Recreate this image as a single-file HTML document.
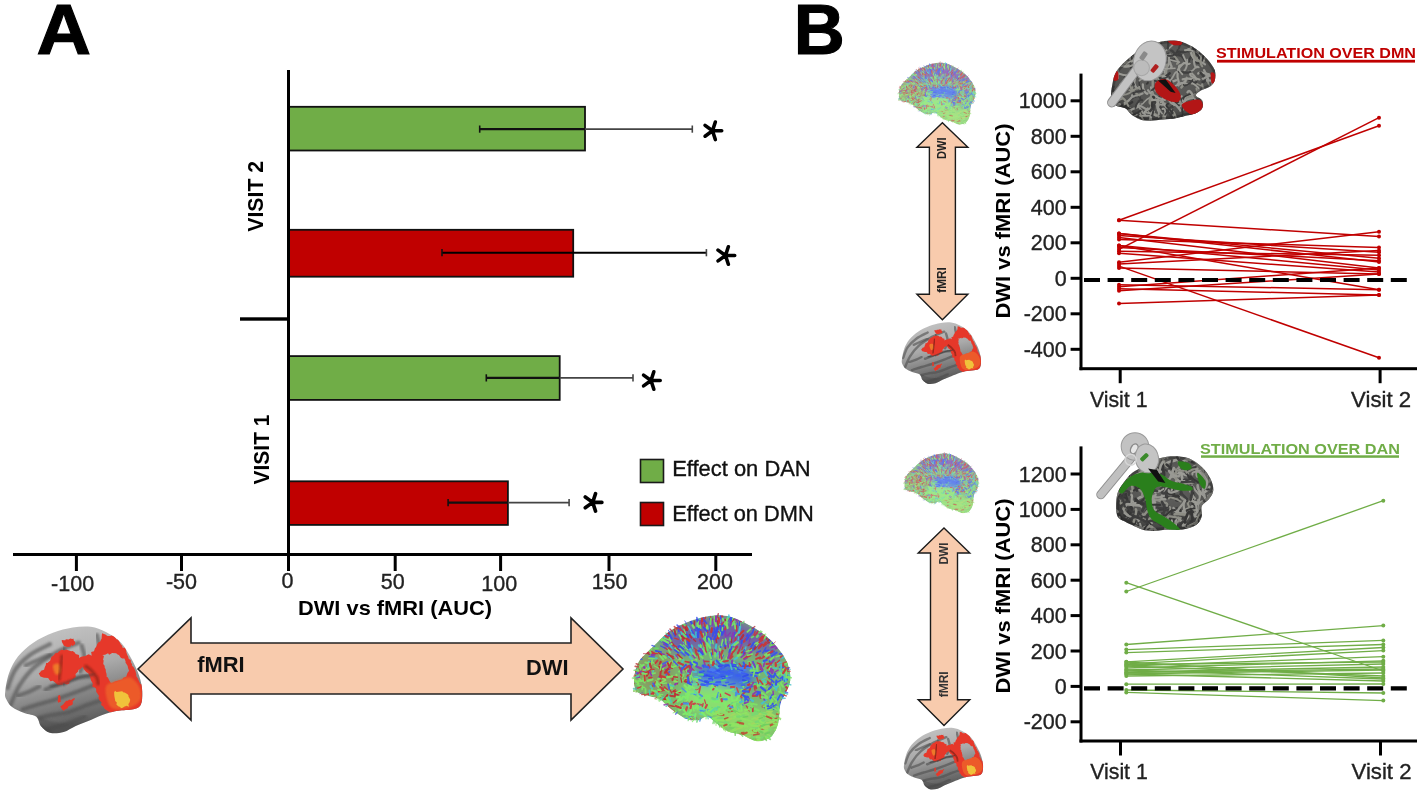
<!DOCTYPE html>
<html><head><meta charset="utf-8"><style>
html,body{margin:0;padding:0;background:#fff;}
body{width:1422px;height:793px;overflow:hidden;}
svg{display:block;font-family:"Liberation Sans", sans-serif;filter:blur(0.4px);}
</style></head><body>
<svg width="1422" height="793" viewBox="0 0 1422 793">
<rect width="1422" height="793" fill="#fff"/>
<text x="36.5" y="54.3" font-size="70.5" font-weight="bold" text-anchor="start" fill="#000" stroke="#000" stroke-width="1.1" textLength="54.5" lengthAdjust="spacingAndGlyphs">A</text>
<text x="793.8" y="54.3" font-size="70.5" font-weight="bold" text-anchor="start" fill="#000" stroke="#000" stroke-width="1.1" textLength="51" lengthAdjust="spacingAndGlyphs">B</text>
<rect x="289.00" y="106.80" width="296.00" height="43.70" fill="#70AD47" stroke="#111" stroke-width="1.8"/>
<rect x="289.00" y="229.80" width="284.20" height="46.90" fill="#C00000" stroke="#111" stroke-width="1.8"/>
<rect x="289.00" y="356.10" width="270.70" height="43.80" fill="#70AD47" stroke="#111" stroke-width="1.8"/>
<rect x="289.00" y="481.30" width="218.90" height="43.60" fill="#C00000" stroke="#111" stroke-width="1.8"/>
<line x1="479.70" y1="129.10" x2="585.00" y2="129.10" stroke="#111" stroke-width="2.2" />
<line x1="585.00" y1="129.10" x2="692.30" y2="129.10" stroke="#444" stroke-width="1.6" />
<line x1="479.70" y1="125.50" x2="479.70" y2="132.70" stroke="#111" stroke-width="1.6" />
<line x1="692.30" y1="125.50" x2="692.30" y2="132.70" stroke="#444" stroke-width="1.6" />
<line x1="442.00" y1="252.70" x2="706.40" y2="252.70" stroke="#000" stroke-width="2.0" />
<line x1="442.00" y1="249.10" x2="442.00" y2="256.30" stroke="#111" stroke-width="1.6" />
<line x1="706.40" y1="249.10" x2="706.40" y2="256.30" stroke="#444" stroke-width="1.6" />
<line x1="486.30" y1="377.90" x2="559.70" y2="377.90" stroke="#111" stroke-width="2.2" />
<line x1="559.70" y1="377.90" x2="633.00" y2="377.90" stroke="#444" stroke-width="1.6" />
<line x1="486.30" y1="374.30" x2="486.30" y2="381.50" stroke="#111" stroke-width="1.6" />
<line x1="633.00" y1="374.30" x2="633.00" y2="381.50" stroke="#444" stroke-width="1.6" />
<line x1="448.10" y1="502.60" x2="507.90" y2="502.60" stroke="#111" stroke-width="2.2" />
<line x1="507.90" y1="502.60" x2="569.10" y2="502.60" stroke="#444" stroke-width="1.6" />
<line x1="448.10" y1="499.00" x2="448.10" y2="506.20" stroke="#111" stroke-width="1.6" />
<line x1="569.10" y1="499.00" x2="569.10" y2="506.20" stroke="#444" stroke-width="1.6" />
<path d="M712.50,130.80 L721.70,130.80 M712.50,130.80 L715.34,139.55 M712.50,130.80 L705.06,136.21 M712.50,130.80 L705.06,125.39 M712.50,130.80 L715.34,122.05 " stroke="#000" stroke-width="3.6" stroke-linecap="round" fill="none"/>
<path d="M725.50,255.50 L734.70,255.50 M725.50,255.50 L728.34,264.25 M725.50,255.50 L718.06,260.91 M725.50,255.50 L718.06,250.09 M725.50,255.50 L728.34,246.75 " stroke="#000" stroke-width="3.6" stroke-linecap="round" fill="none"/>
<path d="M651.00,380.50 L660.20,380.50 M651.00,380.50 L653.84,389.25 M651.00,380.50 L643.56,385.91 M651.00,380.50 L643.56,375.09 M651.00,380.50 L653.84,371.75 " stroke="#000" stroke-width="3.6" stroke-linecap="round" fill="none"/>
<path d="M592.70,502.40 L601.90,502.40 M592.70,502.40 L595.54,511.15 M592.70,502.40 L585.26,507.81 M592.70,502.40 L585.26,496.99 M592.70,502.40 L595.54,493.65 " stroke="#000" stroke-width="3.6" stroke-linecap="round" fill="none"/>
<rect x="287.00" y="70.00" width="3.00" height="486.00" fill="#000" />
<rect x="13.00" y="553.00" width="739.00" height="3.00" fill="#000" />
<rect x="74.90" y="555.00" width="3.00" height="16.00" fill="#000" />
<rect x="180.00" y="555.00" width="3.00" height="16.00" fill="#000" />
<rect x="287.00" y="555.00" width="3.00" height="16.00" fill="#000" />
<rect x="393.70" y="555.00" width="3.00" height="16.00" fill="#000" />
<rect x="499.10" y="555.00" width="3.00" height="16.00" fill="#000" />
<rect x="607.50" y="555.00" width="3.00" height="16.00" fill="#000" />
<rect x="714.30" y="555.00" width="3.00" height="16.00" fill="#000" />
<rect x="240.00" y="317.30" width="48.00" height="3.40" fill="#000" />
<text x="72.6" y="590.5" font-size="21.5" font-weight="normal" text-anchor="middle" fill="#222"  stroke="#222" stroke-width="0.35">-100</text>
<text x="181.5" y="589" font-size="21.5" font-weight="normal" text-anchor="middle" fill="#222"  stroke="#222" stroke-width="0.35">-50</text>
<text x="287.6" y="587.5" font-size="21.5" font-weight="normal" text-anchor="middle" fill="#222"  stroke="#222" stroke-width="0.35">0</text>
<text x="392.7" y="589" font-size="21.5" font-weight="normal" text-anchor="middle" fill="#222"  stroke="#222" stroke-width="0.35">50</text>
<text x="499.2" y="591" font-size="21.5" font-weight="normal" text-anchor="middle" fill="#222"  stroke="#222" stroke-width="0.35">100</text>
<text x="609.6" y="589" font-size="21.5" font-weight="normal" text-anchor="middle" fill="#222"  stroke="#222" stroke-width="0.35">150</text>
<text x="715" y="589" font-size="21.5" font-weight="normal" text-anchor="middle" fill="#222"  stroke="#222" stroke-width="0.35">200</text>
<text x="395" y="615" font-size="20.5" font-weight="bold" text-anchor="middle" fill="#000"  textLength="194" lengthAdjust="spacingAndGlyphs">DWI vs fMRI (AUC)</text>
<text transform="translate(262.8,196.3) rotate(-90)" font-size="22.5" font-weight="bold" text-anchor="middle" textLength="71" lengthAdjust="spacingAndGlyphs">VISIT 2</text>
<text transform="translate(269,449.5) rotate(-90)" font-size="22.5" font-weight="bold" text-anchor="middle" textLength="70" lengthAdjust="spacingAndGlyphs">VISIT 1</text>
<rect x="640.50" y="459.50" width="23.00" height="23.00" fill="#70AD47" stroke="#1a1a1a" stroke-width="1.6"/>
<rect x="640.50" y="502.50" width="23.00" height="23.00" fill="#C00000" stroke="#1a1a1a" stroke-width="1.6"/>
<text x="672.2" y="476" font-size="21.3" font-weight="normal" text-anchor="start" fill="#111"  textLength="138.5" lengthAdjust="spacingAndGlyphs" stroke="#111" stroke-width="0.35">Effect on DAN</text>
<text x="672.2" y="521" font-size="21.3" font-weight="normal" text-anchor="start" fill="#111"  textLength="141.5" lengthAdjust="spacingAndGlyphs" stroke="#111" stroke-width="0.35">Effect on DMN</text>
<polygon points="138,669 191,618 191,643 571,643 571,618 623,669 571,720 571,694 191,694 191,720" fill="#F8CBAD" stroke="#222" stroke-width="1.6" stroke-linejoin="miter"/>
<text x="197.2" y="672" font-size="21.5" font-weight="bold" text-anchor="start" fill="#111"  textLength="47.5" lengthAdjust="spacingAndGlyphs">fMRI</text>
<text x="526" y="675" font-size="21.5" font-weight="bold" text-anchor="start" fill="#111"  textLength="42.5" lengthAdjust="spacingAndGlyphs">DWI</text>
<rect x="1079.50" y="73.60" width="3.00" height="296.60" fill="#000" />
<rect x="1079.50" y="367.20" width="337.50" height="3.00" fill="#000" />
<rect x="1070.60" y="99.30" width="10.00" height="3.00" fill="#000" />
<text x="1066.7" y="108.39999999999999" font-size="21.5" font-weight="normal" text-anchor="end" fill="#222"  stroke="#222" stroke-width="0.35">1000</text>
<rect x="1070.60" y="134.80" width="10.00" height="3.00" fill="#000" />
<text x="1066.7" y="143.9" font-size="21.5" font-weight="normal" text-anchor="end" fill="#222"  stroke="#222" stroke-width="0.35">800</text>
<rect x="1070.60" y="170.30" width="10.00" height="3.00" fill="#000" />
<text x="1066.7" y="179.4" font-size="21.5" font-weight="normal" text-anchor="end" fill="#222"  stroke="#222" stroke-width="0.35">600</text>
<rect x="1070.60" y="205.80" width="10.00" height="3.00" fill="#000" />
<text x="1066.7" y="214.9" font-size="21.5" font-weight="normal" text-anchor="end" fill="#222"  stroke="#222" stroke-width="0.35">400</text>
<rect x="1070.60" y="241.30" width="10.00" height="3.00" fill="#000" />
<text x="1066.7" y="250.4" font-size="21.5" font-weight="normal" text-anchor="end" fill="#222"  stroke="#222" stroke-width="0.35">200</text>
<rect x="1070.60" y="276.80" width="10.00" height="3.00" fill="#000" />
<text x="1066.7" y="285.90000000000003" font-size="21.5" font-weight="normal" text-anchor="end" fill="#222"  stroke="#222" stroke-width="0.35">0</text>
<rect x="1070.60" y="312.30" width="10.00" height="3.00" fill="#000" />
<text x="1066.7" y="321.40000000000003" font-size="21.5" font-weight="normal" text-anchor="end" fill="#222"  stroke="#222" stroke-width="0.35">-200</text>
<rect x="1070.60" y="347.80" width="10.00" height="3.00" fill="#000" />
<text x="1066.7" y="356.90000000000003" font-size="21.5" font-weight="normal" text-anchor="end" fill="#222"  stroke="#222" stroke-width="0.35">-400</text>
<rect x="1118.70" y="369.20" width="3.00" height="14.00" fill="#000" />
<rect x="1378.60" y="369.20" width="3.00" height="14.00" fill="#000" />
<text x="1118.7" y="406.8" font-size="21.3" font-weight="normal" text-anchor="middle" fill="#222"  stroke="#222" stroke-width="0.35">Visit 1</text>
<text x="1381.1" y="406.8" font-size="21.3" font-weight="normal" text-anchor="middle" fill="#222"  textLength="60" lengthAdjust="spacingAndGlyphs" stroke="#222" stroke-width="0.35">Visit 2</text>
<text transform="translate(1010,221) rotate(-90)" font-size="20.5" font-weight="bold" text-anchor="middle" textLength="195" lengthAdjust="spacingAndGlyphs">DWI vs fMRI (AUC)</text>
<line x1="1119.00" y1="220.20" x2="1379.00" y2="125.80" stroke="#C00000" stroke-width="1.5" />
<line x1="1119.00" y1="220.20" x2="1379.00" y2="236.60" stroke="#C00000" stroke-width="1.5" />
<line x1="1119.00" y1="249.40" x2="1379.00" y2="117.70" stroke="#C00000" stroke-width="1.5" />
<line x1="1119.00" y1="266.10" x2="1379.00" y2="357.80" stroke="#C00000" stroke-width="1.5" />
<line x1="1119.00" y1="233.60" x2="1379.00" y2="258.20" stroke="#C00000" stroke-width="1.5" />
<line x1="1119.00" y1="235.60" x2="1379.00" y2="252.30" stroke="#C00000" stroke-width="1.5" />
<line x1="1119.00" y1="237.60" x2="1379.00" y2="268.00" stroke="#C00000" stroke-width="1.5" />
<line x1="1119.00" y1="239.50" x2="1379.00" y2="247.40" stroke="#C00000" stroke-width="1.5" />
<line x1="1119.00" y1="245.40" x2="1379.00" y2="270.00" stroke="#C00000" stroke-width="1.5" />
<line x1="1119.00" y1="247.40" x2="1379.00" y2="260.80" stroke="#C00000" stroke-width="1.5" />
<line x1="1119.00" y1="251.30" x2="1379.00" y2="255.30" stroke="#C00000" stroke-width="1.5" />
<line x1="1119.00" y1="253.30" x2="1379.00" y2="272.00" stroke="#C00000" stroke-width="1.5" />
<line x1="1119.00" y1="262.20" x2="1379.00" y2="231.70" stroke="#C00000" stroke-width="1.5" />
<line x1="1119.00" y1="264.10" x2="1379.00" y2="250.40" stroke="#C00000" stroke-width="1.5" />
<line x1="1119.00" y1="268.10" x2="1379.00" y2="274.00" stroke="#C00000" stroke-width="1.5" />
<line x1="1119.00" y1="284.80" x2="1379.00" y2="289.70" stroke="#C00000" stroke-width="1.5" />
<line x1="1119.00" y1="286.80" x2="1379.00" y2="268.00" stroke="#C00000" stroke-width="1.5" />
<line x1="1119.00" y1="288.80" x2="1379.00" y2="295.00" stroke="#C00000" stroke-width="1.5" />
<line x1="1119.00" y1="290.70" x2="1379.00" y2="274.00" stroke="#C00000" stroke-width="1.5" />
<line x1="1119.00" y1="303.50" x2="1379.00" y2="295.00" stroke="#C00000" stroke-width="1.5" />
<line x1="1119.00" y1="245.40" x2="1379.00" y2="289.70" stroke="#C00000" stroke-width="1.5" />
<line x1="1119.00" y1="233.60" x2="1379.00" y2="262.00" stroke="#C00000" stroke-width="1.5" />
<circle cx="1119" cy="220.2" r="2" fill="#C00000"/><circle cx="1379" cy="125.8" r="2" fill="#C00000"/>
<circle cx="1119" cy="220.2" r="2" fill="#C00000"/><circle cx="1379" cy="236.6" r="2" fill="#C00000"/>
<circle cx="1119" cy="249.4" r="2" fill="#C00000"/><circle cx="1379" cy="117.7" r="2" fill="#C00000"/>
<circle cx="1119" cy="266.1" r="2" fill="#C00000"/><circle cx="1379" cy="357.8" r="2" fill="#C00000"/>
<circle cx="1119" cy="233.6" r="2" fill="#C00000"/><circle cx="1379" cy="258.2" r="2" fill="#C00000"/>
<circle cx="1119" cy="235.6" r="2" fill="#C00000"/><circle cx="1379" cy="252.3" r="2" fill="#C00000"/>
<circle cx="1119" cy="237.6" r="2" fill="#C00000"/><circle cx="1379" cy="268" r="2" fill="#C00000"/>
<circle cx="1119" cy="239.5" r="2" fill="#C00000"/><circle cx="1379" cy="247.4" r="2" fill="#C00000"/>
<circle cx="1119" cy="245.4" r="2" fill="#C00000"/><circle cx="1379" cy="270" r="2" fill="#C00000"/>
<circle cx="1119" cy="247.4" r="2" fill="#C00000"/><circle cx="1379" cy="260.8" r="2" fill="#C00000"/>
<circle cx="1119" cy="251.3" r="2" fill="#C00000"/><circle cx="1379" cy="255.3" r="2" fill="#C00000"/>
<circle cx="1119" cy="253.3" r="2" fill="#C00000"/><circle cx="1379" cy="272" r="2" fill="#C00000"/>
<circle cx="1119" cy="262.2" r="2" fill="#C00000"/><circle cx="1379" cy="231.7" r="2" fill="#C00000"/>
<circle cx="1119" cy="264.1" r="2" fill="#C00000"/><circle cx="1379" cy="250.4" r="2" fill="#C00000"/>
<circle cx="1119" cy="268.1" r="2" fill="#C00000"/><circle cx="1379" cy="274" r="2" fill="#C00000"/>
<circle cx="1119" cy="284.8" r="2" fill="#C00000"/><circle cx="1379" cy="289.7" r="2" fill="#C00000"/>
<circle cx="1119" cy="286.8" r="2" fill="#C00000"/><circle cx="1379" cy="268" r="2" fill="#C00000"/>
<circle cx="1119" cy="288.8" r="2" fill="#C00000"/><circle cx="1379" cy="295" r="2" fill="#C00000"/>
<circle cx="1119" cy="290.7" r="2" fill="#C00000"/><circle cx="1379" cy="274" r="2" fill="#C00000"/>
<circle cx="1119" cy="303.5" r="2" fill="#C00000"/><circle cx="1379" cy="295" r="2" fill="#C00000"/>
<circle cx="1119" cy="245.4" r="2" fill="#C00000"/><circle cx="1379" cy="289.7" r="2" fill="#C00000"/>
<circle cx="1119" cy="233.6" r="2" fill="#C00000"/><circle cx="1379" cy="262" r="2" fill="#C00000"/>
<line x1="1084.00" y1="280.00" x2="1409.00" y2="280.00" stroke="#000" stroke-width="4.2" stroke-dasharray="16 7.6"/>
<rect x="1079.50" y="446.40" width="3.00" height="296.10" fill="#000" />
<rect x="1079.50" y="739.50" width="337.50" height="3.00" fill="#000" />
<rect x="1070.60" y="472.50" width="10.00" height="3.00" fill="#000" />
<text x="1066.7" y="481.6" font-size="21.5" font-weight="normal" text-anchor="end" fill="#222"  stroke="#222" stroke-width="0.35">1200</text>
<rect x="1070.60" y="507.90" width="10.00" height="3.00" fill="#000" />
<text x="1066.7" y="517.0" font-size="21.5" font-weight="normal" text-anchor="end" fill="#222"  stroke="#222" stroke-width="0.35">1000</text>
<rect x="1070.60" y="543.30" width="10.00" height="3.00" fill="#000" />
<text x="1066.7" y="552.4" font-size="21.5" font-weight="normal" text-anchor="end" fill="#222"  stroke="#222" stroke-width="0.35">800</text>
<rect x="1070.60" y="578.70" width="10.00" height="3.00" fill="#000" />
<text x="1066.7" y="587.8000000000001" font-size="21.5" font-weight="normal" text-anchor="end" fill="#222"  stroke="#222" stroke-width="0.35">600</text>
<rect x="1070.60" y="614.10" width="10.00" height="3.00" fill="#000" />
<text x="1066.7" y="623.2" font-size="21.5" font-weight="normal" text-anchor="end" fill="#222"  stroke="#222" stroke-width="0.35">400</text>
<rect x="1070.60" y="649.50" width="10.00" height="3.00" fill="#000" />
<text x="1066.7" y="658.6" font-size="21.5" font-weight="normal" text-anchor="end" fill="#222"  stroke="#222" stroke-width="0.35">200</text>
<rect x="1070.60" y="684.90" width="10.00" height="3.00" fill="#000" />
<text x="1066.7" y="694.0" font-size="21.5" font-weight="normal" text-anchor="end" fill="#222"  stroke="#222" stroke-width="0.35">0</text>
<rect x="1070.60" y="720.30" width="10.00" height="3.00" fill="#000" />
<text x="1066.7" y="729.4" font-size="21.5" font-weight="normal" text-anchor="end" fill="#222"  stroke="#222" stroke-width="0.35">-200</text>
<rect x="1119.00" y="741.50" width="3.00" height="14.00" fill="#000" />
<rect x="1379.00" y="741.50" width="3.00" height="14.00" fill="#000" />
<text x="1119.0" y="779.1" font-size="21.3" font-weight="normal" text-anchor="middle" fill="#222"  stroke="#222" stroke-width="0.35">Visit 1</text>
<text x="1381.5" y="779.1" font-size="21.3" font-weight="normal" text-anchor="middle" fill="#222"  textLength="60" lengthAdjust="spacingAndGlyphs" stroke="#222" stroke-width="0.35">Visit 2</text>
<text transform="translate(1010,596) rotate(-90)" font-size="20.5" font-weight="bold" text-anchor="middle" textLength="195" lengthAdjust="spacingAndGlyphs">DWI vs fMRI (AUC)</text>
<line x1="1126.30" y1="591.50" x2="1383.30" y2="500.70" stroke="#70AD47" stroke-width="1.3" />
<line x1="1126.30" y1="582.70" x2="1383.30" y2="671.00" stroke="#70AD47" stroke-width="1.3" />
<line x1="1126.30" y1="644.50" x2="1383.30" y2="625.60" stroke="#70AD47" stroke-width="1.3" />
<line x1="1126.30" y1="649.60" x2="1383.30" y2="640.40" stroke="#70AD47" stroke-width="1.3" />
<line x1="1126.30" y1="652.60" x2="1383.30" y2="644.50" stroke="#70AD47" stroke-width="1.3" />
<line x1="1126.30" y1="661.80" x2="1383.30" y2="647.50" stroke="#70AD47" stroke-width="1.3" />
<line x1="1126.30" y1="663.80" x2="1383.30" y2="650.60" stroke="#70AD47" stroke-width="1.3" />
<line x1="1126.30" y1="666.00" x2="1383.30" y2="656.70" stroke="#70AD47" stroke-width="1.3" />
<line x1="1126.30" y1="668.00" x2="1383.30" y2="660.80" stroke="#70AD47" stroke-width="1.3" />
<line x1="1126.30" y1="670.00" x2="1383.30" y2="664.00" stroke="#70AD47" stroke-width="1.3" />
<line x1="1126.30" y1="672.00" x2="1383.30" y2="667.00" stroke="#70AD47" stroke-width="1.3" />
<line x1="1126.30" y1="674.00" x2="1383.30" y2="670.00" stroke="#70AD47" stroke-width="1.3" />
<line x1="1126.30" y1="676.00" x2="1383.30" y2="673.00" stroke="#70AD47" stroke-width="1.3" />
<line x1="1126.30" y1="666.00" x2="1383.30" y2="676.00" stroke="#70AD47" stroke-width="1.3" />
<line x1="1126.30" y1="670.00" x2="1383.30" y2="679.00" stroke="#70AD47" stroke-width="1.3" />
<line x1="1126.30" y1="674.00" x2="1383.30" y2="681.00" stroke="#70AD47" stroke-width="1.3" />
<line x1="1126.30" y1="684.20" x2="1383.30" y2="684.00" stroke="#70AD47" stroke-width="1.3" />
<line x1="1126.30" y1="692.40" x2="1383.30" y2="700.60" stroke="#70AD47" stroke-width="1.3" />
<line x1="1126.30" y1="664.50" x2="1383.30" y2="662.00" stroke="#70AD47" stroke-width="1.3" />
<line x1="1126.30" y1="672.50" x2="1383.30" y2="669.00" stroke="#70AD47" stroke-width="1.3" />
<line x1="1126.30" y1="662.00" x2="1383.30" y2="678.00" stroke="#70AD47" stroke-width="1.3" />
<line x1="1126.30" y1="690.00" x2="1383.30" y2="693.00" stroke="#70AD47" stroke-width="1.3" />
<circle cx="1126.3" cy="591.5" r="2" fill="#70AD47"/><circle cx="1383.3" cy="500.7" r="2" fill="#70AD47"/>
<circle cx="1126.3" cy="582.7" r="2" fill="#70AD47"/><circle cx="1383.3" cy="671" r="2" fill="#70AD47"/>
<circle cx="1126.3" cy="644.5" r="2" fill="#70AD47"/><circle cx="1383.3" cy="625.6" r="2" fill="#70AD47"/>
<circle cx="1126.3" cy="649.6" r="2" fill="#70AD47"/><circle cx="1383.3" cy="640.4" r="2" fill="#70AD47"/>
<circle cx="1126.3" cy="652.6" r="2" fill="#70AD47"/><circle cx="1383.3" cy="644.5" r="2" fill="#70AD47"/>
<circle cx="1126.3" cy="661.8" r="2" fill="#70AD47"/><circle cx="1383.3" cy="647.5" r="2" fill="#70AD47"/>
<circle cx="1126.3" cy="663.8" r="2" fill="#70AD47"/><circle cx="1383.3" cy="650.6" r="2" fill="#70AD47"/>
<circle cx="1126.3" cy="666" r="2" fill="#70AD47"/><circle cx="1383.3" cy="656.7" r="2" fill="#70AD47"/>
<circle cx="1126.3" cy="668" r="2" fill="#70AD47"/><circle cx="1383.3" cy="660.8" r="2" fill="#70AD47"/>
<circle cx="1126.3" cy="670" r="2" fill="#70AD47"/><circle cx="1383.3" cy="664" r="2" fill="#70AD47"/>
<circle cx="1126.3" cy="672" r="2" fill="#70AD47"/><circle cx="1383.3" cy="667" r="2" fill="#70AD47"/>
<circle cx="1126.3" cy="674" r="2" fill="#70AD47"/><circle cx="1383.3" cy="670" r="2" fill="#70AD47"/>
<circle cx="1126.3" cy="676" r="2" fill="#70AD47"/><circle cx="1383.3" cy="673" r="2" fill="#70AD47"/>
<circle cx="1126.3" cy="666" r="2" fill="#70AD47"/><circle cx="1383.3" cy="676" r="2" fill="#70AD47"/>
<circle cx="1126.3" cy="670" r="2" fill="#70AD47"/><circle cx="1383.3" cy="679" r="2" fill="#70AD47"/>
<circle cx="1126.3" cy="674" r="2" fill="#70AD47"/><circle cx="1383.3" cy="681" r="2" fill="#70AD47"/>
<circle cx="1126.3" cy="684.2" r="2" fill="#70AD47"/><circle cx="1383.3" cy="684" r="2" fill="#70AD47"/>
<circle cx="1126.3" cy="692.4" r="2" fill="#70AD47"/><circle cx="1383.3" cy="700.6" r="2" fill="#70AD47"/>
<circle cx="1126.3" cy="664.5" r="2" fill="#70AD47"/><circle cx="1383.3" cy="662" r="2" fill="#70AD47"/>
<circle cx="1126.3" cy="672.5" r="2" fill="#70AD47"/><circle cx="1383.3" cy="669" r="2" fill="#70AD47"/>
<circle cx="1126.3" cy="662" r="2" fill="#70AD47"/><circle cx="1383.3" cy="678" r="2" fill="#70AD47"/>
<circle cx="1126.3" cy="690" r="2" fill="#70AD47"/><circle cx="1383.3" cy="693" r="2" fill="#70AD47"/>
<line x1="1084.00" y1="688.30" x2="1409.00" y2="688.30" stroke="#000" stroke-width="4.2" stroke-dasharray="16 7.6"/>
<text x="1216" y="57.8" font-size="15" font-weight="bold" text-anchor="start" fill="#C00000"  textLength="200" lengthAdjust="spacingAndGlyphs">STIMULATION OVER DMN</text>
<rect x="1217.00" y="59.80" width="198.00" height="2.80" fill="#C00000" />
<text x="1200" y="454" font-size="15.5" font-weight="bold" text-anchor="start" fill="#70AD47"  textLength="200" lengthAdjust="spacingAndGlyphs">STIMULATION OVER DAN</text>
<rect x="1201.00" y="455.30" width="198.00" height="2.50" fill="#70AD47" />
<polygon points="942.4,122.7 967.9,147.3 955.4,147.3 955.4,294.3 967.9,294.3 942.4,319.8 916.9,294.3 929.4,294.3 929.4,147.3 916.9,147.3" fill="#F8CBAD" stroke="#1a1a1a" stroke-width="1.4"/>
<text transform="translate(946.3,137.5) rotate(-90)" font-size="12" font-weight="bold" text-anchor="end" fill="#222" textLength="21.5" lengthAdjust="spacingAndGlyphs">DWI</text>
<text transform="translate(946.3,267.2) rotate(-90)" font-size="12" font-weight="bold" text-anchor="end" fill="#222" textLength="25.5" lengthAdjust="spacingAndGlyphs">fMRI</text>
<polygon points="944.0,528.0 969.8,553.0 957.5,553.0 957.5,699.8 969.8,699.8 944.0,725.5 918.2,699.8 930.5,699.8 930.5,553.0 918.2,553.0" fill="#F8CBAD" stroke="#1a1a1a" stroke-width="1.4"/>
<text transform="translate(948.3,542.6) rotate(-90)" font-size="12" font-weight="bold" text-anchor="end" fill="#333" textLength="22" lengthAdjust="spacingAndGlyphs">DWI</text>
<text transform="translate(948.3,671.3) rotate(-90)" font-size="12" font-weight="bold" text-anchor="end" fill="#333" textLength="26" lengthAdjust="spacingAndGlyphs">fMRI</text>
<defs>
<clipPath id="fmclip"><path d="M35.0,470.0 C38.3,441.7 45.8,388.3 60.0,350.0 C74.2,311.7 93.3,273.3 120.0,240.0 C146.7,206.7 181.7,175.8 220.0,150.0 C258.3,124.2 306.7,101.7 350.0,85.0 C393.3,68.3 438.3,56.7 480.0,50.0 C521.7,43.3 563.3,40.0 600.0,45.0 C636.7,50.0 666.7,62.5 700.0,80.0 C733.3,97.5 771.7,120.0 800.0,150.0 C828.3,180.0 850.0,223.3 870.0,260.0 C890.0,296.7 908.3,335.0 920.0,370.0 C931.7,405.0 938.3,438.3 940.0,470.0 C941.7,501.7 940.0,540.0 930.0,560.0 C920.0,580.0 905.0,583.3 880.0,590.0 C855.0,596.7 810.0,595.0 780.0,600.0 C750.0,605.0 730.0,610.0 700.0,620.0 C670.0,630.0 633.3,646.7 600.0,660.0 C566.7,673.3 530.0,686.7 500.0,700.0 C470.0,713.3 448.3,732.5 420.0,740.0 C391.7,747.5 355.0,751.7 330.0,745.0 C305.0,738.3 285.0,717.5 270.0,700.0 C255.0,682.5 258.3,654.2 240.0,640.0 C221.7,625.8 186.7,625.8 160.0,615.0 C133.3,604.2 100.0,590.8 80.0,575.0 C60.0,559.2 47.5,537.5 40.0,520.0 C32.5,502.5 31.7,498.3 35.0,470.0 Z"/></clipPath>
<linearGradient id="fmgrad" x1="0" y1="0" x2="0.3" y2="1"><stop offset="0" stop-color="#c8c8c8"/><stop offset="0.5" stop-color="#aaaaaa"/><stop offset="1" stop-color="#5a5a5a"/></linearGradient>
<filter id="fmblur" x="-10%" y="-10%" width="120%" height="120%"><feGaussianBlur stdDeviation="7"/></filter>
<filter id="fmblur2" x="-10%" y="-10%" width="120%" height="120%"><feGaussianBlur stdDeviation="3"/></filter>
</defs>
<defs>
<clipPath id="dticlip"><path d="M50.0,400.0 C51.7,375.0 60.0,341.7 70.0,320.0 C80.0,298.3 93.3,288.3 110.0,270.0 C126.7,251.7 146.7,231.7 170.0,210.0 C193.3,188.3 220.0,160.0 250.0,140.0 C280.0,120.0 315.0,103.3 350.0,90.0 C385.0,76.7 425.0,65.0 460.0,60.0 C495.0,55.0 526.7,53.3 560.0,60.0 C593.3,66.7 626.7,83.3 660.0,100.0 C693.3,116.7 730.0,136.7 760.0,160.0 C790.0,183.3 818.3,213.3 840.0,240.0 C861.7,266.7 879.2,291.7 890.0,320.0 C900.8,348.3 906.7,383.3 905.0,410.0 C903.3,436.7 889.2,458.3 880.0,480.0 C870.8,501.7 856.7,513.3 850.0,540.0 C843.3,566.7 848.3,610.0 840.0,640.0 C831.7,670.0 820.0,702.5 800.0,720.0 C780.0,737.5 746.7,746.7 720.0,745.0 C693.3,743.3 666.7,719.2 640.0,710.0 C613.3,700.8 585.0,701.7 560.0,690.0 C535.0,678.3 508.3,653.3 490.0,640.0 C471.7,626.7 465.0,611.7 450.0,610.0 C435.0,608.3 418.3,627.5 400.0,630.0 C381.7,632.5 360.0,631.7 340.0,625.0 C320.0,618.3 298.3,602.5 280.0,590.0 C261.7,577.5 245.0,562.5 230.0,550.0 C215.0,537.5 208.3,524.2 190.0,515.0 C171.7,505.8 141.7,502.5 120.0,495.0 C98.3,487.5 71.7,485.8 60.0,470.0 C48.3,454.2 48.3,425.0 50.0,400.0 Z"/></clipPath>
<filter id="dtiblur" x="-10%" y="-10%" width="120%" height="120%"><feGaussianBlur stdDeviation="3.8"/></filter>
<filter id="dtiblur2" x="-20%" y="-20%" width="140%" height="140%"><feGaussianBlur stdDeviation="30"/></filter>
</defs>
<defs>
<clipPath id="cb1"><path d="M100.0,420.0 C106.7,385.0 113.3,358.3 130.0,330.0 C146.7,301.7 171.7,276.7 200.0,250.0 C228.3,223.3 263.3,193.3 300.0,170.0 C336.7,146.7 380.0,124.2 420.0,110.0 C460.0,95.8 501.7,87.5 540.0,85.0 C578.3,82.5 613.3,84.2 650.0,95.0 C686.7,105.8 726.7,127.5 760.0,150.0 C793.3,172.5 825.0,201.7 850.0,230.0 C875.0,258.3 900.0,291.7 910.0,320.0 C920.0,348.3 916.7,378.3 910.0,400.0 C903.3,421.7 888.3,436.7 870.0,450.0 C851.7,463.3 818.3,468.3 800.0,480.0 C781.7,491.7 758.3,506.7 760.0,520.0 C761.7,533.3 801.7,543.3 810.0,560.0 C818.3,576.7 818.3,603.3 810.0,620.0 C801.7,636.7 781.7,650.0 760.0,660.0 C738.3,670.0 706.7,673.3 680.0,680.0 C653.3,686.7 630.0,695.0 600.0,700.0 C570.0,705.0 533.3,706.7 500.0,710.0 C466.7,713.3 430.0,720.0 400.0,720.0 C370.0,720.0 345.0,718.3 320.0,710.0 C295.0,701.7 270.0,685.0 250.0,670.0 C230.0,655.0 220.0,631.7 200.0,620.0 C180.0,608.3 148.3,613.3 130.0,600.0 C111.7,586.7 95.0,570.0 90.0,540.0 C85.0,510.0 93.3,455.0 100.0,420.0 Z"/></clipPath>
<radialGradient id="cbg1" cx="0.5" cy="0.4" r="0.7"><stop offset="0" stop-color="#626260"/><stop offset="0.7" stop-color="#525250"/><stop offset="1" stop-color="#262626"/></radialGradient>
<filter id="cbf1"><feGaussianBlur stdDeviation="4"/></filter>
<filter id="cbf21"><feGaussianBlur stdDeviation="2"/></filter>
</defs>
<defs>
<clipPath id="cb2"><path d="M180.0,560.0 C180.0,533.3 181.7,496.7 190.0,470.0 C198.3,443.3 213.3,423.3 230.0,400.0 C246.7,376.7 265.0,350.0 290.0,330.0 C315.0,310.0 348.3,296.7 380.0,280.0 C411.7,263.3 446.7,240.8 480.0,230.0 C513.3,219.2 546.7,215.0 580.0,215.0 C613.3,215.0 648.3,217.5 680.0,230.0 C711.7,242.5 745.0,266.7 770.0,290.0 C795.0,313.3 816.7,343.3 830.0,370.0 C843.3,396.7 851.7,426.7 850.0,450.0 C848.3,473.3 833.3,491.7 820.0,510.0 C806.7,528.3 778.3,540.0 770.0,560.0 C761.7,580.0 776.7,608.3 770.0,630.0 C763.3,651.7 751.7,675.0 730.0,690.0 C708.3,705.0 671.7,715.0 640.0,720.0 C608.3,725.0 573.3,718.3 540.0,720.0 C506.7,721.7 470.0,730.0 440.0,730.0 C410.0,730.0 385.0,726.7 360.0,720.0 C335.0,713.3 311.7,700.0 290.0,690.0 C268.3,680.0 246.7,670.0 230.0,660.0 C213.3,650.0 198.3,646.7 190.0,630.0 C181.7,613.3 180.0,586.7 180.0,560.0 Z"/></clipPath>
<radialGradient id="cbg2" cx="0.5" cy="0.4" r="0.7"><stop offset="0" stop-color="#626260"/><stop offset="0.7" stop-color="#525250"/><stop offset="1" stop-color="#262626"/></radialGradient>
<filter id="cbf2"><feGaussianBlur stdDeviation="4"/></filter>
<filter id="cbf22"><feGaussianBlur stdDeviation="2"/></filter>
</defs>
<defs><g id="fmri">
<path d="M35.0,470.0 C38.3,441.7 45.8,388.3 60.0,350.0 C74.2,311.7 93.3,273.3 120.0,240.0 C146.7,206.7 181.7,175.8 220.0,150.0 C258.3,124.2 306.7,101.7 350.0,85.0 C393.3,68.3 438.3,56.7 480.0,50.0 C521.7,43.3 563.3,40.0 600.0,45.0 C636.7,50.0 666.7,62.5 700.0,80.0 C733.3,97.5 771.7,120.0 800.0,150.0 C828.3,180.0 850.0,223.3 870.0,260.0 C890.0,296.7 908.3,335.0 920.0,370.0 C931.7,405.0 938.3,438.3 940.0,470.0 C941.7,501.7 940.0,540.0 930.0,560.0 C920.0,580.0 905.0,583.3 880.0,590.0 C855.0,596.7 810.0,595.0 780.0,600.0 C750.0,605.0 730.0,610.0 700.0,620.0 C670.0,630.0 633.3,646.7 600.0,660.0 C566.7,673.3 530.0,686.7 500.0,700.0 C470.0,713.3 448.3,732.5 420.0,740.0 C391.7,747.5 355.0,751.7 330.0,745.0 C305.0,738.3 285.0,717.5 270.0,700.0 C255.0,682.5 258.3,654.2 240.0,640.0 C221.7,625.8 186.7,625.8 160.0,615.0 C133.3,604.2 100.0,590.8 80.0,575.0 C60.0,559.2 47.5,537.5 40.0,520.0 C32.5,502.5 31.7,498.3 35.0,470.0 Z" fill="url(#fmgrad)"/>
<g clip-path="url(#fmclip)">
<path d="M70.0,560.0 C80.0,538.3 103.3,471.7 130.0,430.0 C156.7,388.3 188.3,346.7 230.0,310.0 C271.7,273.3 331.7,236.7 380.0,210.0 C428.3,183.3 496.7,160.0 520.0,150.0 " stroke="#505050" stroke-width="28" fill="none" stroke-linecap="round" opacity="0.6" filter="url(#fmblur)"/>
<path d="M50.0,450.0 C58.3,430.0 75.0,366.7 100.0,330.0 C125.0,293.3 161.7,258.3 200.0,230.0 C238.3,201.7 308.3,171.7 330.0,160.0 " stroke="#505050" stroke-width="28" fill="none" stroke-linecap="round" opacity="0.6" filter="url(#fmblur)"/>
<path d="M150.0,590.0 C168.3,584.2 221.7,566.7 260.0,555.0 C298.3,543.3 336.7,534.2 380.0,520.0 C423.3,505.8 480.0,485.0 520.0,470.0 C560.0,455.0 603.3,436.7 620.0,430.0 " stroke="#505050" stroke-width="28" fill="none" stroke-linecap="round" opacity="0.6" filter="url(#fmblur)"/>
<path d="M300.0,460.0 C316.7,453.3 363.3,433.3 400.0,420.0 C436.7,406.7 480.0,388.3 520.0,380.0 C560.0,371.7 620.0,371.7 640.0,370.0 " stroke="#505050" stroke-width="28" fill="none" stroke-linecap="round" opacity="0.6" filter="url(#fmblur)"/>
<path d="M420.0,190.0 C423.3,208.3 440.0,261.7 440.0,300.0 C440.0,338.3 423.3,400.0 420.0,420.0 " stroke="#505050" stroke-width="28" fill="none" stroke-linecap="round" opacity="0.6" filter="url(#fmblur)"/>
<path d="M540.0,170.0 C543.3,185.0 561.7,231.7 560.0,260.0 C558.3,288.3 535.0,326.7 530.0,340.0 " stroke="#505050" stroke-width="28" fill="none" stroke-linecap="round" opacity="0.6" filter="url(#fmblur)"/>
<path d="M250.0,650.0 C263.3,646.7 296.7,636.7 330.0,630.0 C363.3,623.3 408.3,621.7 450.0,610.0 C491.7,598.3 538.3,575.0 580.0,560.0 C621.7,545.0 680.0,526.7 700.0,520.0 " stroke="#505050" stroke-width="28" fill="none" stroke-linecap="round" opacity="0.6" filter="url(#fmblur)"/>
<path d="M320.0,720.0 C338.3,715.0 390.0,703.3 430.0,690.0 C470.0,676.7 538.3,648.3 560.0,640.0 " stroke="#505050" stroke-width="28" fill="none" stroke-linecap="round" opacity="0.6" filter="url(#fmblur)"/>
<path d="M640.0,100.0 C643.3,116.7 658.3,168.3 660.0,200.0 C661.7,231.7 651.7,275.0 650.0,290.0 " stroke="#505050" stroke-width="28" fill="none" stroke-linecap="round" opacity="0.6" filter="url(#fmblur)"/>
<path d="M120.0,500.0 C133.3,495.0 176.7,480.0 200.0,470.0 C223.3,460.0 250.0,445.0 260.0,440.0 " stroke="#505050" stroke-width="28" fill="none" stroke-linecap="round" opacity="0.6" filter="url(#fmblur)"/>
<path d="M170.0,300.0 C185.0,293.3 233.3,271.7 260.0,260.0 C286.7,248.3 318.3,235.0 330.0,230.0 " stroke="#505050" stroke-width="28" fill="none" stroke-linecap="round" opacity="0.6" filter="url(#fmblur)"/>
<path d="M0,540 C150,620 300,700 420,800 L0,800Z" fill="#404040" opacity="0.45" filter="url(#fmblur)"/>
<path d="M260,640 C400,720 600,680 800,600 L800,800 L260,800Z" fill="#404040" opacity="0.3" filter="url(#fmblur)"/>
<g filter="url(#fmblur2)"><path d="M606,236 L602,211 L621,207 L627,187 L635,178 L643,159 L649,149 L661,143 L671,123 L672,106 L674,88 L696,95 L710,106 L728,105 L740,100 L758,105 L769,128 L780,128 L792,148 L798,161 L807,170 L810,184 L828,184 L834,203 L835,213 L841,232 L847,243 L851,257 L864,264 L865,283 L873,290 L871,301 L883,312 L891,327 L896,341 L901,360 L900,370 L911,386 L915,396 L926,421 L937,424 L942,447 L947,454 L947,466 L949,483 L946,505 L941,514 L949,524 L937,547 L937,559 L928,568 L917,580 L902,591 L887,596 L873,597 L868,597 L844,607 L830,600 L823,603 L794,608 L787,615 L765,610 L748,613 L744,618 L729,610 L712,601 L690,586 L684,573 L668,561 L671,543 L659,533 L650,515 L654,502 L646,489 L636,476 L635,454 L623,445 L614,442 L610,437 L613,420 L600,396 L597,381 L592,372 L583,352 L569,343 L553,323 L549,315 L543,306 L524,296 L516,286 L527,273 L531,259 L536,246 L561,241 L569,235 L586,226Z M676,231 L694,229 L714,220 L721,229 L741,218 L767,220 L777,228 L786,231 L798,249 L808,255 L822,254 L830,275 L829,281 L843,302 L847,321 L853,336 L842,351 L836,369 L835,374 L812,383 L810,392 L792,397 L775,401 L758,406 L746,413 L733,416 L725,404 L712,379 L705,377 L704,357 L699,338 L699,329 L689,308 L695,307 L682,290 L685,267 L681,262 L687,238Z" fill="#e6392a" fill-rule="evenodd"/><path d="M256,354 L267,344 L271,335 L291,329 L297,309 L302,299 L305,284 L314,284 L331,270 L338,250 L339,244 L353,235 L369,217 L379,218 L392,204 L406,196 L426,200 L436,195 L456,201 L470,207 L480,204 L494,215 L500,225 L522,232 L524,252 L534,263 L545,273 L559,283 L559,296 L549,307 L531,323 L517,331 L518,339 L499,356 L501,377 L486,388 L473,397 L459,408 L458,419 L443,426 L418,418 L417,426 L394,430 L382,429 L362,412 L349,402 L333,405 L318,383 L297,382 L291,381 L267,374Z" fill="#e6392a"/><path d="M411,132 L423,134 L432,133 L435,128 L454,129 L464,123 L470,124 L480,126 L485,122 L489,139 L495,142 L497,151 L496,161 L479,171 L470,166 L467,175 L449,178 L440,177 L428,174 L423,170 L416,158 L410,147 L407,136Z" fill="#e6392a"/><path d="M382,503 L390,496 L396,496 L400,508 L400,520 L400,531 L404,539 L384,546 L381,534 L384,521 L383,513Z" fill="#e6392a"/><path d="M398,572 L410,563 L417,559 L421,553 L429,544 L437,533 L449,533 L456,525 L471,529 L481,521 L495,515 L491,528 L481,536 L481,553 L477,561 L473,564 L463,567 L450,574 L448,582 L435,589 L428,592 L423,602 L411,592 L407,587Z" fill="#e6392a"/><path d="M517,255 L526,250 L536,242 L555,240 L561,240 L568,248 L573,259 L580,261 L587,270 L599,284 L594,286 L588,305 L581,311 L579,322 L568,317 L560,311 L554,306 L536,296 L540,290 L529,284 L529,272 L528,258Z" fill="#e6392a"/></g>
<path d="M700.0,440.0 C710.0,413.3 753.3,410.0 780.0,400.0 C806.7,390.0 836.7,373.3 860.0,380.0 C883.3,386.7 908.3,416.7 920.0,440.0 C931.7,463.3 936.7,498.3 930.0,520.0 C923.3,541.7 905.0,558.3 880.0,570.0 C855.0,581.7 806.7,591.7 780.0,590.0 C753.3,588.3 733.3,585.0 720.0,560.0 C706.7,535.0 690.0,466.7 700.0,440.0 Z" fill="#ee6a2a" opacity="0.7" filter="url(#fmblur)"/>
<path d="M760,468 L770,476 L782,474 L807,471 L817,479 L824,479 L840,489 L848,496 L849,505 L860,525 L859,536 L854,548 L848,555 L852,573 L837,567 L823,571 L811,580 L798,583 L795,575 L781,570 L769,559 L772,545 L761,535 L761,531 L756,506 L755,498 L754,479Z" fill="#f0c23a" filter="url(#fmblur2)"/>
<path d="M350.0,300.0 C353.3,288.3 381.7,283.3 390.0,290.0 C398.3,296.7 403.3,328.3 400.0,340.0 C396.7,351.7 378.3,366.7 370.0,360.0 C361.7,353.3 346.7,311.7 350.0,300.0 Z" fill="#f08a2a" opacity="0.8" filter="url(#fmblur)"/>
<path d="M410.0,230.0 C408.3,245.0 403.3,291.7 400.0,320.0 C396.7,348.3 391.7,386.7 390.0,400.0 " stroke="#5a1a10" stroke-width="16" fill="none" opacity="0.55" filter="url(#fmblur)"/>
<path d="M560.0,300.0 C566.7,305.0 586.7,316.7 600.0,330.0 C613.3,343.3 631.7,363.3 640.0,380.0 C648.3,396.7 648.3,421.7 650.0,430.0 " stroke="#5a1a10" stroke-width="20" fill="none" opacity="0.5" filter="url(#fmblur)"/>
<path d="M330.0,440.0 C345.0,436.7 388.3,430.0 420.0,420.0 C451.7,410.0 486.7,390.0 520.0,380.0 C553.3,370.0 603.3,363.3 620.0,360.0 " stroke="#3a3a3a" stroke-width="14" fill="none" opacity="0.6" filter="url(#fmblur)"/>
</g></g><g id="dti">
<g clip-path="url(#dticlip)">
<path d="M50.0,400.0 C51.7,375.0 60.0,341.7 70.0,320.0 C80.0,298.3 93.3,288.3 110.0,270.0 C126.7,251.7 146.7,231.7 170.0,210.0 C193.3,188.3 220.0,160.0 250.0,140.0 C280.0,120.0 315.0,103.3 350.0,90.0 C385.0,76.7 425.0,65.0 460.0,60.0 C495.0,55.0 526.7,53.3 560.0,60.0 C593.3,66.7 626.7,83.3 660.0,100.0 C693.3,116.7 730.0,136.7 760.0,160.0 C790.0,183.3 818.3,213.3 840.0,240.0 C861.7,266.7 879.2,291.7 890.0,320.0 C900.8,348.3 906.7,383.3 905.0,410.0 C903.3,436.7 889.2,458.3 880.0,480.0 C870.8,501.7 856.7,513.3 850.0,540.0 C843.3,566.7 848.3,610.0 840.0,640.0 C831.7,670.0 820.0,702.5 800.0,720.0 C780.0,737.5 746.7,746.7 720.0,745.0 C693.3,743.3 666.7,719.2 640.0,710.0 C613.3,700.8 585.0,701.7 560.0,690.0 C535.0,678.3 508.3,653.3 490.0,640.0 C471.7,626.7 465.0,611.7 450.0,610.0 C435.0,608.3 418.3,627.5 400.0,630.0 C381.7,632.5 360.0,631.7 340.0,625.0 C320.0,618.3 298.3,602.5 280.0,590.0 C261.7,577.5 245.0,562.5 230.0,550.0 C215.0,537.5 208.3,524.2 190.0,515.0 C171.7,505.8 141.7,502.5 120.0,495.0 C98.3,487.5 71.7,485.8 60.0,470.0 C48.3,454.2 48.3,425.0 50.0,400.0 Z" fill="#78b870"/>
<g filter="url(#dtiblur2)">
<path d="M200.0,200.0 C208.3,173.3 290.0,121.7 350.0,100.0 C410.0,78.3 491.7,60.0 560.0,70.0 C628.3,80.0 710.0,121.7 760.0,160.0 C810.0,198.3 870.0,285.0 860.0,300.0 C850.0,315.0 760.0,261.7 700.0,250.0 C640.0,238.3 566.7,228.3 500.0,230.0 C433.3,231.7 350.0,265.0 300.0,260.0 C250.0,255.0 191.7,226.7 200.0,200.0 Z" fill="#7060a8"/>
<path d="M380.0,380.0 C390.0,361.7 443.3,338.3 480.0,330.0 C516.7,321.7 565.0,325.0 600.0,330.0 C635.0,335.0 673.3,343.3 690.0,360.0 C706.7,376.7 711.7,415.0 700.0,430.0 C688.3,445.0 650.0,451.7 620.0,450.0 C590.0,448.3 553.3,421.7 520.0,420.0 C486.7,418.3 443.3,446.7 420.0,440.0 C396.7,433.3 370.0,398.3 380.0,380.0 Z" fill="#3a64ea"/>
<path d="M320.0,460.0 C338.3,438.3 403.3,428.3 450.0,430.0 C496.7,431.7 571.7,448.3 600.0,470.0 C628.3,491.7 640.0,538.3 620.0,560.0 C600.0,581.7 526.7,600.0 480.0,600.0 C433.3,600.0 366.7,583.3 340.0,560.0 C313.3,536.7 301.7,481.7 320.0,460.0 Z" fill="#88e070"/>
<path d="M500.0,600.0 C500.0,575.0 573.3,573.3 620.0,570.0 C666.7,566.7 745.0,565.0 780.0,580.0 C815.0,595.0 833.3,635.0 830.0,660.0 C826.7,685.0 795.0,720.0 760.0,730.0 C725.0,740.0 663.3,741.7 620.0,720.0 C576.7,698.3 500.0,625.0 500.0,600.0 Z" fill="#90d868"/>
<path d="M60.0,330.0 C66.7,293.3 126.7,265.0 160.0,260.0 C193.3,255.0 246.7,266.7 260.0,300.0 C273.3,333.3 263.3,430.0 240.0,460.0 C216.7,490.0 150.0,501.7 120.0,480.0 C90.0,458.3 53.3,366.7 60.0,330.0 Z" fill="#8a9a60"/>
</g>
<g filter="url(#dtiblur)" stroke-linecap="round">
<line x1="247" y1="431" x2="257" y2="455" stroke="#8ae060" stroke-width="11"/>
<line x1="97" y1="59" x2="88" y2="42" stroke="#8a3ab0" stroke-width="8"/>
<line x1="906" y1="379" x2="886" y2="391" stroke="#7ce066" stroke-width="8"/>
<line x1="592" y1="658" x2="621" y2="658" stroke="#8ee462" stroke-width="7"/>
<line x1="179" y1="720" x2="208" y2="724" stroke="#4a60e0" stroke-width="10"/>
<line x1="557" y1="694" x2="587" y2="691" stroke="#a0d860" stroke-width="10"/>
<line x1="673" y1="454" x2="657" y2="456" stroke="#7ce066" stroke-width="7"/>
<line x1="71" y1="396" x2="90" y2="416" stroke="#8ae060" stroke-width="9"/>
<line x1="406" y1="633" x2="401" y2="657" stroke="#3a58e8" stroke-width="11"/>
<line x1="242" y1="286" x2="233" y2="274" stroke="#4a60e0" stroke-width="11"/>
<line x1="624" y1="164" x2="648" y2="141" stroke="#c83838" stroke-width="11"/>
<line x1="131" y1="509" x2="117" y2="540" stroke="#4a60e0" stroke-width="9"/>
<line x1="148" y1="387" x2="138" y2="409" stroke="#50c8b0" stroke-width="7"/>
<line x1="397" y1="156" x2="381" y2="131" stroke="#3a50e8" stroke-width="7"/>
<line x1="566" y1="583" x2="592" y2="580" stroke="#b85a3a" stroke-width="9"/>
<line x1="480" y1="749" x2="488" y2="762" stroke="#7ce066" stroke-width="7"/>
<line x1="866" y1="730" x2="884" y2="726" stroke="#8ee462" stroke-width="7"/>
<line x1="893" y1="288" x2="907" y2="280" stroke="#3a58e8" stroke-width="10"/>
<line x1="441" y1="414" x2="466" y2="417" stroke="#3b5ff0" stroke-width="7"/>
<line x1="580" y1="708" x2="602" y2="709" stroke="#8ee462" stroke-width="12"/>
<line x1="247" y1="261" x2="234" y2="240" stroke="#7ce066" stroke-width="9"/>
<line x1="50" y1="341" x2="46" y2="355" stroke="#b83a3a" stroke-width="11"/>
<line x1="590" y1="92" x2="599" y2="71" stroke="#7ce066" stroke-width="9"/>
<line x1="570" y1="245" x2="579" y2="221" stroke="#7ce066" stroke-width="7"/>
<line x1="878" y1="226" x2="901" y2="213" stroke="#40c0d0" stroke-width="8"/>
<line x1="357" y1="269" x2="337" y2="253" stroke="#6ad86a" stroke-width="10"/>
<line x1="131" y1="619" x2="104" y2="622" stroke="#c83a3a" stroke-width="9"/>
<line x1="475" y1="508" x2="489" y2="523" stroke="#80ea6a" stroke-width="10"/>
<line x1="605" y1="118" x2="619" y2="88" stroke="#7ce066" stroke-width="8"/>
<line x1="421" y1="649" x2="439" y2="659" stroke="#8a40b0" stroke-width="11"/>
<line x1="432" y1="208" x2="417" y2="189" stroke="#8a3ab0" stroke-width="9"/>
<line x1="742" y1="637" x2="760" y2="631" stroke="#7ad870" stroke-width="12"/>
<line x1="114" y1="484" x2="108" y2="505" stroke="#c04040" stroke-width="9"/>
<line x1="444" y1="494" x2="460" y2="514" stroke="#80ea6a" stroke-width="10"/>
<line x1="176" y1="53" x2="167" y2="23" stroke="#7ce066" stroke-width="10"/>
<line x1="526" y1="740" x2="541" y2="743" stroke="#a0d860" stroke-width="12"/>
<line x1="691" y1="724" x2="723" y2="726" stroke="#7ad870" stroke-width="7"/>
<line x1="786" y1="730" x2="804" y2="723" stroke="#8ee462" stroke-width="12"/>
<line x1="486" y1="189" x2="493" y2="167" stroke="#3a50e8" stroke-width="7"/>
<line x1="459" y1="135" x2="456" y2="116" stroke="#3a50e8" stroke-width="11"/>
<line x1="507" y1="87" x2="514" y2="73" stroke="#c03a48" stroke-width="9"/>
<line x1="886" y1="429" x2="873" y2="437" stroke="#8a40b0" stroke-width="8"/>
<line x1="146" y1="671" x2="164" y2="678" stroke="#4a60e0" stroke-width="8"/>
<line x1="756" y1="55" x2="778" y2="32" stroke="#3a50e8" stroke-width="9"/>
<line x1="256" y1="483" x2="255" y2="498" stroke="#50c8b0" stroke-width="7"/>
<line x1="786" y1="593" x2="799" y2="586" stroke="#a0d860" stroke-width="7"/>
<line x1="783" y1="110" x2="797" y2="95" stroke="#40c0d0" stroke-width="7"/>
<line x1="346" y1="503" x2="340" y2="523" stroke="#80ea6a" stroke-width="9"/>
<line x1="413" y1="139" x2="393" y2="119" stroke="#3a50e8" stroke-width="11"/>
<line x1="195" y1="311" x2="186" y2="339" stroke="#c03030" stroke-width="12"/>
<line x1="737" y1="486" x2="742" y2="507" stroke="#c04040" stroke-width="12"/>
<line x1="314" y1="715" x2="318" y2="729" stroke="#7ce066" stroke-width="11"/>
<line x1="275" y1="463" x2="260" y2="474" stroke="#c83a3a" stroke-width="7"/>
<line x1="855" y1="312" x2="826" y2="321" stroke="#48c0c8" stroke-width="7"/>
<line x1="444" y1="136" x2="447" y2="109" stroke="#7ce066" stroke-width="10"/>
<line x1="621" y1="564" x2="618" y2="579" stroke="#4a90e0" stroke-width="12"/>
<line x1="44" y1="150" x2="34" y2="140" stroke="#3a50e8" stroke-width="11"/>
<line x1="126" y1="666" x2="139" y2="674" stroke="#7ce066" stroke-width="7"/>
<line x1="774" y1="521" x2="745" y2="538" stroke="#48c0c8" stroke-width="7"/>
<line x1="72" y1="587" x2="71" y2="615" stroke="#7ce066" stroke-width="11"/>
<line x1="692" y1="704" x2="710" y2="695" stroke="#b85a3a" stroke-width="8"/>
<line x1="760" y1="219" x2="771" y2="204" stroke="#c83838" stroke-width="12"/>
<line x1="696" y1="326" x2="704" y2="346" stroke="#7ce066" stroke-width="11"/>
<line x1="404" y1="108" x2="394" y2="76" stroke="#3a50e8" stroke-width="12"/>
<line x1="881" y1="341" x2="876" y2="366" stroke="#7ce066" stroke-width="12"/>
<line x1="461" y1="500" x2="445" y2="505" stroke="#80ea6a" stroke-width="10"/>
<line x1="691" y1="692" x2="714" y2="692" stroke="#8ee462" stroke-width="8"/>
<line x1="159" y1="576" x2="180" y2="587" stroke="#7ce066" stroke-width="12"/>
<line x1="508" y1="596" x2="539" y2="601" stroke="#b85a3a" stroke-width="11"/>
<line x1="549" y1="237" x2="548" y2="223" stroke="#b03040" stroke-width="10"/>
<line x1="215" y1="449" x2="232" y2="465" stroke="#c83a3a" stroke-width="10"/>
<line x1="902" y1="386" x2="895" y2="408" stroke="#7ce066" stroke-width="7"/>
<line x1="459" y1="554" x2="439" y2="564" stroke="#80ea6a" stroke-width="7"/>
<line x1="447" y1="211" x2="433" y2="186" stroke="#7ce066" stroke-width="7"/>
<line x1="874" y1="648" x2="891" y2="643" stroke="#70d060" stroke-width="8"/>
<line x1="203" y1="543" x2="174" y2="557" stroke="#4a60e0" stroke-width="8"/>
<line x1="793" y1="269" x2="817" y2="254" stroke="#3a50e8" stroke-width="7"/>
<line x1="121" y1="634" x2="133" y2="651" stroke="#b83a3a" stroke-width="12"/>
<line x1="628" y1="55" x2="632" y2="32" stroke="#b03040" stroke-width="7"/>
<line x1="223" y1="460" x2="201" y2="463" stroke="#c04040" stroke-width="9"/>
<line x1="144" y1="242" x2="131" y2="233" stroke="#7ce066" stroke-width="9"/>
<line x1="124" y1="709" x2="136" y2="736" stroke="#8a3ab0" stroke-width="9"/>
<line x1="617" y1="519" x2="587" y2="524" stroke="#80ea6a" stroke-width="9"/>
<line x1="625" y1="425" x2="648" y2="418" stroke="#4a7cf0" stroke-width="7"/>
<line x1="665" y1="525" x2="661" y2="542" stroke="#7ce066" stroke-width="8"/>
<line x1="363" y1="694" x2="365" y2="710" stroke="#7ce066" stroke-width="8"/>
<line x1="841" y1="501" x2="831" y2="521" stroke="#48c0c8" stroke-width="12"/>
<line x1="203" y1="388" x2="181" y2="405" stroke="#7ce066" stroke-width="12"/>
<line x1="198" y1="438" x2="193" y2="459" stroke="#7ce066" stroke-width="9"/>
<line x1="276" y1="87" x2="256" y2="74" stroke="#6ad86a" stroke-width="8"/>
<line x1="645" y1="410" x2="676" y2="420" stroke="#3050e8" stroke-width="11"/>
<line x1="744" y1="98" x2="764" y2="71" stroke="#c03a48" stroke-width="9"/>
<line x1="553" y1="527" x2="547" y2="559" stroke="#80ea6a" stroke-width="8"/>
<line x1="647" y1="447" x2="636" y2="466" stroke="#7ce066" stroke-width="11"/>
<line x1="569" y1="652" x2="593" y2="659" stroke="#8ee462" stroke-width="11"/>
<line x1="196" y1="658" x2="204" y2="676" stroke="#8a3ab0" stroke-width="10"/>
<line x1="866" y1="318" x2="862" y2="344" stroke="#c04040" stroke-width="11"/>
<line x1="637" y1="260" x2="658" y2="248" stroke="#c83838" stroke-width="8"/>
<line x1="672" y1="52" x2="690" y2="31" stroke="#b03040" stroke-width="8"/>
<line x1="496" y1="372" x2="519" y2="366" stroke="#3b5ff0" stroke-width="11"/>
<line x1="846" y1="713" x2="864" y2="705" stroke="#8ee462" stroke-width="8"/>
<line x1="158" y1="605" x2="152" y2="619" stroke="#50c8b0" stroke-width="11"/>
<line x1="243" y1="104" x2="223" y2="78" stroke="#40c0d0" stroke-width="9"/>
<line x1="797" y1="536" x2="826" y2="549" stroke="#3a58e8" stroke-width="12"/>
<line x1="110" y1="746" x2="91" y2="746" stroke="#7ce066" stroke-width="8"/>
<line x1="420" y1="580" x2="421" y2="596" stroke="#80ea6a" stroke-width="10"/>
<line x1="108" y1="190" x2="84" y2="186" stroke="#3a50e8" stroke-width="11"/>
<line x1="781" y1="196" x2="792" y2="187" stroke="#b03040" stroke-width="12"/>
<line x1="389" y1="176" x2="388" y2="148" stroke="#40c0d0" stroke-width="9"/>
<line x1="430" y1="303" x2="440" y2="335" stroke="#8a40b0" stroke-width="9"/>
<line x1="721" y1="150" x2="732" y2="136" stroke="#8a3ab0" stroke-width="7"/>
<line x1="189" y1="333" x2="201" y2="340" stroke="#7ce066" stroke-width="11"/>
<line x1="186" y1="393" x2="201" y2="396" stroke="#8a3ab0" stroke-width="9"/>
<line x1="395" y1="542" x2="417" y2="546" stroke="#c84a4a" stroke-width="10"/>
<line x1="63" y1="726" x2="75" y2="736" stroke="#8a3ab0" stroke-width="8"/>
<line x1="183" y1="486" x2="191" y2="500" stroke="#7ce066" stroke-width="12"/>
<line x1="293" y1="737" x2="264" y2="742" stroke="#4a60e0" stroke-width="10"/>
<line x1="257" y1="236" x2="242" y2="214" stroke="#40c0d0" stroke-width="9"/>
<line x1="122" y1="528" x2="96" y2="530" stroke="#7ce066" stroke-width="7"/>
<line x1="66" y1="113" x2="52" y2="109" stroke="#3a50e8" stroke-width="8"/>
<line x1="609" y1="680" x2="641" y2="670" stroke="#a0d860" stroke-width="9"/>
<line x1="739" y1="692" x2="752" y2="698" stroke="#70d060" stroke-width="11"/>
<line x1="589" y1="326" x2="572" y2="329" stroke="#3a58e8" stroke-width="7"/>
<line x1="482" y1="433" x2="511" y2="434" stroke="#3050e8" stroke-width="8"/>
<line x1="769" y1="655" x2="801" y2="651" stroke="#70d060" stroke-width="8"/>
<line x1="356" y1="340" x2="378" y2="360" stroke="#c04040" stroke-width="9"/>
<line x1="274" y1="169" x2="262" y2="146" stroke="#3a50e8" stroke-width="10"/>
<line x1="77" y1="170" x2="56" y2="149" stroke="#3a50e8" stroke-width="12"/>
<line x1="629" y1="118" x2="634" y2="87" stroke="#7ce066" stroke-width="7"/>
<line x1="804" y1="661" x2="836" y2="659" stroke="#8ee462" stroke-width="12"/>
<line x1="330" y1="309" x2="352" y2="314" stroke="#c83c3c" stroke-width="9"/>
<line x1="535" y1="127" x2="527" y2="101" stroke="#8a3ab0" stroke-width="12"/>
<line x1="82" y1="157" x2="63" y2="140" stroke="#3a50e8" stroke-width="7"/>
<line x1="240" y1="727" x2="259" y2="743" stroke="#c03030" stroke-width="11"/>
<line x1="720" y1="473" x2="700" y2="488" stroke="#8a40b0" stroke-width="10"/>
<line x1="195" y1="105" x2="188" y2="91" stroke="#3a50e8" stroke-width="7"/>
<line x1="213" y1="675" x2="236" y2="682" stroke="#7ce066" stroke-width="12"/>
<line x1="575" y1="499" x2="552" y2="521" stroke="#6cd87a" stroke-width="10"/>
<line x1="565" y1="362" x2="594" y2="353" stroke="#3b5ff0" stroke-width="10"/>
<line x1="749" y1="194" x2="767" y2="179" stroke="#7ce066" stroke-width="7"/>
<line x1="337" y1="184" x2="326" y2="154" stroke="#7ce066" stroke-width="12"/>
<line x1="357" y1="599" x2="381" y2="604" stroke="#80ea6a" stroke-width="9"/>
<line x1="769" y1="94" x2="778" y2="73" stroke="#6ad86a" stroke-width="8"/>
<line x1="321" y1="575" x2="336" y2="586" stroke="#80ea6a" stroke-width="11"/>
<line x1="443" y1="548" x2="424" y2="557" stroke="#80ea6a" stroke-width="11"/>
<line x1="866" y1="389" x2="849" y2="403" stroke="#3a58e8" stroke-width="9"/>
<line x1="873" y1="63" x2="887" y2="57" stroke="#c03a48" stroke-width="9"/>
<line x1="478" y1="93" x2="476" y2="75" stroke="#8a3ab0" stroke-width="9"/>
<line x1="468" y1="76" x2="466" y2="59" stroke="#6ad86a" stroke-width="8"/>
<line x1="130" y1="260" x2="115" y2="255" stroke="#c03a48" stroke-width="10"/>
<line x1="704" y1="540" x2="670" y2="543" stroke="#7ce066" stroke-width="8"/>
<line x1="415" y1="708" x2="418" y2="742" stroke="#8a40b0" stroke-width="9"/>
<line x1="872" y1="252" x2="886" y2="235" stroke="#40c0d0" stroke-width="9"/>
<line x1="690" y1="701" x2="705" y2="701" stroke="#8ee462" stroke-width="11"/>
<line x1="170" y1="65" x2="166" y2="51" stroke="#b03040" stroke-width="9"/>
<line x1="892" y1="600" x2="905" y2="607" stroke="#8ee462" stroke-width="8"/>
<line x1="51" y1="353" x2="59" y2="366" stroke="#c04040" stroke-width="7"/>
<line x1="432" y1="233" x2="427" y2="210" stroke="#6ad86a" stroke-width="9"/>
<line x1="78" y1="351" x2="68" y2="376" stroke="#b83a3a" stroke-width="8"/>
<line x1="870" y1="571" x2="891" y2="578" stroke="#7ad870" stroke-width="9"/>
<line x1="520" y1="246" x2="517" y2="232" stroke="#7ce066" stroke-width="7"/>
<line x1="820" y1="684" x2="848" y2="683" stroke="#7ad870" stroke-width="11"/>
<line x1="488" y1="310" x2="480" y2="328" stroke="#c83c3c" stroke-width="12"/>
<line x1="161" y1="633" x2="189" y2="642" stroke="#8a3ab0" stroke-width="10"/>
<line x1="282" y1="229" x2="261" y2="217" stroke="#c83838" stroke-width="9"/>
<line x1="161" y1="76" x2="148" y2="63" stroke="#b03040" stroke-width="11"/>
<line x1="573" y1="71" x2="580" y2="47" stroke="#b03040" stroke-width="8"/>
<line x1="283" y1="547" x2="268" y2="551" stroke="#8ae060" stroke-width="7"/>
<line x1="363" y1="410" x2="332" y2="421" stroke="#c04040" stroke-width="8"/>
<line x1="311" y1="292" x2="287" y2="270" stroke="#c03030" stroke-width="9"/>
<line x1="83" y1="200" x2="63" y2="199" stroke="#c83838" stroke-width="10"/>
<line x1="523" y1="75" x2="523" y2="53" stroke="#3a50e8" stroke-width="10"/>
<line x1="240" y1="190" x2="216" y2="183" stroke="#7ce066" stroke-width="7"/>
<line x1="589" y1="622" x2="606" y2="613" stroke="#8ee462" stroke-width="7"/>
<line x1="415" y1="739" x2="418" y2="758" stroke="#7ce066" stroke-width="7"/>
<line x1="192" y1="391" x2="207" y2="399" stroke="#c83a3a" stroke-width="12"/>
<line x1="904" y1="522" x2="896" y2="537" stroke="#3a58e8" stroke-width="8"/>
<line x1="701" y1="173" x2="712" y2="145" stroke="#c03a48" stroke-width="7"/>
<line x1="496" y1="156" x2="487" y2="128" stroke="#3a50e8" stroke-width="10"/>
<line x1="198" y1="68" x2="184" y2="61" stroke="#6ad86a" stroke-width="8"/>
<line x1="374" y1="707" x2="363" y2="737" stroke="#3a58e8" stroke-width="9"/>
<line x1="907" y1="736" x2="928" y2="731" stroke="#a0d860" stroke-width="7"/>
<line x1="652" y1="269" x2="658" y2="249" stroke="#b03040" stroke-width="11"/>
<line x1="394" y1="427" x2="404" y2="440" stroke="#c04040" stroke-width="10"/>
<line x1="214" y1="466" x2="184" y2="473" stroke="#c83a3a" stroke-width="9"/>
<line x1="878" y1="638" x2="896" y2="632" stroke="#8ee462" stroke-width="8"/>
<line x1="86" y1="735" x2="95" y2="765" stroke="#7ce066" stroke-width="11"/>
<line x1="52" y1="659" x2="25" y2="679" stroke="#8ae060" stroke-width="9"/>
<line x1="497" y1="586" x2="520" y2="576" stroke="#a0d860" stroke-width="9"/>
<line x1="167" y1="470" x2="180" y2="491" stroke="#50c8b0" stroke-width="12"/>
<line x1="317" y1="301" x2="306" y2="333" stroke="#50c8b0" stroke-width="12"/>
<line x1="767" y1="251" x2="786" y2="249" stroke="#3a50e8" stroke-width="11"/>
<line x1="476" y1="563" x2="489" y2="586" stroke="#6cd87a" stroke-width="10"/>
<line x1="881" y1="367" x2="883" y2="392" stroke="#7ce066" stroke-width="11"/>
<line x1="500" y1="359" x2="515" y2="361" stroke="#3050e8" stroke-width="11"/>
<line x1="777" y1="594" x2="805" y2="581" stroke="#a0d860" stroke-width="8"/>
<line x1="894" y1="307" x2="913" y2="322" stroke="#c83c3c" stroke-width="10"/>
<line x1="677" y1="323" x2="674" y2="337" stroke="#7ce066" stroke-width="11"/>
<line x1="363" y1="357" x2="336" y2="365" stroke="#c83c3c" stroke-width="11"/>
<line x1="471" y1="276" x2="461" y2="265" stroke="#3a58e8" stroke-width="8"/>
<line x1="810" y1="196" x2="824" y2="185" stroke="#3a50e8" stroke-width="11"/>
<line x1="678" y1="270" x2="693" y2="255" stroke="#8a3ab0" stroke-width="10"/>
<line x1="335" y1="459" x2="334" y2="491" stroke="#80ea6a" stroke-width="10"/>
<line x1="161" y1="265" x2="146" y2="257" stroke="#c03a48" stroke-width="11"/>
<line x1="808" y1="352" x2="790" y2="364" stroke="#c04040" stroke-width="8"/>
<line x1="451" y1="148" x2="439" y2="124" stroke="#c83838" stroke-width="12"/>
<line x1="866" y1="259" x2="888" y2="243" stroke="#3a50e8" stroke-width="7"/>
<line x1="424" y1="578" x2="409" y2="578" stroke="#80ea6a" stroke-width="9"/>
<line x1="458" y1="345" x2="487" y2="355" stroke="#4a7cf0" stroke-width="12"/>
<line x1="404" y1="458" x2="387" y2="464" stroke="#c84a4a" stroke-width="7"/>
<line x1="85" y1="413" x2="62" y2="420" stroke="#7ce066" stroke-width="11"/>
<line x1="761" y1="176" x2="789" y2="163" stroke="#7ce066" stroke-width="10"/>
<line x1="288" y1="737" x2="276" y2="759" stroke="#7ce066" stroke-width="11"/>
<line x1="300" y1="680" x2="322" y2="690" stroke="#b83a3a" stroke-width="11"/>
<line x1="349" y1="588" x2="319" y2="597" stroke="#80ea6a" stroke-width="11"/>
<line x1="217" y1="92" x2="203" y2="78" stroke="#8a3ab0" stroke-width="10"/>
<line x1="798" y1="201" x2="829" y2="191" stroke="#3a50e8" stroke-width="11"/>
<line x1="386" y1="198" x2="375" y2="188" stroke="#b03040" stroke-width="8"/>
<line x1="374" y1="646" x2="361" y2="654" stroke="#3a58e8" stroke-width="9"/>
<line x1="379" y1="174" x2="366" y2="160" stroke="#40c0d0" stroke-width="12"/>
<line x1="137" y1="204" x2="114" y2="193" stroke="#8a3ab0" stroke-width="10"/>
<line x1="649" y1="201" x2="667" y2="182" stroke="#c03a48" stroke-width="12"/>
<line x1="693" y1="326" x2="690" y2="352" stroke="#48c0c8" stroke-width="10"/>
<line x1="366" y1="105" x2="357" y2="83" stroke="#3a50e8" stroke-width="11"/>
<line x1="194" y1="414" x2="199" y2="437" stroke="#c03030" stroke-width="11"/>
<line x1="898" y1="292" x2="921" y2="297" stroke="#7ce066" stroke-width="7"/>
<line x1="664" y1="287" x2="687" y2="276" stroke="#c83c3c" stroke-width="9"/>
<line x1="499" y1="646" x2="524" y2="645" stroke="#7ad870" stroke-width="10"/>
<line x1="366" y1="79" x2="353" y2="56" stroke="#c83838" stroke-width="7"/>
<line x1="651" y1="733" x2="676" y2="735" stroke="#8ee462" stroke-width="9"/>
<line x1="511" y1="742" x2="538" y2="751" stroke="#70d060" stroke-width="7"/>
<line x1="408" y1="441" x2="391" y2="456" stroke="#6cd87a" stroke-width="11"/>
<line x1="198" y1="257" x2="168" y2="251" stroke="#3a50e8" stroke-width="9"/>
<line x1="522" y1="274" x2="528" y2="258" stroke="#3a58e8" stroke-width="10"/>
<line x1="211" y1="336" x2="207" y2="351" stroke="#7ce066" stroke-width="11"/>
<line x1="460" y1="191" x2="457" y2="174" stroke="#3a50e8" stroke-width="11"/>
<line x1="508" y1="696" x2="530" y2="705" stroke="#a0d860" stroke-width="9"/>
<line x1="97" y1="243" x2="66" y2="236" stroke="#3a50e8" stroke-width="8"/>
<line x1="865" y1="384" x2="869" y2="403" stroke="#7ce066" stroke-width="9"/>
<line x1="537" y1="408" x2="555" y2="403" stroke="#4a7cf0" stroke-width="9"/>
<line x1="678" y1="682" x2="704" y2="671" stroke="#7ad870" stroke-width="7"/>
<line x1="236" y1="370" x2="216" y2="372" stroke="#c83a3a" stroke-width="8"/>
<line x1="77" y1="394" x2="60" y2="394" stroke="#8a3ab0" stroke-width="12"/>
<line x1="412" y1="446" x2="405" y2="479" stroke="#c84a4a" stroke-width="9"/>
<line x1="297" y1="241" x2="290" y2="225" stroke="#3a50e8" stroke-width="8"/>
<line x1="415" y1="51" x2="416" y2="34" stroke="#8a3ab0" stroke-width="12"/>
<line x1="673" y1="311" x2="698" y2="314" stroke="#7ce066" stroke-width="8"/>
<line x1="143" y1="202" x2="134" y2="189" stroke="#3a50e8" stroke-width="12"/>
<line x1="291" y1="132" x2="270" y2="110" stroke="#c03a48" stroke-width="9"/>
<line x1="159" y1="487" x2="143" y2="493" stroke="#7ce066" stroke-width="12"/>
<line x1="112" y1="600" x2="120" y2="621" stroke="#8ae060" stroke-width="11"/>
<line x1="425" y1="173" x2="426" y2="158" stroke="#7ce066" stroke-width="12"/>
<line x1="401" y1="55" x2="389" y2="29" stroke="#40c0d0" stroke-width="7"/>
<line x1="79" y1="198" x2="54" y2="198" stroke="#7ce066" stroke-width="12"/>
<line x1="324" y1="207" x2="304" y2="185" stroke="#40c0d0" stroke-width="8"/>
<line x1="240" y1="341" x2="259" y2="347" stroke="#b83a3a" stroke-width="7"/>
<line x1="515" y1="468" x2="523" y2="480" stroke="#80ea6a" stroke-width="11"/>
<line x1="335" y1="188" x2="325" y2="171" stroke="#c83838" stroke-width="10"/>
<line x1="616" y1="565" x2="615" y2="587" stroke="#6cd87a" stroke-width="7"/>
<line x1="195" y1="366" x2="193" y2="386" stroke="#b83a3a" stroke-width="11"/>
<line x1="169" y1="414" x2="183" y2="434" stroke="#7ce066" stroke-width="9"/>
<line x1="498" y1="257" x2="491" y2="243" stroke="#8a3ab0" stroke-width="12"/>
<line x1="844" y1="340" x2="868" y2="341" stroke="#3a58e8" stroke-width="7"/>
<line x1="656" y1="658" x2="670" y2="664" stroke="#8ee462" stroke-width="9"/>
<line x1="305" y1="381" x2="317" y2="397" stroke="#c83a3a" stroke-width="9"/>
<line x1="584" y1="112" x2="594" y2="101" stroke="#7ce066" stroke-width="8"/>
<line x1="247" y1="161" x2="224" y2="143" stroke="#7ce066" stroke-width="8"/>
<line x1="589" y1="108" x2="599" y2="86" stroke="#7ce066" stroke-width="7"/>
<line x1="471" y1="304" x2="471" y2="319" stroke="#7ce066" stroke-width="11"/>
<line x1="721" y1="354" x2="736" y2="383" stroke="#7ce066" stroke-width="9"/>
<line x1="459" y1="495" x2="436" y2="513" stroke="#80ea6a" stroke-width="9"/>
<line x1="125" y1="233" x2="104" y2="224" stroke="#8a3ab0" stroke-width="12"/>
<line x1="333" y1="91" x2="316" y2="72" stroke="#c83838" stroke-width="10"/>
<line x1="250" y1="177" x2="234" y2="171" stroke="#7ce066" stroke-width="10"/>
<line x1="262" y1="669" x2="258" y2="689" stroke="#c03030" stroke-width="7"/>
<line x1="357" y1="622" x2="368" y2="652" stroke="#c84a4a" stroke-width="9"/>
<line x1="498" y1="147" x2="508" y2="119" stroke="#3a50e8" stroke-width="12"/>
<line x1="400" y1="642" x2="392" y2="662" stroke="#c04040" stroke-width="10"/>
<line x1="477" y1="441" x2="469" y2="463" stroke="#80ea6a" stroke-width="12"/>
<line x1="527" y1="163" x2="518" y2="139" stroke="#7ce066" stroke-width="12"/>
<line x1="125" y1="622" x2="133" y2="645" stroke="#7ce066" stroke-width="7"/>
<line x1="131" y1="200" x2="116" y2="180" stroke="#c03a48" stroke-width="10"/>
<line x1="419" y1="152" x2="402" y2="126" stroke="#3a50e8" stroke-width="10"/>
<line x1="315" y1="360" x2="296" y2="364" stroke="#7ce066" stroke-width="11"/>
<line x1="866" y1="272" x2="895" y2="256" stroke="#48c0c8" stroke-width="8"/>
<line x1="115" y1="671" x2="128" y2="684" stroke="#50c8b0" stroke-width="8"/>
<line x1="683" y1="114" x2="700" y2="90" stroke="#7ce066" stroke-width="8"/>
<line x1="527" y1="329" x2="527" y2="349" stroke="#8a40b0" stroke-width="8"/>
<line x1="695" y1="624" x2="712" y2="616" stroke="#8ee462" stroke-width="9"/>
<line x1="175" y1="728" x2="144" y2="737" stroke="#c04040" stroke-width="7"/>
<line x1="435" y1="226" x2="429" y2="205" stroke="#c83838" stroke-width="9"/>
<line x1="760" y1="418" x2="763" y2="436" stroke="#7ce066" stroke-width="12"/>
<line x1="117" y1="345" x2="96" y2="364" stroke="#8ae060" stroke-width="11"/>
<line x1="247" y1="573" x2="242" y2="589" stroke="#c83a3a" stroke-width="9"/>
<line x1="339" y1="169" x2="328" y2="157" stroke="#40c0d0" stroke-width="11"/>
<line x1="513" y1="335" x2="532" y2="332" stroke="#3050e8" stroke-width="10"/>
<line x1="717" y1="356" x2="700" y2="372" stroke="#c83c3c" stroke-width="8"/>
<line x1="361" y1="648" x2="381" y2="672" stroke="#8a40b0" stroke-width="10"/>
<line x1="367" y1="303" x2="372" y2="316" stroke="#7ce066" stroke-width="9"/>
<line x1="457" y1="397" x2="480" y2="396" stroke="#5ad07a" stroke-width="9"/>
<line x1="202" y1="737" x2="231" y2="748" stroke="#c83a3a" stroke-width="12"/>
<line x1="732" y1="232" x2="743" y2="210" stroke="#8a3ab0" stroke-width="9"/>
<line x1="803" y1="736" x2="822" y2="726" stroke="#8ee462" stroke-width="12"/>
<line x1="697" y1="366" x2="726" y2="372" stroke="#3050e8" stroke-width="12"/>
<line x1="418" y1="506" x2="407" y2="518" stroke="#60d8a0" stroke-width="7"/>
<line x1="619" y1="191" x2="621" y2="175" stroke="#40c0d0" stroke-width="7"/>
<line x1="736" y1="85" x2="744" y2="71" stroke="#8a3ab0" stroke-width="9"/>
<line x1="653" y1="571" x2="682" y2="574" stroke="#8ee462" stroke-width="7"/>
<line x1="788" y1="541" x2="782" y2="554" stroke="#3a58e8" stroke-width="8"/>
<line x1="650" y1="294" x2="667" y2="280" stroke="#c04040" stroke-width="8"/>
<line x1="579" y1="690" x2="605" y2="685" stroke="#8ee462" stroke-width="8"/>
<line x1="700" y1="431" x2="730" y2="427" stroke="#3b5ff0" stroke-width="11"/>
<line x1="830" y1="425" x2="842" y2="441" stroke="#7ce066" stroke-width="9"/>
<line x1="364" y1="179" x2="353" y2="163" stroke="#b03040" stroke-width="10"/>
<line x1="880" y1="407" x2="853" y2="424" stroke="#7ce066" stroke-width="7"/>
<line x1="563" y1="305" x2="536" y2="310" stroke="#c04040" stroke-width="11"/>
<line x1="614" y1="471" x2="606" y2="494" stroke="#4a90e0" stroke-width="12"/>
<line x1="467" y1="632" x2="492" y2="649" stroke="#48c0c8" stroke-width="7"/>
<line x1="778" y1="101" x2="793" y2="84" stroke="#c03a48" stroke-width="8"/>
<line x1="783" y1="550" x2="751" y2="554" stroke="#48c0c8" stroke-width="7"/>
<line x1="903" y1="706" x2="921" y2="708" stroke="#8ee462" stroke-width="11"/>
<line x1="143" y1="307" x2="163" y2="321" stroke="#7ce066" stroke-width="7"/>
<line x1="323" y1="261" x2="301" y2="237" stroke="#7ce066" stroke-width="9"/>
<line x1="721" y1="175" x2="737" y2="156" stroke="#6ad86a" stroke-width="11"/>
<line x1="454" y1="218" x2="447" y2="206" stroke="#7ce066" stroke-width="7"/>
<line x1="342" y1="55" x2="329" y2="44" stroke="#3a50e8" stroke-width="8"/>
<line x1="781" y1="457" x2="801" y2="476" stroke="#7ce066" stroke-width="7"/>
<line x1="50" y1="432" x2="39" y2="449" stroke="#b83a3a" stroke-width="9"/>
<line x1="527" y1="295" x2="537" y2="276" stroke="#3a58e8" stroke-width="8"/>
<line x1="435" y1="519" x2="442" y2="541" stroke="#c84a4a" stroke-width="7"/>
<line x1="851" y1="539" x2="838" y2="570" stroke="#48c0c8" stroke-width="10"/>
<line x1="306" y1="136" x2="282" y2="118" stroke="#3a50e8" stroke-width="10"/>
<line x1="687" y1="327" x2="660" y2="338" stroke="#c83c3c" stroke-width="10"/>
<line x1="77" y1="236" x2="55" y2="230" stroke="#7ce066" stroke-width="9"/>
<line x1="805" y1="568" x2="778" y2="574" stroke="#7ce066" stroke-width="11"/>
<line x1="242" y1="716" x2="252" y2="742" stroke="#4a60e0" stroke-width="11"/>
<line x1="178" y1="304" x2="166" y2="318" stroke="#c83a3a" stroke-width="10"/>
<line x1="269" y1="146" x2="258" y2="114" stroke="#7ce066" stroke-width="11"/>
<line x1="756" y1="360" x2="729" y2="370" stroke="#3a58e8" stroke-width="9"/>
<line x1="902" y1="582" x2="920" y2="580" stroke="#8ee462" stroke-width="7"/>
<line x1="223" y1="580" x2="216" y2="610" stroke="#50c8b0" stroke-width="9"/>
<line x1="304" y1="683" x2="293" y2="702" stroke="#c04040" stroke-width="10"/>
<line x1="174" y1="291" x2="140" y2="292" stroke="#50c8b0" stroke-width="11"/>
<line x1="700" y1="245" x2="715" y2="220" stroke="#3a50e8" stroke-width="12"/>
<line x1="753" y1="506" x2="768" y2="518" stroke="#48c0c8" stroke-width="10"/>
<line x1="255" y1="681" x2="281" y2="692" stroke="#c04040" stroke-width="11"/>
<line x1="873" y1="64" x2="893" y2="55" stroke="#3a50e8" stroke-width="11"/>
<line x1="516" y1="707" x2="536" y2="703" stroke="#8ee462" stroke-width="11"/>
<line x1="155" y1="688" x2="184" y2="706" stroke="#8ae060" stroke-width="10"/>
<line x1="267" y1="218" x2="251" y2="198" stroke="#b03040" stroke-width="7"/>
<line x1="209" y1="298" x2="191" y2="277" stroke="#7ce066" stroke-width="11"/>
<line x1="407" y1="671" x2="399" y2="690" stroke="#48c0c8" stroke-width="9"/>
<line x1="593" y1="460" x2="572" y2="470" stroke="#80ea6a" stroke-width="7"/>
<line x1="633" y1="356" x2="652" y2="360" stroke="#3b5ff0" stroke-width="8"/>
<line x1="553" y1="294" x2="572" y2="270" stroke="#7ce066" stroke-width="10"/>
<line x1="83" y1="103" x2="70" y2="91" stroke="#c83838" stroke-width="8"/>
<line x1="609" y1="124" x2="614" y2="100" stroke="#3a50e8" stroke-width="8"/>
<line x1="383" y1="402" x2="399" y2="403" stroke="#7ce066" stroke-width="8"/>
<line x1="372" y1="681" x2="360" y2="691" stroke="#c83c3c" stroke-width="12"/>
<line x1="99" y1="555" x2="83" y2="581" stroke="#c83a3a" stroke-width="10"/>
<line x1="200" y1="532" x2="223" y2="538" stroke="#8ae060" stroke-width="8"/>
<line x1="163" y1="208" x2="145" y2="196" stroke="#7ce066" stroke-width="7"/>
<line x1="809" y1="212" x2="828" y2="192" stroke="#3a50e8" stroke-width="12"/>
<line x1="190" y1="489" x2="206" y2="490" stroke="#7ce066" stroke-width="7"/>
<line x1="785" y1="636" x2="816" y2="638" stroke="#8ee462" stroke-width="8"/>
<line x1="525" y1="348" x2="540" y2="342" stroke="#3b5ff0" stroke-width="11"/>
<line x1="441" y1="135" x2="448" y2="110" stroke="#c83838" stroke-width="8"/>
<line x1="237" y1="670" x2="218" y2="673" stroke="#c83a3a" stroke-width="10"/>
<line x1="736" y1="673" x2="757" y2="679" stroke="#b85a3a" stroke-width="10"/>
<line x1="139" y1="214" x2="113" y2="202" stroke="#3a50e8" stroke-width="7"/>
<line x1="848" y1="71" x2="865" y2="65" stroke="#c83838" stroke-width="9"/>
<line x1="449" y1="539" x2="468" y2="564" stroke="#80ea6a" stroke-width="9"/>
<line x1="555" y1="93" x2="567" y2="77" stroke="#3a50e8" stroke-width="8"/>
<line x1="265" y1="69" x2="245" y2="50" stroke="#b03040" stroke-width="12"/>
<line x1="46" y1="702" x2="54" y2="733" stroke="#7ce066" stroke-width="9"/>
<line x1="339" y1="641" x2="351" y2="665" stroke="#c83c3c" stroke-width="9"/>
<line x1="721" y1="260" x2="741" y2="252" stroke="#3a50e8" stroke-width="9"/>
<line x1="112" y1="459" x2="113" y2="484" stroke="#7ce066" stroke-width="10"/>
<line x1="306" y1="100" x2="302" y2="72" stroke="#7ce066" stroke-width="9"/>
<line x1="634" y1="187" x2="647" y2="165" stroke="#b03040" stroke-width="12"/>
<line x1="592" y1="253" x2="613" y2="228" stroke="#c03a48" stroke-width="12"/>
<line x1="636" y1="513" x2="632" y2="532" stroke="#4a90e0" stroke-width="10"/>
<line x1="364" y1="544" x2="358" y2="565" stroke="#c84a4a" stroke-width="11"/>
<line x1="529" y1="740" x2="559" y2="741" stroke="#70d060" stroke-width="7"/>
<line x1="659" y1="473" x2="637" y2="496" stroke="#c83c3c" stroke-width="10"/>
<line x1="571" y1="232" x2="576" y2="217" stroke="#8a3ab0" stroke-width="10"/>
<line x1="769" y1="548" x2="753" y2="555" stroke="#c83c3c" stroke-width="11"/>
<line x1="370" y1="397" x2="358" y2="413" stroke="#48c0c8" stroke-width="12"/>
<line x1="725" y1="102" x2="737" y2="88" stroke="#3a50e8" stroke-width="7"/>
<line x1="456" y1="414" x2="478" y2="416" stroke="#3050e8" stroke-width="7"/>
<line x1="174" y1="53" x2="168" y2="32" stroke="#3a50e8" stroke-width="8"/>
<line x1="195" y1="540" x2="213" y2="551" stroke="#8ae060" stroke-width="11"/>
<line x1="346" y1="507" x2="317" y2="512" stroke="#80ea6a" stroke-width="9"/>
<line x1="584" y1="267" x2="600" y2="245" stroke="#c83838" stroke-width="9"/>
<line x1="467" y1="576" x2="490" y2="593" stroke="#80ea6a" stroke-width="9"/>
<line x1="860" y1="55" x2="870" y2="38" stroke="#b03040" stroke-width="7"/>
<line x1="456" y1="329" x2="462" y2="342" stroke="#c04040" stroke-width="11"/>
<line x1="159" y1="332" x2="185" y2="346" stroke="#7ce066" stroke-width="7"/>
<line x1="104" y1="131" x2="94" y2="115" stroke="#40c0d0" stroke-width="9"/>
<line x1="428" y1="436" x2="461" y2="434" stroke="#4a7cf0" stroke-width="7"/>
<line x1="454" y1="654" x2="467" y2="666" stroke="#7ce066" stroke-width="8"/>
<line x1="816" y1="625" x2="836" y2="623" stroke="#8ee462" stroke-width="8"/>
<line x1="425" y1="290" x2="411" y2="277" stroke="#7ce066" stroke-width="10"/>
<line x1="522" y1="487" x2="521" y2="511" stroke="#c84a4a" stroke-width="7"/>
<line x1="207" y1="625" x2="183" y2="633" stroke="#4a60e0" stroke-width="9"/>
<line x1="834" y1="191" x2="850" y2="170" stroke="#c83838" stroke-width="11"/>
<line x1="135" y1="735" x2="154" y2="745" stroke="#50c8b0" stroke-width="8"/>
<line x1="106" y1="646" x2="110" y2="660" stroke="#4a60e0" stroke-width="9"/>
<line x1="81" y1="368" x2="62" y2="374" stroke="#4a60e0" stroke-width="9"/>
<line x1="718" y1="359" x2="687" y2="359" stroke="#7ce066" stroke-width="12"/>
<line x1="664" y1="539" x2="686" y2="562" stroke="#8a40b0" stroke-width="11"/>
<line x1="429" y1="548" x2="410" y2="575" stroke="#60d8a0" stroke-width="7"/>
<line x1="454" y1="132" x2="452" y2="114" stroke="#7ce066" stroke-width="8"/>
<line x1="84" y1="93" x2="74" y2="83" stroke="#8a3ab0" stroke-width="9"/>
<line x1="362" y1="232" x2="348" y2="209" stroke="#c03a48" stroke-width="9"/>
<line x1="495" y1="306" x2="492" y2="324" stroke="#48c0c8" stroke-width="9"/>
<line x1="409" y1="547" x2="395" y2="558" stroke="#4a90e0" stroke-width="7"/>
<line x1="262" y1="748" x2="278" y2="754" stroke="#7ce066" stroke-width="10"/>
<line x1="422" y1="651" x2="435" y2="666" stroke="#c83c3c" stroke-width="7"/>
<line x1="143" y1="349" x2="117" y2="369" stroke="#b83a3a" stroke-width="8"/>
<line x1="781" y1="367" x2="798" y2="387" stroke="#3a58e8" stroke-width="10"/>
<line x1="249" y1="314" x2="248" y2="333" stroke="#8ae060" stroke-width="9"/>
<line x1="177" y1="636" x2="205" y2="637" stroke="#c83a3a" stroke-width="8"/>
<line x1="726" y1="475" x2="740" y2="479" stroke="#3a58e8" stroke-width="12"/>
<line x1="881" y1="586" x2="901" y2="581" stroke="#b85a3a" stroke-width="12"/>
<line x1="265" y1="293" x2="246" y2="289" stroke="#b83a3a" stroke-width="11"/>
<line x1="428" y1="380" x2="455" y2="383" stroke="#3b5ff0" stroke-width="12"/>
<line x1="774" y1="374" x2="790" y2="403" stroke="#c83c3c" stroke-width="9"/>
<line x1="757" y1="226" x2="773" y2="214" stroke="#c83838" stroke-width="7"/>
<line x1="66" y1="435" x2="95" y2="449" stroke="#7ce066" stroke-width="9"/>
<line x1="427" y1="256" x2="417" y2="234" stroke="#6ad86a" stroke-width="7"/>
<line x1="351" y1="244" x2="323" y2="225" stroke="#40c0d0" stroke-width="8"/>
<line x1="803" y1="383" x2="801" y2="398" stroke="#3a58e8" stroke-width="7"/>
<line x1="523" y1="468" x2="539" y2="488" stroke="#80ea6a" stroke-width="10"/>
<line x1="648" y1="314" x2="659" y2="340" stroke="#3a58e8" stroke-width="11"/>
<line x1="409" y1="120" x2="405" y2="103" stroke="#40c0d0" stroke-width="9"/>
<line x1="95" y1="748" x2="95" y2="778" stroke="#4a60e0" stroke-width="9"/>
<line x1="868" y1="543" x2="882" y2="543" stroke="#c04040" stroke-width="7"/>
<line x1="315" y1="505" x2="296" y2="516" stroke="#80ea6a" stroke-width="8"/>
<line x1="545" y1="137" x2="553" y2="121" stroke="#c03a48" stroke-width="11"/>
<line x1="724" y1="496" x2="699" y2="497" stroke="#c04040" stroke-width="12"/>
<line x1="770" y1="722" x2="802" y2="722" stroke="#8ee462" stroke-width="11"/>
<line x1="316" y1="264" x2="296" y2="242" stroke="#40c0d0" stroke-width="12"/>
<line x1="541" y1="499" x2="526" y2="514" stroke="#6cd87a" stroke-width="8"/>
<line x1="290" y1="685" x2="262" y2="693" stroke="#c03030" stroke-width="11"/>
<line x1="354" y1="666" x2="356" y2="682" stroke="#3a58e8" stroke-width="10"/>
<line x1="624" y1="367" x2="648" y2="373" stroke="#4a7cf0" stroke-width="9"/>
<line x1="845" y1="302" x2="832" y2="314" stroke="#c83c3c" stroke-width="7"/>
<line x1="115" y1="644" x2="124" y2="666" stroke="#b83a3a" stroke-width="12"/>
<line x1="676" y1="53" x2="698" y2="31" stroke="#8a3ab0" stroke-width="9"/>
<line x1="545" y1="368" x2="569" y2="376" stroke="#3b5ff0" stroke-width="11"/>
<line x1="738" y1="329" x2="751" y2="356" stroke="#c04040" stroke-width="12"/>
<line x1="246" y1="183" x2="234" y2="153" stroke="#c03a48" stroke-width="7"/>
<line x1="849" y1="234" x2="869" y2="230" stroke="#c03a48" stroke-width="11"/>
<line x1="757" y1="677" x2="778" y2="675" stroke="#a0d860" stroke-width="9"/>
<line x1="246" y1="390" x2="231" y2="395" stroke="#7ce066" stroke-width="12"/>
<line x1="366" y1="66" x2="354" y2="38" stroke="#7ce066" stroke-width="12"/>
<line x1="903" y1="624" x2="931" y2="630" stroke="#8ee462" stroke-width="10"/>
<line x1="329" y1="468" x2="353" y2="478" stroke="#80ea6a" stroke-width="11"/>
<line x1="351" y1="704" x2="338" y2="725" stroke="#7ce066" stroke-width="12"/>
<line x1="554" y1="710" x2="571" y2="702" stroke="#8ee462" stroke-width="10"/>
<line x1="849" y1="492" x2="835" y2="519" stroke="#3a58e8" stroke-width="9"/>
<line x1="826" y1="283" x2="847" y2="277" stroke="#7ce066" stroke-width="9"/>
<line x1="358" y1="477" x2="337" y2="488" stroke="#80ea6a" stroke-width="8"/>
<line x1="484" y1="620" x2="514" y2="612" stroke="#8ee462" stroke-width="11"/>
<line x1="597" y1="611" x2="628" y2="605" stroke="#8ee462" stroke-width="11"/>
<line x1="174" y1="712" x2="156" y2="729" stroke="#c04040" stroke-width="11"/>
<line x1="381" y1="476" x2="366" y2="478" stroke="#80ea6a" stroke-width="8"/>
<line x1="524" y1="395" x2="550" y2="393" stroke="#4a7cf0" stroke-width="8"/>
<line x1="678" y1="649" x2="701" y2="659" stroke="#8ee462" stroke-width="12"/>
<line x1="871" y1="335" x2="886" y2="346" stroke="#c04040" stroke-width="8"/>
<line x1="700" y1="310" x2="712" y2="339" stroke="#3a58e8" stroke-width="9"/>
<line x1="317" y1="196" x2="310" y2="180" stroke="#c83838" stroke-width="9"/>
<line x1="519" y1="294" x2="530" y2="274" stroke="#7ce066" stroke-width="12"/>
<line x1="559" y1="724" x2="578" y2="722" stroke="#8ee462" stroke-width="11"/>
<line x1="383" y1="539" x2="370" y2="543" stroke="#c84a4a" stroke-width="11"/>
<line x1="515" y1="121" x2="505" y2="92" stroke="#b03040" stroke-width="9"/>
<line x1="709" y1="241" x2="727" y2="214" stroke="#b03040" stroke-width="11"/>
<line x1="459" y1="574" x2="436" y2="576" stroke="#4a90e0" stroke-width="9"/>
<line x1="663" y1="395" x2="677" y2="399" stroke="#3b5ff0" stroke-width="8"/>
<line x1="606" y1="348" x2="632" y2="356" stroke="#5ad07a" stroke-width="11"/>
<line x1="172" y1="417" x2="152" y2="443" stroke="#c83a3a" stroke-width="9"/>
<line x1="40" y1="338" x2="15" y2="355" stroke="#b83a3a" stroke-width="8"/>
<line x1="378" y1="610" x2="401" y2="629" stroke="#c84a4a" stroke-width="7"/>
<line x1="75" y1="532" x2="52" y2="549" stroke="#b83a3a" stroke-width="7"/>
<line x1="574" y1="656" x2="590" y2="657" stroke="#70d060" stroke-width="11"/>
<line x1="851" y1="285" x2="880" y2="273" stroke="#c83c3c" stroke-width="10"/>
<line x1="275" y1="579" x2="262" y2="586" stroke="#7ce066" stroke-width="11"/>
<line x1="563" y1="328" x2="537" y2="329" stroke="#3a58e8" stroke-width="10"/>
<line x1="421" y1="242" x2="404" y2="221" stroke="#40c0d0" stroke-width="12"/>
<line x1="761" y1="360" x2="777" y2="386" stroke="#48c0c8" stroke-width="11"/>
<line x1="791" y1="307" x2="798" y2="328" stroke="#3a58e8" stroke-width="10"/>
<line x1="536" y1="118" x2="542" y2="85" stroke="#3a50e8" stroke-width="9"/>
<line x1="748" y1="192" x2="761" y2="162" stroke="#c03a48" stroke-width="12"/>
<line x1="460" y1="738" x2="453" y2="764" stroke="#c83c3c" stroke-width="11"/>
<line x1="604" y1="168" x2="621" y2="148" stroke="#7ce066" stroke-width="7"/>
<line x1="559" y1="391" x2="576" y2="397" stroke="#3b5ff0" stroke-width="7"/>
<line x1="450" y1="189" x2="444" y2="166" stroke="#3a50e8" stroke-width="9"/>
<line x1="713" y1="740" x2="729" y2="749" stroke="#70d060" stroke-width="7"/>
<line x1="866" y1="108" x2="873" y2="94" stroke="#7ce066" stroke-width="11"/>
<line x1="417" y1="119" x2="421" y2="85" stroke="#c03a48" stroke-width="11"/>
<line x1="187" y1="102" x2="159" y2="84" stroke="#b03040" stroke-width="9"/>
<line x1="859" y1="740" x2="886" y2="731" stroke="#7ad870" stroke-width="11"/>
<line x1="346" y1="365" x2="342" y2="395" stroke="#48c0c8" stroke-width="10"/>
<line x1="486" y1="434" x2="506" y2="440" stroke="#3b5ff0" stroke-width="10"/>
<line x1="391" y1="669" x2="414" y2="683" stroke="#7ce066" stroke-width="9"/>
<line x1="276" y1="487" x2="298" y2="495" stroke="#b83a3a" stroke-width="10"/>
<line x1="129" y1="642" x2="147" y2="644" stroke="#8a3ab0" stroke-width="11"/>
<line x1="658" y1="259" x2="669" y2="250" stroke="#8a3ab0" stroke-width="9"/>
<line x1="620" y1="550" x2="624" y2="579" stroke="#80ea6a" stroke-width="9"/>
<line x1="780" y1="175" x2="792" y2="156" stroke="#3a50e8" stroke-width="12"/>
<line x1="663" y1="403" x2="683" y2="404" stroke="#3b5ff0" stroke-width="8"/>
<line x1="240" y1="687" x2="242" y2="711" stroke="#7ce066" stroke-width="11"/>
<line x1="788" y1="210" x2="801" y2="195" stroke="#8a3ab0" stroke-width="7"/>
<line x1="291" y1="252" x2="275" y2="238" stroke="#7ce066" stroke-width="10"/>
<line x1="366" y1="528" x2="347" y2="549" stroke="#c84a4a" stroke-width="12"/>
<line x1="207" y1="581" x2="198" y2="599" stroke="#8ae060" stroke-width="9"/>
<line x1="98" y1="599" x2="67" y2="609" stroke="#7ce066" stroke-width="7"/>
<line x1="641" y1="597" x2="666" y2="588" stroke="#8ee462" stroke-width="8"/>
<line x1="669" y1="498" x2="686" y2="522" stroke="#8a40b0" stroke-width="7"/>
<line x1="884" y1="156" x2="915" y2="148" stroke="#7ce066" stroke-width="9"/>
<line x1="330" y1="173" x2="317" y2="156" stroke="#6ad86a" stroke-width="12"/>
<line x1="627" y1="495" x2="639" y2="507" stroke="#c84a4a" stroke-width="9"/>
<line x1="658" y1="516" x2="645" y2="545" stroke="#3a58e8" stroke-width="10"/>
<line x1="604" y1="316" x2="617" y2="346" stroke="#3a58e8" stroke-width="10"/>
<line x1="450" y1="653" x2="430" y2="661" stroke="#c83c3c" stroke-width="8"/>
<line x1="560" y1="364" x2="591" y2="371" stroke="#3b5ff0" stroke-width="7"/>
<line x1="189" y1="725" x2="171" y2="726" stroke="#4a60e0" stroke-width="8"/>
<line x1="307" y1="180" x2="296" y2="164" stroke="#7ce066" stroke-width="9"/>
<line x1="737" y1="731" x2="753" y2="723" stroke="#7ad870" stroke-width="12"/>
<line x1="781" y1="551" x2="765" y2="561" stroke="#3a58e8" stroke-width="10"/>
<line x1="896" y1="621" x2="916" y2="623" stroke="#8ee462" stroke-width="8"/>
<line x1="873" y1="572" x2="889" y2="580" stroke="#a0d860" stroke-width="12"/>
<line x1="791" y1="334" x2="779" y2="345" stroke="#c83c3c" stroke-width="11"/>
<line x1="657" y1="723" x2="683" y2="719" stroke="#a0d860" stroke-width="12"/>
<line x1="883" y1="668" x2="906" y2="674" stroke="#8ee462" stroke-width="11"/>
<line x1="573" y1="672" x2="597" y2="673" stroke="#70d060" stroke-width="7"/>
<line x1="785" y1="427" x2="814" y2="441" stroke="#3a58e8" stroke-width="11"/>
<line x1="68" y1="632" x2="57" y2="649" stroke="#8ae060" stroke-width="9"/>
<line x1="162" y1="272" x2="145" y2="273" stroke="#8a3ab0" stroke-width="11"/>
<line x1="420" y1="432" x2="452" y2="442" stroke="#4a7cf0" stroke-width="11"/>
<line x1="639" y1="372" x2="667" y2="378" stroke="#3b5ff0" stroke-width="10"/>
<line x1="593" y1="225" x2="599" y2="197" stroke="#8a3ab0" stroke-width="11"/>
<line x1="123" y1="165" x2="103" y2="162" stroke="#3a50e8" stroke-width="8"/>
<line x1="170" y1="702" x2="150" y2="711" stroke="#b83a3a" stroke-width="11"/>
<line x1="216" y1="460" x2="239" y2="476" stroke="#7ce066" stroke-width="7"/>
<line x1="399" y1="551" x2="397" y2="567" stroke="#80ea6a" stroke-width="12"/>
<line x1="243" y1="365" x2="225" y2="382" stroke="#4a60e0" stroke-width="10"/>
<line x1="80" y1="447" x2="107" y2="451" stroke="#7ce066" stroke-width="9"/>
<line x1="66" y1="231" x2="48" y2="212" stroke="#3a50e8" stroke-width="10"/>
<line x1="809" y1="358" x2="804" y2="373" stroke="#8a40b0" stroke-width="12"/>
<line x1="633" y1="519" x2="611" y2="537" stroke="#80ea6a" stroke-width="7"/>
<line x1="450" y1="656" x2="466" y2="667" stroke="#8a40b0" stroke-width="12"/>
<line x1="290" y1="607" x2="298" y2="625" stroke="#8ae060" stroke-width="12"/>
<line x1="429" y1="665" x2="411" y2="690" stroke="#3a58e8" stroke-width="10"/>
<line x1="383" y1="367" x2="351" y2="368" stroke="#c04040" stroke-width="9"/>
<line x1="103" y1="651" x2="95" y2="671" stroke="#c83a3a" stroke-width="10"/>
<line x1="856" y1="592" x2="878" y2="593" stroke="#70d060" stroke-width="10"/>
<line x1="413" y1="67" x2="400" y2="45" stroke="#c83838" stroke-width="10"/>
<line x1="170" y1="426" x2="194" y2="439" stroke="#7ce066" stroke-width="8"/>
<line x1="727" y1="641" x2="758" y2="644" stroke="#7ad870" stroke-width="10"/>
<line x1="629" y1="666" x2="645" y2="662" stroke="#8ee462" stroke-width="11"/>
<line x1="256" y1="214" x2="232" y2="205" stroke="#7ce066" stroke-width="9"/>
<line x1="483" y1="618" x2="509" y2="630" stroke="#8ee462" stroke-width="7"/>
<line x1="309" y1="344" x2="308" y2="364" stroke="#4a60e0" stroke-width="11"/>
<line x1="663" y1="551" x2="681" y2="579" stroke="#c04040" stroke-width="7"/>
<line x1="594" y1="738" x2="611" y2="744" stroke="#8ee462" stroke-width="10"/>
<line x1="222" y1="134" x2="213" y2="111" stroke="#b03040" stroke-width="7"/>
<line x1="361" y1="398" x2="367" y2="426" stroke="#3a58e8" stroke-width="7"/>
<line x1="794" y1="642" x2="821" y2="653" stroke="#8ee462" stroke-width="7"/>
<line x1="407" y1="638" x2="418" y2="661" stroke="#8a40b0" stroke-width="11"/>
<line x1="757" y1="284" x2="782" y2="266" stroke="#c83c3c" stroke-width="12"/>
<line x1="46" y1="347" x2="49" y2="363" stroke="#c03030" stroke-width="8"/>
<line x1="709" y1="668" x2="736" y2="681" stroke="#8ee462" stroke-width="10"/>
<line x1="358" y1="364" x2="388" y2="366" stroke="#48c0c8" stroke-width="12"/>
<line x1="628" y1="237" x2="638" y2="216" stroke="#8a3ab0" stroke-width="10"/>
<line x1="50" y1="345" x2="64" y2="358" stroke="#4a60e0" stroke-width="12"/>
<line x1="227" y1="673" x2="239" y2="692" stroke="#7ce066" stroke-width="12"/>
<line x1="695" y1="684" x2="719" y2="678" stroke="#8ee462" stroke-width="11"/>
<line x1="144" y1="527" x2="152" y2="545" stroke="#8ae060" stroke-width="8"/>
<line x1="198" y1="502" x2="222" y2="518" stroke="#c03030" stroke-width="12"/>
<line x1="646" y1="424" x2="670" y2="416" stroke="#5ad07a" stroke-width="7"/>
<line x1="80" y1="76" x2="55" y2="63" stroke="#b03040" stroke-width="10"/>
<line x1="118" y1="195" x2="100" y2="180" stroke="#c03a48" stroke-width="9"/>
<line x1="460" y1="404" x2="477" y2="407" stroke="#3050e8" stroke-width="12"/>
<line x1="492" y1="447" x2="481" y2="463" stroke="#c84a4a" stroke-width="10"/>
<line x1="442" y1="145" x2="446" y2="116" stroke="#7ce066" stroke-width="10"/>
<line x1="440" y1="705" x2="434" y2="726" stroke="#8a40b0" stroke-width="9"/>
<line x1="216" y1="197" x2="193" y2="180" stroke="#7ce066" stroke-width="11"/>
<line x1="753" y1="262" x2="771" y2="234" stroke="#3a50e8" stroke-width="7"/>
<line x1="404" y1="408" x2="424" y2="416" stroke="#3b5ff0" stroke-width="9"/>
<line x1="288" y1="313" x2="317" y2="327" stroke="#c04040" stroke-width="12"/>
<line x1="557" y1="633" x2="581" y2="621" stroke="#a0d860" stroke-width="11"/>
<line x1="288" y1="552" x2="265" y2="557" stroke="#7ce066" stroke-width="10"/>
<line x1="535" y1="439" x2="552" y2="442" stroke="#3050e8" stroke-width="8"/>
<line x1="458" y1="392" x2="476" y2="395" stroke="#3b5ff0" stroke-width="9"/>
<line x1="144" y1="589" x2="121" y2="607" stroke="#7ce066" stroke-width="7"/>
<line x1="530" y1="226" x2="533" y2="207" stroke="#40c0d0" stroke-width="7"/>
<line x1="46" y1="63" x2="33" y2="37" stroke="#8a3ab0" stroke-width="8"/>
<line x1="576" y1="79" x2="589" y2="56" stroke="#c03a48" stroke-width="10"/>
<line x1="246" y1="631" x2="241" y2="664" stroke="#7ce066" stroke-width="7"/>
<line x1="237" y1="555" x2="258" y2="576" stroke="#c04040" stroke-width="8"/>
<line x1="93" y1="413" x2="110" y2="426" stroke="#7ce066" stroke-width="7"/>
<line x1="796" y1="658" x2="826" y2="643" stroke="#b85a3a" stroke-width="12"/>
<line x1="171" y1="740" x2="202" y2="753" stroke="#7ce066" stroke-width="9"/>
<line x1="108" y1="381" x2="99" y2="405" stroke="#7ce066" stroke-width="9"/>
<line x1="671" y1="275" x2="697" y2="268" stroke="#7ce066" stroke-width="8"/>
<line x1="223" y1="621" x2="239" y2="644" stroke="#50c8b0" stroke-width="9"/>
<line x1="321" y1="380" x2="315" y2="398" stroke="#7ce066" stroke-width="8"/>
<line x1="394" y1="549" x2="384" y2="564" stroke="#80ea6a" stroke-width="12"/>
<line x1="768" y1="542" x2="780" y2="550" stroke="#48c0c8" stroke-width="12"/>
<line x1="685" y1="456" x2="677" y2="476" stroke="#c83c3c" stroke-width="10"/>
<line x1="428" y1="687" x2="413" y2="716" stroke="#48c0c8" stroke-width="7"/>
<line x1="445" y1="697" x2="431" y2="723" stroke="#7ce066" stroke-width="10"/>
<line x1="720" y1="723" x2="736" y2="725" stroke="#8ee462" stroke-width="12"/>
<line x1="757" y1="667" x2="787" y2="664" stroke="#a0d860" stroke-width="12"/>
<line x1="807" y1="626" x2="821" y2="631" stroke="#8ee462" stroke-width="8"/>
<line x1="67" y1="516" x2="77" y2="530" stroke="#7ce066" stroke-width="10"/>
<line x1="544" y1="618" x2="566" y2="627" stroke="#8ee462" stroke-width="10"/>
<line x1="534" y1="399" x2="549" y2="397" stroke="#3050e8" stroke-width="11"/>
<line x1="303" y1="67" x2="287" y2="56" stroke="#3a50e8" stroke-width="8"/>
<line x1="197" y1="644" x2="182" y2="657" stroke="#c83a3a" stroke-width="9"/>
<line x1="516" y1="298" x2="510" y2="275" stroke="#7ce066" stroke-width="9"/>
<line x1="620" y1="729" x2="632" y2="736" stroke="#a0d860" stroke-width="8"/>
<line x1="630" y1="345" x2="648" y2="345" stroke="#4a7cf0" stroke-width="11"/>
<line x1="448" y1="547" x2="440" y2="562" stroke="#c84a4a" stroke-width="12"/>
<line x1="81" y1="335" x2="83" y2="350" stroke="#7ce066" stroke-width="9"/>
<line x1="203" y1="635" x2="214" y2="655" stroke="#c04040" stroke-width="7"/>
<line x1="815" y1="78" x2="825" y2="58" stroke="#7ce066" stroke-width="9"/>
<line x1="156" y1="355" x2="152" y2="369" stroke="#50c8b0" stroke-width="8"/>
<line x1="93" y1="688" x2="110" y2="688" stroke="#b83a3a" stroke-width="10"/>
<line x1="240" y1="452" x2="256" y2="482" stroke="#b83a3a" stroke-width="7"/>
<line x1="347" y1="176" x2="331" y2="152" stroke="#3a50e8" stroke-width="12"/>
<line x1="470" y1="94" x2="464" y2="75" stroke="#3a50e8" stroke-width="8"/>
<line x1="452" y1="607" x2="437" y2="620" stroke="#c84a4a" stroke-width="9"/>
<line x1="365" y1="295" x2="354" y2="284" stroke="#48c0c8" stroke-width="12"/>
<line x1="899" y1="224" x2="912" y2="222" stroke="#6ad86a" stroke-width="11"/>
<line x1="532" y1="523" x2="530" y2="539" stroke="#80ea6a" stroke-width="8"/>
<line x1="600" y1="313" x2="598" y2="339" stroke="#48c0c8" stroke-width="7"/>
<line x1="809" y1="559" x2="781" y2="567" stroke="#3a58e8" stroke-width="9"/>
<line x1="643" y1="334" x2="674" y2="337" stroke="#3050e8" stroke-width="9"/>
<line x1="395" y1="120" x2="396" y2="99" stroke="#7ce066" stroke-width="10"/>
<line x1="602" y1="212" x2="605" y2="182" stroke="#c03a48" stroke-width="10"/>
<line x1="143" y1="113" x2="132" y2="95" stroke="#3a50e8" stroke-width="11"/>
<line x1="284" y1="413" x2="286" y2="430" stroke="#c03030" stroke-width="9"/>
<line x1="822" y1="160" x2="836" y2="135" stroke="#6ad86a" stroke-width="9"/>
<line x1="615" y1="637" x2="634" y2="633" stroke="#70d060" stroke-width="10"/>
<line x1="245" y1="182" x2="216" y2="165" stroke="#c03a48" stroke-width="11"/>
<line x1="646" y1="392" x2="673" y2="382" stroke="#3050e8" stroke-width="10"/>
<line x1="807" y1="503" x2="828" y2="523" stroke="#7ce066" stroke-width="9"/>
<line x1="232" y1="311" x2="208" y2="322" stroke="#4a60e0" stroke-width="11"/>
<line x1="692" y1="178" x2="704" y2="171" stroke="#6ad86a" stroke-width="9"/>
<line x1="817" y1="623" x2="849" y2="614" stroke="#b85a3a" stroke-width="7"/>
<line x1="777" y1="686" x2="798" y2="682" stroke="#7ad870" stroke-width="9"/>
<line x1="152" y1="305" x2="139" y2="310" stroke="#4a60e0" stroke-width="7"/>
<line x1="423" y1="258" x2="410" y2="237" stroke="#8a3ab0" stroke-width="12"/>
<line x1="670" y1="335" x2="689" y2="337" stroke="#3050e8" stroke-width="8"/>
<line x1="501" y1="204" x2="496" y2="180" stroke="#b03040" stroke-width="9"/>
<line x1="378" y1="110" x2="380" y2="89" stroke="#b03040" stroke-width="9"/>
<line x1="578" y1="293" x2="584" y2="275" stroke="#48c0c8" stroke-width="7"/>
<line x1="359" y1="381" x2="375" y2="410" stroke="#7ce066" stroke-width="7"/>
<line x1="236" y1="588" x2="247" y2="598" stroke="#50c8b0" stroke-width="10"/>
<line x1="648" y1="526" x2="646" y2="540" stroke="#7ce066" stroke-width="11"/>
<line x1="481" y1="210" x2="468" y2="180" stroke="#3a50e8" stroke-width="10"/>
<line x1="214" y1="585" x2="193" y2="600" stroke="#4a60e0" stroke-width="8"/>
<line x1="108" y1="368" x2="97" y2="377" stroke="#b83a3a" stroke-width="9"/>
<line x1="311" y1="160" x2="304" y2="140" stroke="#40c0d0" stroke-width="7"/>
<line x1="313" y1="562" x2="300" y2="575" stroke="#80ea6a" stroke-width="10"/>
<line x1="519" y1="618" x2="541" y2="622" stroke="#7ad870" stroke-width="7"/>
<line x1="166" y1="533" x2="170" y2="554" stroke="#8a3ab0" stroke-width="9"/>
<line x1="156" y1="204" x2="140" y2="196" stroke="#3a50e8" stroke-width="12"/>
<line x1="573" y1="284" x2="585" y2="269" stroke="#c83c3c" stroke-width="9"/>
<line x1="809" y1="391" x2="788" y2="393" stroke="#3a58e8" stroke-width="11"/>
<line x1="604" y1="643" x2="628" y2="641" stroke="#70d060" stroke-width="8"/>
<line x1="204" y1="657" x2="228" y2="665" stroke="#8ae060" stroke-width="10"/>
<line x1="444" y1="573" x2="448" y2="588" stroke="#80ea6a" stroke-width="9"/>
<line x1="132" y1="706" x2="150" y2="717" stroke="#7ce066" stroke-width="11"/>
<line x1="231" y1="505" x2="247" y2="510" stroke="#7ce066" stroke-width="9"/>
<line x1="52" y1="410" x2="74" y2="429" stroke="#8ae060" stroke-width="11"/>
<line x1="907" y1="78" x2="926" y2="71" stroke="#7ce066" stroke-width="12"/>
<line x1="736" y1="190" x2="752" y2="172" stroke="#c83838" stroke-width="11"/>
<line x1="607" y1="538" x2="596" y2="558" stroke="#80ea6a" stroke-width="11"/>
<line x1="369" y1="268" x2="356" y2="239" stroke="#40c0d0" stroke-width="11"/>
<line x1="818" y1="682" x2="840" y2="671" stroke="#8ee462" stroke-width="9"/>
<line x1="109" y1="360" x2="99" y2="374" stroke="#50c8b0" stroke-width="10"/>
<line x1="295" y1="145" x2="290" y2="114" stroke="#3a50e8" stroke-width="9"/>
<line x1="327" y1="655" x2="339" y2="674" stroke="#c03030" stroke-width="8"/>
<line x1="739" y1="93" x2="753" y2="66" stroke="#7ce066" stroke-width="8"/>
<line x1="784" y1="73" x2="803" y2="61" stroke="#3a50e8" stroke-width="11"/>
<line x1="425" y1="333" x2="457" y2="341" stroke="#3b5ff0" stroke-width="12"/>
<line x1="545" y1="224" x2="557" y2="204" stroke="#3a50e8" stroke-width="12"/>
<line x1="848" y1="104" x2="854" y2="87" stroke="#40c0d0" stroke-width="9"/>
<line x1="238" y1="502" x2="252" y2="532" stroke="#50c8b0" stroke-width="11"/>
<line x1="813" y1="647" x2="841" y2="649" stroke="#8ee462" stroke-width="12"/>
<line x1="637" y1="208" x2="639" y2="194" stroke="#3a50e8" stroke-width="12"/>
<line x1="217" y1="737" x2="212" y2="755" stroke="#7ce066" stroke-width="10"/>
<line x1="55" y1="59" x2="35" y2="53" stroke="#c03a48" stroke-width="8"/>
<line x1="516" y1="309" x2="541" y2="321" stroke="#48c0c8" stroke-width="9"/>
<line x1="587" y1="249" x2="596" y2="238" stroke="#6ad86a" stroke-width="8"/>
<line x1="792" y1="255" x2="809" y2="248" stroke="#3a50e8" stroke-width="8"/>
<line x1="409" y1="370" x2="432" y2="362" stroke="#3050e8" stroke-width="8"/>
<line x1="352" y1="581" x2="332" y2="589" stroke="#6cd87a" stroke-width="9"/>
<line x1="710" y1="581" x2="737" y2="581" stroke="#70d060" stroke-width="11"/>
<line x1="671" y1="455" x2="652" y2="463" stroke="#c83c3c" stroke-width="8"/>
<line x1="793" y1="460" x2="770" y2="477" stroke="#8a40b0" stroke-width="9"/>
<line x1="730" y1="662" x2="747" y2="654" stroke="#8ee462" stroke-width="7"/>
<line x1="302" y1="556" x2="314" y2="571" stroke="#60d8a0" stroke-width="8"/>
<line x1="530" y1="515" x2="558" y2="516" stroke="#4a90e0" stroke-width="11"/>
<line x1="717" y1="295" x2="739" y2="286" stroke="#c83c3c" stroke-width="10"/>
<line x1="902" y1="199" x2="912" y2="187" stroke="#6ad86a" stroke-width="12"/>
<line x1="665" y1="172" x2="672" y2="160" stroke="#3a50e8" stroke-width="9"/>
<line x1="578" y1="68" x2="570" y2="38" stroke="#7ce066" stroke-width="11"/>
<line x1="88" y1="195" x2="77" y2="183" stroke="#b03040" stroke-width="12"/>
<line x1="444" y1="384" x2="476" y2="392" stroke="#3050e8" stroke-width="8"/>
<line x1="846" y1="351" x2="854" y2="364" stroke="#48c0c8" stroke-width="9"/>
<line x1="221" y1="73" x2="205" y2="66" stroke="#b03040" stroke-width="10"/>
<line x1="624" y1="320" x2="636" y2="336" stroke="#c83c3c" stroke-width="7"/>
<line x1="797" y1="336" x2="790" y2="351" stroke="#7ce066" stroke-width="9"/>
<line x1="373" y1="649" x2="347" y2="666" stroke="#3a58e8" stroke-width="10"/>
<line x1="222" y1="329" x2="194" y2="345" stroke="#8a3ab0" stroke-width="12"/>
<line x1="717" y1="276" x2="726" y2="264" stroke="#c04040" stroke-width="11"/>
<line x1="98" y1="333" x2="107" y2="344" stroke="#8a3ab0" stroke-width="12"/>
<line x1="231" y1="370" x2="250" y2="395" stroke="#c83a3a" stroke-width="12"/>
<line x1="764" y1="312" x2="757" y2="336" stroke="#8a40b0" stroke-width="9"/>
<line x1="856" y1="644" x2="883" y2="652" stroke="#8ee462" stroke-width="7"/>
<line x1="322" y1="734" x2="311" y2="748" stroke="#8a3ab0" stroke-width="10"/>
<line x1="760" y1="592" x2="782" y2="602" stroke="#8ee462" stroke-width="12"/>
<line x1="494" y1="427" x2="526" y2="435" stroke="#4a7cf0" stroke-width="12"/>
<line x1="138" y1="594" x2="127" y2="608" stroke="#b83a3a" stroke-width="7"/>
<line x1="360" y1="447" x2="378" y2="454" stroke="#80ea6a" stroke-width="10"/>
<line x1="643" y1="491" x2="664" y2="506" stroke="#3a58e8" stroke-width="12"/>
<line x1="851" y1="82" x2="860" y2="64" stroke="#3a50e8" stroke-width="12"/>
<line x1="531" y1="302" x2="519" y2="317" stroke="#7ce066" stroke-width="10"/>
<line x1="899" y1="93" x2="920" y2="71" stroke="#3a50e8" stroke-width="11"/>
<line x1="796" y1="299" x2="813" y2="284" stroke="#7ce066" stroke-width="10"/>
<line x1="865" y1="196" x2="883" y2="178" stroke="#3a50e8" stroke-width="11"/>
<line x1="590" y1="53" x2="598" y2="23" stroke="#b03040" stroke-width="10"/>
<line x1="361" y1="649" x2="342" y2="676" stroke="#7ce066" stroke-width="9"/>
<line x1="523" y1="259" x2="516" y2="227" stroke="#7ce066" stroke-width="10"/>
<line x1="602" y1="73" x2="616" y2="48" stroke="#3a50e8" stroke-width="8"/>
<line x1="901" y1="172" x2="925" y2="157" stroke="#b03040" stroke-width="12"/>
<line x1="343" y1="384" x2="330" y2="415" stroke="#c04040" stroke-width="9"/>
<line x1="391" y1="300" x2="379" y2="289" stroke="#7ce066" stroke-width="9"/>
<line x1="438" y1="96" x2="433" y2="78" stroke="#c83838" stroke-width="9"/>
<line x1="772" y1="608" x2="804" y2="602" stroke="#8ee462" stroke-width="9"/>
<line x1="479" y1="108" x2="474" y2="77" stroke="#8a3ab0" stroke-width="8"/>
<line x1="528" y1="414" x2="551" y2="408" stroke="#5ad07a" stroke-width="9"/>
<line x1="778" y1="167" x2="802" y2="161" stroke="#40c0d0" stroke-width="7"/>
<line x1="274" y1="483" x2="273" y2="501" stroke="#c03030" stroke-width="10"/>
<line x1="661" y1="193" x2="670" y2="175" stroke="#8a3ab0" stroke-width="7"/>
<line x1="77" y1="199" x2="54" y2="186" stroke="#40c0d0" stroke-width="11"/>
<line x1="572" y1="282" x2="582" y2="271" stroke="#c04040" stroke-width="11"/>
<line x1="279" y1="333" x2="265" y2="337" stroke="#7ce066" stroke-width="11"/>
<line x1="384" y1="720" x2="355" y2="728" stroke="#c83c3c" stroke-width="10"/>
<line x1="791" y1="598" x2="809" y2="602" stroke="#70d060" stroke-width="7"/>
<line x1="268" y1="609" x2="282" y2="632" stroke="#c04040" stroke-width="11"/>
<line x1="872" y1="381" x2="871" y2="405" stroke="#48c0c8" stroke-width="12"/>
<line x1="859" y1="290" x2="873" y2="278" stroke="#48c0c8" stroke-width="9"/>
<line x1="555" y1="719" x2="586" y2="711" stroke="#7ad870" stroke-width="8"/>
<line x1="371" y1="655" x2="346" y2="666" stroke="#8a40b0" stroke-width="11"/>
<line x1="262" y1="283" x2="239" y2="278" stroke="#b83a3a" stroke-width="11"/>
<line x1="277" y1="145" x2="270" y2="131" stroke="#8a3ab0" stroke-width="11"/>
<line x1="224" y1="208" x2="196" y2="197" stroke="#3a50e8" stroke-width="11"/>
<line x1="780" y1="612" x2="801" y2="618" stroke="#8ee462" stroke-width="11"/>
<line x1="355" y1="231" x2="345" y2="200" stroke="#3a50e8" stroke-width="12"/>
<line x1="762" y1="608" x2="788" y2="606" stroke="#70d060" stroke-width="12"/>
<line x1="467" y1="272" x2="472" y2="251" stroke="#7ce066" stroke-width="8"/>
<line x1="582" y1="204" x2="581" y2="181" stroke="#b03040" stroke-width="9"/>
<line x1="182" y1="76" x2="173" y2="62" stroke="#c83838" stroke-width="11"/>
<line x1="635" y1="286" x2="655" y2="270" stroke="#8a40b0" stroke-width="9"/>
<line x1="106" y1="392" x2="112" y2="418" stroke="#7ce066" stroke-width="7"/>
<line x1="486" y1="487" x2="511" y2="490" stroke="#80ea6a" stroke-width="11"/>
<line x1="772" y1="643" x2="787" y2="638" stroke="#70d060" stroke-width="8"/>
<line x1="831" y1="596" x2="860" y2="586" stroke="#b85a3a" stroke-width="12"/>
<line x1="50" y1="434" x2="24" y2="448" stroke="#7ce066" stroke-width="8"/>
<line x1="432" y1="88" x2="424" y2="61" stroke="#3a50e8" stroke-width="11"/>
<line x1="855" y1="743" x2="888" y2="745" stroke="#70d060" stroke-width="10"/>
<line x1="503" y1="748" x2="528" y2="736" stroke="#7ad870" stroke-width="7"/>
<line x1="268" y1="587" x2="254" y2="593" stroke="#8ae060" stroke-width="7"/>
<line x1="451" y1="590" x2="476" y2="602" stroke="#80ea6a" stroke-width="10"/>
<line x1="69" y1="352" x2="79" y2="372" stroke="#7ce066" stroke-width="9"/>
<line x1="906" y1="340" x2="906" y2="361" stroke="#c04040" stroke-width="8"/>
<line x1="551" y1="170" x2="546" y2="142" stroke="#8a3ab0" stroke-width="11"/>
<line x1="829" y1="706" x2="856" y2="702" stroke="#b85a3a" stroke-width="12"/>
<line x1="129" y1="684" x2="111" y2="697" stroke="#c04040" stroke-width="12"/>
<line x1="129" y1="617" x2="112" y2="622" stroke="#7ce066" stroke-width="9"/>
<line x1="589" y1="683" x2="603" y2="677" stroke="#8ee462" stroke-width="8"/>
<line x1="833" y1="590" x2="865" y2="586" stroke="#a0d860" stroke-width="8"/>
<line x1="824" y1="318" x2="825" y2="333" stroke="#c83c3c" stroke-width="12"/>
<line x1="848" y1="369" x2="832" y2="387" stroke="#7ce066" stroke-width="11"/>
<line x1="190" y1="336" x2="199" y2="360" stroke="#c03030" stroke-width="11"/>
<line x1="93" y1="445" x2="66" y2="456" stroke="#c83a3a" stroke-width="7"/>
<line x1="616" y1="280" x2="631" y2="271" stroke="#7ce066" stroke-width="12"/>
<line x1="496" y1="238" x2="499" y2="218" stroke="#40c0d0" stroke-width="11"/>
<line x1="63" y1="190" x2="34" y2="189" stroke="#c83838" stroke-width="11"/>
<line x1="708" y1="620" x2="724" y2="624" stroke="#a0d860" stroke-width="11"/>
<line x1="69" y1="608" x2="78" y2="630" stroke="#7ce066" stroke-width="11"/>
<line x1="425" y1="100" x2="425" y2="73" stroke="#8a3ab0" stroke-width="10"/>
<line x1="254" y1="295" x2="238" y2="281" stroke="#50c8b0" stroke-width="8"/>
<line x1="314" y1="497" x2="328" y2="503" stroke="#80ea6a" stroke-width="9"/>
<line x1="512" y1="669" x2="527" y2="671" stroke="#b85a3a" stroke-width="7"/>
<line x1="220" y1="614" x2="200" y2="640" stroke="#8a3ab0" stroke-width="7"/>
<line x1="290" y1="284" x2="270" y2="277" stroke="#50c8b0" stroke-width="7"/>
<line x1="262" y1="96" x2="254" y2="77" stroke="#7ce066" stroke-width="9"/>
<line x1="664" y1="191" x2="675" y2="178" stroke="#3a50e8" stroke-width="9"/>
<line x1="273" y1="616" x2="295" y2="625" stroke="#c04040" stroke-width="9"/>
<line x1="588" y1="535" x2="570" y2="548" stroke="#6cd87a" stroke-width="10"/>
<line x1="766" y1="303" x2="753" y2="314" stroke="#48c0c8" stroke-width="9"/>
<line x1="878" y1="493" x2="900" y2="512" stroke="#c83c3c" stroke-width="12"/>
<line x1="597" y1="726" x2="612" y2="725" stroke="#8ee462" stroke-width="10"/>
<line x1="183" y1="134" x2="166" y2="118" stroke="#8a3ab0" stroke-width="11"/>
<line x1="309" y1="411" x2="328" y2="418" stroke="#7ce066" stroke-width="9"/>
<line x1="565" y1="230" x2="563" y2="210" stroke="#8a3ab0" stroke-width="8"/>
<line x1="408" y1="365" x2="425" y2="362" stroke="#3b5ff0" stroke-width="9"/>
<line x1="670" y1="700" x2="699" y2="702" stroke="#a0d860" stroke-width="12"/>
<line x1="616" y1="643" x2="646" y2="649" stroke="#b85a3a" stroke-width="12"/>
<line x1="340" y1="612" x2="322" y2="618" stroke="#80ea6a" stroke-width="7"/>
<line x1="324" y1="490" x2="295" y2="498" stroke="#6cd87a" stroke-width="7"/>
<line x1="187" y1="723" x2="201" y2="726" stroke="#c83a3a" stroke-width="10"/>
<line x1="208" y1="615" x2="210" y2="639" stroke="#8ae060" stroke-width="7"/>
<line x1="431" y1="389" x2="462" y2="386" stroke="#3050e8" stroke-width="8"/>
<line x1="226" y1="427" x2="202" y2="429" stroke="#7ce066" stroke-width="8"/>
<line x1="806" y1="323" x2="778" y2="324" stroke="#48c0c8" stroke-width="7"/>
<line x1="709" y1="167" x2="728" y2="146" stroke="#c03a48" stroke-width="9"/>
<line x1="90" y1="638" x2="115" y2="655" stroke="#8a3ab0" stroke-width="9"/>
<line x1="209" y1="652" x2="217" y2="670" stroke="#8a3ab0" stroke-width="9"/>
<line x1="125" y1="637" x2="101" y2="648" stroke="#4a60e0" stroke-width="8"/>
<line x1="412" y1="577" x2="429" y2="580" stroke="#4a90e0" stroke-width="10"/>
<line x1="130" y1="155" x2="116" y2="152" stroke="#c83838" stroke-width="8"/>
<line x1="811" y1="345" x2="830" y2="347" stroke="#48c0c8" stroke-width="8"/>
<line x1="708" y1="567" x2="732" y2="578" stroke="#7ce066" stroke-width="12"/>
<line x1="46" y1="543" x2="32" y2="558" stroke="#8a3ab0" stroke-width="12"/>
<line x1="646" y1="527" x2="628" y2="531" stroke="#48c0c8" stroke-width="9"/>
<line x1="64" y1="144" x2="46" y2="142" stroke="#c03a48" stroke-width="11"/>
<line x1="261" y1="393" x2="260" y2="410" stroke="#b83a3a" stroke-width="12"/>
<line x1="92" y1="361" x2="116" y2="369" stroke="#c83a3a" stroke-width="7"/>
<line x1="265" y1="443" x2="245" y2="459" stroke="#8ae060" stroke-width="8"/>
<line x1="92" y1="297" x2="76" y2="293" stroke="#4a60e0" stroke-width="9"/>
<line x1="101" y1="699" x2="95" y2="729" stroke="#50c8b0" stroke-width="7"/>
<line x1="457" y1="676" x2="431" y2="676" stroke="#3a58e8" stroke-width="11"/>
<line x1="212" y1="203" x2="185" y2="186" stroke="#6ad86a" stroke-width="12"/>
<line x1="779" y1="179" x2="806" y2="172" stroke="#6ad86a" stroke-width="9"/>
<line x1="793" y1="68" x2="810" y2="42" stroke="#6ad86a" stroke-width="8"/>
<line x1="473" y1="293" x2="471" y2="263" stroke="#3a58e8" stroke-width="10"/>
<line x1="396" y1="649" x2="405" y2="681" stroke="#48c0c8" stroke-width="11"/>
<line x1="479" y1="171" x2="486" y2="149" stroke="#3a50e8" stroke-width="9"/>
<line x1="532" y1="164" x2="542" y2="142" stroke="#3a50e8" stroke-width="8"/>
<line x1="444" y1="256" x2="441" y2="231" stroke="#c03a48" stroke-width="10"/>
<line x1="236" y1="434" x2="242" y2="460" stroke="#4a60e0" stroke-width="10"/>
<line x1="82" y1="204" x2="67" y2="188" stroke="#6ad86a" stroke-width="9"/>
<line x1="851" y1="531" x2="869" y2="537" stroke="#8a40b0" stroke-width="9"/>
<line x1="450" y1="679" x2="439" y2="699" stroke="#7ce066" stroke-width="9"/>
<line x1="468" y1="209" x2="457" y2="183" stroke="#7ce066" stroke-width="11"/>
<line x1="154" y1="640" x2="142" y2="652" stroke="#c83a3a" stroke-width="11"/>
<line x1="689" y1="71" x2="692" y2="48" stroke="#c03a48" stroke-width="7"/>
<line x1="718" y1="54" x2="725" y2="32" stroke="#3a50e8" stroke-width="9"/>
<line x1="316" y1="662" x2="324" y2="679" stroke="#7ce066" stroke-width="9"/>
<line x1="617" y1="263" x2="626" y2="245" stroke="#c03a48" stroke-width="11"/>
<line x1="703" y1="654" x2="728" y2="648" stroke="#8ee462" stroke-width="10"/>
<line x1="149" y1="302" x2="144" y2="324" stroke="#7ce066" stroke-width="10"/>
<line x1="535" y1="729" x2="564" y2="726" stroke="#70d060" stroke-width="9"/>
<line x1="368" y1="325" x2="349" y2="333" stroke="#3a58e8" stroke-width="11"/>
<line x1="517" y1="290" x2="518" y2="256" stroke="#8a40b0" stroke-width="9"/>
<line x1="587" y1="469" x2="605" y2="476" stroke="#60d8a0" stroke-width="10"/>
<line x1="804" y1="65" x2="818" y2="59" stroke="#6ad86a" stroke-width="8"/>
<line x1="417" y1="435" x2="436" y2="437" stroke="#3b5ff0" stroke-width="12"/>
<line x1="723" y1="127" x2="728" y2="112" stroke="#3a50e8" stroke-width="9"/>
<line x1="674" y1="173" x2="698" y2="150" stroke="#3a50e8" stroke-width="8"/>
<line x1="805" y1="417" x2="788" y2="438" stroke="#8a40b0" stroke-width="7"/>
<line x1="297" y1="340" x2="310" y2="359" stroke="#c04040" stroke-width="10"/>
<line x1="326" y1="439" x2="340" y2="456" stroke="#80ea6a" stroke-width="12"/>
<line x1="511" y1="481" x2="502" y2="511" stroke="#4a90e0" stroke-width="9"/>
<line x1="907" y1="517" x2="916" y2="529" stroke="#7ce066" stroke-width="12"/>
<line x1="371" y1="236" x2="364" y2="220" stroke="#40c0d0" stroke-width="10"/>
<line x1="218" y1="700" x2="206" y2="714" stroke="#c04040" stroke-width="8"/>
<line x1="753" y1="445" x2="769" y2="447" stroke="#7ce066" stroke-width="8"/>
<line x1="793" y1="501" x2="797" y2="523" stroke="#48c0c8" stroke-width="10"/>
<line x1="252" y1="749" x2="225" y2="754" stroke="#50c8b0" stroke-width="7"/>
<line x1="652" y1="730" x2="678" y2="735" stroke="#70d060" stroke-width="12"/>
<line x1="40" y1="424" x2="45" y2="447" stroke="#50c8b0" stroke-width="7"/>
<line x1="237" y1="89" x2="226" y2="73" stroke="#40c0d0" stroke-width="9"/>
<line x1="475" y1="678" x2="492" y2="697" stroke="#48c0c8" stroke-width="9"/>
<line x1="778" y1="209" x2="793" y2="205" stroke="#b03040" stroke-width="7"/>
<line x1="680" y1="680" x2="707" y2="675" stroke="#8ee462" stroke-width="7"/>
<line x1="212" y1="87" x2="207" y2="71" stroke="#7ce066" stroke-width="10"/>
<line x1="399" y1="689" x2="384" y2="715" stroke="#c83c3c" stroke-width="10"/>
<line x1="86" y1="200" x2="67" y2="174" stroke="#8a3ab0" stroke-width="11"/>
<line x1="582" y1="496" x2="587" y2="527" stroke="#80ea6a" stroke-width="8"/>
<line x1="277" y1="131" x2="270" y2="102" stroke="#b03040" stroke-width="9"/>
<line x1="117" y1="647" x2="93" y2="667" stroke="#7ce066" stroke-width="12"/>
<line x1="465" y1="356" x2="497" y2="364" stroke="#4a7cf0" stroke-width="12"/>
<line x1="422" y1="661" x2="443" y2="661" stroke="#3a58e8" stroke-width="9"/>
<line x1="826" y1="552" x2="844" y2="567" stroke="#7ce066" stroke-width="7"/>
<line x1="616" y1="549" x2="616" y2="564" stroke="#60d8a0" stroke-width="7"/>
<line x1="196" y1="493" x2="176" y2="505" stroke="#7ce066" stroke-width="7"/>
<line x1="518" y1="119" x2="513" y2="102" stroke="#c03a48" stroke-width="10"/>
<line x1="542" y1="575" x2="575" y2="573" stroke="#8ee462" stroke-width="10"/>
<line x1="327" y1="276" x2="306" y2="258" stroke="#4a60e0" stroke-width="10"/>
<line x1="255" y1="282" x2="228" y2="263" stroke="#c03030" stroke-width="7"/>
<line x1="872" y1="354" x2="866" y2="378" stroke="#48c0c8" stroke-width="12"/>
<line x1="465" y1="224" x2="460" y2="199" stroke="#40c0d0" stroke-width="10"/>
<line x1="181" y1="237" x2="164" y2="237" stroke="#6ad86a" stroke-width="10"/>
<line x1="696" y1="590" x2="720" y2="586" stroke="#7ad870" stroke-width="10"/>
<line x1="799" y1="347" x2="798" y2="365" stroke="#8a40b0" stroke-width="11"/>
<line x1="669" y1="147" x2="686" y2="132" stroke="#7ce066" stroke-width="9"/>
<line x1="174" y1="417" x2="180" y2="433" stroke="#7ce066" stroke-width="11"/>
<line x1="529" y1="294" x2="526" y2="276" stroke="#c04040" stroke-width="9"/>
<line x1="880" y1="565" x2="880" y2="587" stroke="#48c0c8" stroke-width="12"/>
<line x1="868" y1="51" x2="883" y2="44" stroke="#6ad86a" stroke-width="10"/>
<line x1="713" y1="676" x2="740" y2="661" stroke="#b85a3a" stroke-width="9"/>
<line x1="661" y1="327" x2="654" y2="350" stroke="#c04040" stroke-width="10"/>
<line x1="656" y1="94" x2="659" y2="76" stroke="#b03040" stroke-width="9"/>
<line x1="471" y1="292" x2="461" y2="262" stroke="#7ce066" stroke-width="11"/>
<line x1="403" y1="380" x2="426" y2="381" stroke="#5ad07a" stroke-width="12"/>
<line x1="395" y1="249" x2="377" y2="235" stroke="#c03a48" stroke-width="8"/>
<line x1="210" y1="171" x2="183" y2="154" stroke="#7ce066" stroke-width="10"/>
<line x1="281" y1="382" x2="283" y2="397" stroke="#8ae060" stroke-width="11"/>
<line x1="582" y1="94" x2="597" y2="77" stroke="#b03040" stroke-width="7"/>
<line x1="231" y1="243" x2="214" y2="232" stroke="#c03a48" stroke-width="8"/>
<line x1="661" y1="685" x2="676" y2="689" stroke="#8ee462" stroke-width="9"/>
<line x1="291" y1="619" x2="289" y2="646" stroke="#7ce066" stroke-width="10"/>
<line x1="499" y1="278" x2="507" y2="262" stroke="#48c0c8" stroke-width="10"/>
<line x1="636" y1="551" x2="638" y2="577" stroke="#80ea6a" stroke-width="11"/>
<line x1="58" y1="503" x2="81" y2="518" stroke="#c83a3a" stroke-width="11"/>
<line x1="181" y1="464" x2="196" y2="467" stroke="#8ae060" stroke-width="11"/>
<line x1="753" y1="69" x2="777" y2="55" stroke="#6ad86a" stroke-width="12"/>
<line x1="853" y1="99" x2="867" y2="88" stroke="#40c0d0" stroke-width="8"/>
<line x1="77" y1="150" x2="66" y2="141" stroke="#3a50e8" stroke-width="11"/>
<line x1="613" y1="539" x2="592" y2="541" stroke="#80ea6a" stroke-width="8"/>
<line x1="793" y1="465" x2="775" y2="479" stroke="#7ce066" stroke-width="12"/>
<line x1="529" y1="142" x2="535" y2="122" stroke="#3a50e8" stroke-width="12"/>
<line x1="663" y1="254" x2="692" y2="245" stroke="#7ce066" stroke-width="8"/>
<line x1="854" y1="374" x2="865" y2="389" stroke="#48c0c8" stroke-width="11"/>
<line x1="208" y1="505" x2="198" y2="517" stroke="#4a60e0" stroke-width="9"/>
<line x1="330" y1="75" x2="331" y2="59" stroke="#3a50e8" stroke-width="8"/>
<line x1="579" y1="243" x2="582" y2="227" stroke="#3a50e8" stroke-width="10"/>
<line x1="364" y1="146" x2="345" y2="119" stroke="#40c0d0" stroke-width="10"/>
<line x1="390" y1="392" x2="414" y2="400" stroke="#7ce066" stroke-width="8"/>
<line x1="508" y1="557" x2="500" y2="573" stroke="#60d8a0" stroke-width="11"/>
<line x1="476" y1="152" x2="471" y2="121" stroke="#6ad86a" stroke-width="7"/>
<line x1="319" y1="534" x2="297" y2="557" stroke="#c84a4a" stroke-width="11"/>
<line x1="677" y1="211" x2="684" y2="184" stroke="#8a3ab0" stroke-width="7"/>
<line x1="803" y1="278" x2="829" y2="260" stroke="#3a58e8" stroke-width="12"/>
<line x1="326" y1="78" x2="316" y2="65" stroke="#6ad86a" stroke-width="8"/>
<line x1="476" y1="443" x2="505" y2="462" stroke="#80ea6a" stroke-width="8"/>
<line x1="133" y1="238" x2="101" y2="239" stroke="#c03a48" stroke-width="12"/>
<line x1="54" y1="484" x2="62" y2="499" stroke="#8a3ab0" stroke-width="8"/>
<line x1="208" y1="556" x2="233" y2="563" stroke="#8a3ab0" stroke-width="7"/>
<line x1="904" y1="475" x2="900" y2="495" stroke="#c04040" stroke-width="9"/>
<line x1="261" y1="390" x2="232" y2="394" stroke="#7ce066" stroke-width="12"/>
<line x1="477" y1="569" x2="479" y2="592" stroke="#80ea6a" stroke-width="12"/>
<line x1="904" y1="450" x2="880" y2="470" stroke="#c83c3c" stroke-width="11"/>
<line x1="258" y1="309" x2="232" y2="320" stroke="#7ce066" stroke-width="11"/>
<line x1="161" y1="608" x2="148" y2="613" stroke="#50c8b0" stroke-width="8"/>
<line x1="137" y1="351" x2="159" y2="352" stroke="#c83a3a" stroke-width="7"/>
<line x1="469" y1="429" x2="485" y2="428" stroke="#4a7cf0" stroke-width="10"/>
<line x1="368" y1="311" x2="384" y2="330" stroke="#7ce066" stroke-width="11"/>
<line x1="553" y1="395" x2="585" y2="386" stroke="#4a7cf0" stroke-width="8"/>
<line x1="586" y1="554" x2="569" y2="573" stroke="#c84a4a" stroke-width="11"/>
<line x1="410" y1="567" x2="434" y2="572" stroke="#60d8a0" stroke-width="10"/>
<line x1="177" y1="266" x2="149" y2="264" stroke="#c83838" stroke-width="7"/>
<line x1="749" y1="481" x2="776" y2="502" stroke="#7ce066" stroke-width="12"/>
<line x1="605" y1="87" x2="617" y2="65" stroke="#8a3ab0" stroke-width="12"/>
<line x1="59" y1="281" x2="32" y2="275" stroke="#4a60e0" stroke-width="12"/>
<line x1="711" y1="646" x2="741" y2="631" stroke="#8ee462" stroke-width="9"/>
<line x1="479" y1="706" x2="456" y2="722" stroke="#c04040" stroke-width="9"/>
<line x1="416" y1="212" x2="409" y2="188" stroke="#c83838" stroke-width="10"/>
<line x1="102" y1="327" x2="90" y2="335" stroke="#7ce066" stroke-width="12"/>
<line x1="532" y1="63" x2="525" y2="35" stroke="#c03a48" stroke-width="12"/>
<line x1="472" y1="706" x2="469" y2="733" stroke="#c83c3c" stroke-width="9"/>
<line x1="499" y1="422" x2="522" y2="421" stroke="#3b5ff0" stroke-width="10"/>
<line x1="575" y1="294" x2="588" y2="280" stroke="#c04040" stroke-width="11"/>
<line x1="764" y1="415" x2="779" y2="433" stroke="#48c0c8" stroke-width="9"/>
<line x1="501" y1="304" x2="524" y2="329" stroke="#3a58e8" stroke-width="11"/>
<line x1="218" y1="696" x2="226" y2="722" stroke="#7ce066" stroke-width="11"/>
<line x1="184" y1="662" x2="207" y2="677" stroke="#b83a3a" stroke-width="9"/>
<line x1="63" y1="358" x2="82" y2="366" stroke="#7ce066" stroke-width="7"/>
<line x1="364" y1="612" x2="379" y2="624" stroke="#c84a4a" stroke-width="7"/>
<line x1="574" y1="194" x2="575" y2="179" stroke="#6ad86a" stroke-width="8"/>
<line x1="380" y1="466" x2="394" y2="485" stroke="#60d8a0" stroke-width="9"/>
<line x1="845" y1="98" x2="856" y2="74" stroke="#7ce066" stroke-width="8"/>
<line x1="595" y1="317" x2="578" y2="323" stroke="#7ce066" stroke-width="12"/>
<line x1="150" y1="407" x2="124" y2="415" stroke="#7ce066" stroke-width="12"/>
<line x1="807" y1="89" x2="817" y2="68" stroke="#3a50e8" stroke-width="12"/>
<line x1="699" y1="563" x2="699" y2="582" stroke="#c04040" stroke-width="9"/>
<line x1="526" y1="270" x2="534" y2="250" stroke="#c04040" stroke-width="12"/>
<line x1="407" y1="595" x2="431" y2="602" stroke="#60d8a0" stroke-width="8"/>
<line x1="286" y1="423" x2="274" y2="435" stroke="#8a3ab0" stroke-width="11"/>
<line x1="93" y1="148" x2="64" y2="142" stroke="#b03040" stroke-width="9"/>
<line x1="184" y1="539" x2="200" y2="564" stroke="#50c8b0" stroke-width="12"/>
<line x1="794" y1="223" x2="824" y2="209" stroke="#6ad86a" stroke-width="11"/>
<line x1="295" y1="619" x2="313" y2="620" stroke="#7ce066" stroke-width="9"/>
<line x1="646" y1="706" x2="666" y2="698" stroke="#b85a3a" stroke-width="11"/>
<line x1="340" y1="138" x2="327" y2="120" stroke="#b03040" stroke-width="10"/>
<line x1="333" y1="326" x2="312" y2="351" stroke="#3a58e8" stroke-width="10"/>
<line x1="680" y1="316" x2="682" y2="341" stroke="#c04040" stroke-width="9"/>
<line x1="769" y1="603" x2="798" y2="599" stroke="#a0d860" stroke-width="11"/>
<line x1="768" y1="547" x2="772" y2="563" stroke="#7ce066" stroke-width="12"/>
<line x1="702" y1="734" x2="727" y2="744" stroke="#70d060" stroke-width="11"/>
<line x1="512" y1="487" x2="526" y2="516" stroke="#6cd87a" stroke-width="9"/>
<line x1="497" y1="731" x2="519" y2="725" stroke="#b85a3a" stroke-width="7"/>
<line x1="427" y1="539" x2="423" y2="555" stroke="#c84a4a" stroke-width="8"/>
<line x1="837" y1="200" x2="863" y2="184" stroke="#3a50e8" stroke-width="7"/>
<line x1="433" y1="728" x2="415" y2="730" stroke="#c83c3c" stroke-width="11"/>
<line x1="304" y1="353" x2="310" y2="372" stroke="#8a3ab0" stroke-width="9"/>
<line x1="482" y1="156" x2="475" y2="136" stroke="#3a50e8" stroke-width="11"/>
<line x1="437" y1="192" x2="439" y2="173" stroke="#7ce066" stroke-width="10"/>
<line x1="898" y1="167" x2="913" y2="154" stroke="#3a50e8" stroke-width="11"/>
<line x1="423" y1="261" x2="412" y2="239" stroke="#8a3ab0" stroke-width="9"/>
<line x1="350" y1="716" x2="341" y2="735" stroke="#8a40b0" stroke-width="7"/>
<line x1="87" y1="484" x2="91" y2="505" stroke="#8ae060" stroke-width="10"/>
<line x1="365" y1="676" x2="384" y2="683" stroke="#c04040" stroke-width="10"/>
<line x1="161" y1="132" x2="148" y2="117" stroke="#c03a48" stroke-width="12"/>
<line x1="637" y1="698" x2="651" y2="697" stroke="#b85a3a" stroke-width="7"/>
<line x1="723" y1="614" x2="741" y2="615" stroke="#a0d860" stroke-width="7"/>
<line x1="375" y1="486" x2="391" y2="494" stroke="#4a90e0" stroke-width="8"/>
<line x1="310" y1="516" x2="290" y2="524" stroke="#80ea6a" stroke-width="12"/>
<line x1="524" y1="501" x2="530" y2="526" stroke="#c84a4a" stroke-width="12"/>
<line x1="798" y1="407" x2="814" y2="422" stroke="#3a58e8" stroke-width="9"/>
<line x1="904" y1="575" x2="924" y2="575" stroke="#70d060" stroke-width="9"/>
<line x1="340" y1="558" x2="331" y2="580" stroke="#c84a4a" stroke-width="12"/>
<line x1="406" y1="150" x2="393" y2="125" stroke="#3a50e8" stroke-width="12"/>
<line x1="862" y1="62" x2="875" y2="48" stroke="#7ce066" stroke-width="9"/>
<line x1="268" y1="472" x2="300" y2="477" stroke="#c03030" stroke-width="12"/>
<line x1="869" y1="66" x2="885" y2="54" stroke="#8a3ab0" stroke-width="10"/>
<line x1="626" y1="604" x2="651" y2="603" stroke="#7ad870" stroke-width="9"/>
<line x1="250" y1="645" x2="243" y2="673" stroke="#c03030" stroke-width="7"/>
<line x1="86" y1="611" x2="115" y2="611" stroke="#c03030" stroke-width="11"/>
<line x1="352" y1="61" x2="345" y2="30" stroke="#b03040" stroke-width="7"/>
<line x1="802" y1="180" x2="817" y2="163" stroke="#c03a48" stroke-width="11"/>
<line x1="901" y1="411" x2="928" y2="411" stroke="#7ce066" stroke-width="9"/>
<line x1="807" y1="209" x2="823" y2="205" stroke="#3a50e8" stroke-width="9"/>
<line x1="49" y1="321" x2="25" y2="339" stroke="#c83a3a" stroke-width="11"/>
<line x1="144" y1="154" x2="125" y2="145" stroke="#7ce066" stroke-width="9"/>
<line x1="378" y1="600" x2="386" y2="623" stroke="#60d8a0" stroke-width="11"/>
<line x1="165" y1="372" x2="143" y2="378" stroke="#7ce066" stroke-width="9"/>
<line x1="446" y1="143" x2="431" y2="122" stroke="#3a50e8" stroke-width="12"/>
<line x1="393" y1="272" x2="386" y2="251" stroke="#c04040" stroke-width="11"/>
<line x1="594" y1="168" x2="600" y2="151" stroke="#3a50e8" stroke-width="9"/>
<line x1="861" y1="716" x2="875" y2="721" stroke="#a0d860" stroke-width="10"/>
<line x1="358" y1="314" x2="362" y2="341" stroke="#3a58e8" stroke-width="10"/>
<line x1="555" y1="89" x2="568" y2="59" stroke="#7ce066" stroke-width="12"/>
<line x1="714" y1="736" x2="732" y2="744" stroke="#b85a3a" stroke-width="8"/>
<line x1="459" y1="413" x2="473" y2="413" stroke="#4a7cf0" stroke-width="12"/>
<line x1="65" y1="670" x2="53" y2="680" stroke="#8ae060" stroke-width="7"/>
<line x1="806" y1="491" x2="794" y2="512" stroke="#3a58e8" stroke-width="9"/>
<line x1="384" y1="511" x2="411" y2="521" stroke="#80ea6a" stroke-width="9"/>
<line x1="850" y1="74" x2="863" y2="59" stroke="#3a50e8" stroke-width="12"/>
<line x1="357" y1="84" x2="350" y2="65" stroke="#c03a48" stroke-width="9"/>
<line x1="127" y1="586" x2="145" y2="599" stroke="#7ce066" stroke-width="7"/>
<line x1="572" y1="539" x2="565" y2="559" stroke="#80ea6a" stroke-width="11"/>
<line x1="250" y1="637" x2="232" y2="644" stroke="#7ce066" stroke-width="11"/>
<line x1="143" y1="337" x2="126" y2="352" stroke="#7ce066" stroke-width="12"/>
<line x1="573" y1="546" x2="558" y2="558" stroke="#c84a4a" stroke-width="7"/>
<line x1="440" y1="192" x2="430" y2="181" stroke="#6ad86a" stroke-width="11"/>
<line x1="448" y1="608" x2="478" y2="622" stroke="#6cd87a" stroke-width="8"/>
<line x1="889" y1="387" x2="913" y2="389" stroke="#3a58e8" stroke-width="7"/>
<line x1="892" y1="390" x2="903" y2="400" stroke="#7ce066" stroke-width="11"/>
<line x1="232" y1="492" x2="217" y2="514" stroke="#c03030" stroke-width="10"/>
<line x1="95" y1="282" x2="74" y2="263" stroke="#b83a3a" stroke-width="11"/>
<line x1="72" y1="64" x2="60" y2="55" stroke="#3a50e8" stroke-width="11"/>
<line x1="348" y1="273" x2="330" y2="259" stroke="#3a58e8" stroke-width="11"/>
<line x1="228" y1="508" x2="240" y2="527" stroke="#7ce066" stroke-width="12"/>
<line x1="851" y1="704" x2="883" y2="711" stroke="#8ee462" stroke-width="12"/>
<line x1="753" y1="597" x2="770" y2="592" stroke="#8ee462" stroke-width="8"/>
<line x1="528" y1="164" x2="532" y2="133" stroke="#3a50e8" stroke-width="10"/>
<line x1="224" y1="714" x2="202" y2="726" stroke="#8ae060" stroke-width="7"/>
<line x1="184" y1="578" x2="169" y2="584" stroke="#8ae060" stroke-width="12"/>
<line x1="847" y1="666" x2="880" y2="661" stroke="#8ee462" stroke-width="8"/>
<line x1="551" y1="425" x2="566" y2="423" stroke="#3b5ff0" stroke-width="8"/>
<line x1="851" y1="372" x2="869" y2="390" stroke="#7ce066" stroke-width="7"/>
<line x1="438" y1="74" x2="442" y2="58" stroke="#c83838" stroke-width="8"/>
<line x1="411" y1="628" x2="430" y2="631" stroke="#80ea6a" stroke-width="9"/>
<line x1="909" y1="600" x2="924" y2="606" stroke="#b85a3a" stroke-width="9"/>
<line x1="587" y1="81" x2="587" y2="63" stroke="#7ce066" stroke-width="8"/>
<line x1="854" y1="326" x2="854" y2="345" stroke="#48c0c8" stroke-width="10"/>
<line x1="351" y1="383" x2="355" y2="401" stroke="#c83c3c" stroke-width="11"/>
<line x1="187" y1="497" x2="210" y2="507" stroke="#8ae060" stroke-width="7"/>
<line x1="519" y1="565" x2="508" y2="589" stroke="#80ea6a" stroke-width="7"/>
<line x1="403" y1="123" x2="403" y2="90" stroke="#7ce066" stroke-width="8"/>
<line x1="480" y1="271" x2="477" y2="242" stroke="#c04040" stroke-width="7"/>
<line x1="551" y1="105" x2="548" y2="80" stroke="#b03040" stroke-width="9"/>
<line x1="730" y1="138" x2="742" y2="120" stroke="#7ce066" stroke-width="8"/>
<line x1="363" y1="365" x2="361" y2="391" stroke="#7ce066" stroke-width="9"/>
<line x1="600" y1="446" x2="578" y2="452" stroke="#4a90e0" stroke-width="11"/>
<line x1="111" y1="493" x2="102" y2="525" stroke="#7ce066" stroke-width="9"/>
<line x1="250" y1="581" x2="228" y2="598" stroke="#7ce066" stroke-width="8"/>
<line x1="843" y1="439" x2="816" y2="453" stroke="#7ce066" stroke-width="11"/>
<line x1="609" y1="385" x2="629" y2="386" stroke="#3b5ff0" stroke-width="11"/>
<line x1="550" y1="108" x2="560" y2="95" stroke="#6ad86a" stroke-width="10"/>
<line x1="247" y1="438" x2="265" y2="444" stroke="#50c8b0" stroke-width="10"/>
<line x1="812" y1="549" x2="813" y2="570" stroke="#3a58e8" stroke-width="9"/>
<line x1="794" y1="595" x2="819" y2="608" stroke="#a0d860" stroke-width="12"/>
<line x1="615" y1="581" x2="639" y2="579" stroke="#8ee462" stroke-width="8"/>
<line x1="382" y1="289" x2="372" y2="276" stroke="#8a40b0" stroke-width="10"/>
<line x1="541" y1="706" x2="561" y2="706" stroke="#8ee462" stroke-width="12"/>
<line x1="555" y1="554" x2="554" y2="576" stroke="#80ea6a" stroke-width="11"/>
<line x1="418" y1="497" x2="404" y2="512" stroke="#6cd87a" stroke-width="7"/>
<line x1="573" y1="248" x2="574" y2="217" stroke="#6ad86a" stroke-width="8"/>
<line x1="122" y1="588" x2="141" y2="610" stroke="#7ce066" stroke-width="9"/>
<line x1="160" y1="284" x2="133" y2="281" stroke="#4a60e0" stroke-width="8"/>
<line x1="498" y1="113" x2="491" y2="86" stroke="#7ce066" stroke-width="12"/>
<line x1="336" y1="332" x2="352" y2="342" stroke="#8a40b0" stroke-width="9"/>
<line x1="141" y1="652" x2="136" y2="676" stroke="#c03030" stroke-width="12"/>
<line x1="48" y1="177" x2="16" y2="175" stroke="#3a50e8" stroke-width="9"/>
<line x1="582" y1="465" x2="549" y2="468" stroke="#80ea6a" stroke-width="9"/>
<line x1="854" y1="481" x2="867" y2="508" stroke="#3a58e8" stroke-width="11"/>
<line x1="746" y1="663" x2="764" y2="655" stroke="#70d060" stroke-width="11"/>
<line x1="578" y1="720" x2="598" y2="711" stroke="#7ad870" stroke-width="7"/>
<line x1="83" y1="281" x2="57" y2="282" stroke="#c03030" stroke-width="10"/>
<line x1="521" y1="394" x2="539" y2="396" stroke="#3b5ff0" stroke-width="8"/>
<line x1="374" y1="78" x2="368" y2="53" stroke="#7ce066" stroke-width="9"/>
<line x1="720" y1="393" x2="730" y2="425" stroke="#c04040" stroke-width="8"/>
<line x1="455" y1="628" x2="467" y2="651" stroke="#6cd87a" stroke-width="7"/>
<line x1="399" y1="176" x2="398" y2="155" stroke="#3a50e8" stroke-width="12"/>
<line x1="519" y1="649" x2="538" y2="650" stroke="#8ee462" stroke-width="9"/>
<line x1="628" y1="659" x2="659" y2="667" stroke="#8ee462" stroke-width="7"/>
<line x1="135" y1="361" x2="119" y2="387" stroke="#c03030" stroke-width="11"/>
<line x1="822" y1="60" x2="833" y2="34" stroke="#3a50e8" stroke-width="12"/>
<line x1="388" y1="494" x2="410" y2="511" stroke="#6cd87a" stroke-width="7"/>
<line x1="703" y1="677" x2="730" y2="669" stroke="#7ad870" stroke-width="11"/>
<line x1="778" y1="721" x2="807" y2="715" stroke="#7ad870" stroke-width="10"/>
<line x1="299" y1="549" x2="295" y2="573" stroke="#7ce066" stroke-width="10"/>
<line x1="343" y1="533" x2="311" y2="541" stroke="#c84a4a" stroke-width="9"/>
<line x1="757" y1="499" x2="763" y2="521" stroke="#8a40b0" stroke-width="10"/>
<line x1="270" y1="417" x2="284" y2="419" stroke="#8ae060" stroke-width="12"/>
<line x1="878" y1="545" x2="894" y2="549" stroke="#3a58e8" stroke-width="10"/>
<line x1="556" y1="576" x2="571" y2="575" stroke="#70d060" stroke-width="12"/>
<line x1="192" y1="653" x2="173" y2="658" stroke="#c04040" stroke-width="11"/>
<line x1="45" y1="295" x2="12" y2="296" stroke="#50c8b0" stroke-width="9"/>
<line x1="325" y1="417" x2="354" y2="424" stroke="#b83a3a" stroke-width="10"/>
<line x1="301" y1="249" x2="284" y2="236" stroke="#b03040" stroke-width="7"/>
<line x1="252" y1="244" x2="240" y2="235" stroke="#c03a48" stroke-width="10"/>
<line x1="205" y1="188" x2="181" y2="183" stroke="#7ce066" stroke-width="9"/>
<line x1="295" y1="707" x2="309" y2="727" stroke="#8ae060" stroke-width="8"/>
<line x1="595" y1="704" x2="609" y2="697" stroke="#8ee462" stroke-width="8"/>
<line x1="130" y1="310" x2="126" y2="339" stroke="#50c8b0" stroke-width="11"/>
<line x1="194" y1="608" x2="209" y2="629" stroke="#7ce066" stroke-width="9"/>
<line x1="144" y1="160" x2="123" y2="133" stroke="#c83838" stroke-width="9"/>
<line x1="803" y1="517" x2="790" y2="547" stroke="#7ce066" stroke-width="11"/>
<line x1="522" y1="134" x2="519" y2="109" stroke="#7ce066" stroke-width="11"/>
<line x1="100" y1="707" x2="127" y2="725" stroke="#50c8b0" stroke-width="10"/>
<line x1="436" y1="308" x2="458" y2="309" stroke="#c04040" stroke-width="9"/>
<line x1="851" y1="412" x2="830" y2="423" stroke="#3a58e8" stroke-width="7"/>
<line x1="200" y1="388" x2="220" y2="396" stroke="#c83a3a" stroke-width="10"/>
<line x1="135" y1="51" x2="125" y2="33" stroke="#b03040" stroke-width="12"/>
<line x1="812" y1="624" x2="833" y2="634" stroke="#8ee462" stroke-width="9"/>
<line x1="736" y1="161" x2="758" y2="138" stroke="#8a3ab0" stroke-width="12"/>
<line x1="699" y1="148" x2="704" y2="130" stroke="#3a50e8" stroke-width="8"/>
<line x1="406" y1="297" x2="398" y2="266" stroke="#c04040" stroke-width="7"/>
<line x1="104" y1="569" x2="103" y2="590" stroke="#50c8b0" stroke-width="11"/>
<line x1="718" y1="223" x2="729" y2="211" stroke="#7ce066" stroke-width="8"/>
<line x1="245" y1="332" x2="262" y2="341" stroke="#7ce066" stroke-width="9"/>
<line x1="610" y1="141" x2="608" y2="115" stroke="#c83838" stroke-width="10"/>
<line x1="774" y1="186" x2="783" y2="173" stroke="#b03040" stroke-width="8"/>
<line x1="686" y1="538" x2="653" y2="542" stroke="#7ce066" stroke-width="10"/>
<line x1="376" y1="311" x2="394" y2="318" stroke="#3a58e8" stroke-width="10"/>
<line x1="434" y1="418" x2="458" y2="425" stroke="#3050e8" stroke-width="12"/>
<line x1="586" y1="304" x2="583" y2="333" stroke="#8a40b0" stroke-width="11"/>
<line x1="292" y1="654" x2="266" y2="666" stroke="#50c8b0" stroke-width="12"/>
<line x1="509" y1="182" x2="512" y2="150" stroke="#c83838" stroke-width="12"/>
<line x1="81" y1="532" x2="70" y2="544" stroke="#c04040" stroke-width="11"/>
<line x1="892" y1="343" x2="891" y2="362" stroke="#c83c3c" stroke-width="9"/>
<line x1="562" y1="168" x2="576" y2="151" stroke="#8a3ab0" stroke-width="8"/>
<line x1="774" y1="123" x2="790" y2="117" stroke="#6ad86a" stroke-width="12"/>
<line x1="425" y1="269" x2="402" y2="250" stroke="#3a50e8" stroke-width="12"/>
<line x1="290" y1="59" x2="272" y2="47" stroke="#7ce066" stroke-width="11"/>
<line x1="42" y1="362" x2="58" y2="392" stroke="#b83a3a" stroke-width="7"/>
<line x1="659" y1="78" x2="673" y2="50" stroke="#8a3ab0" stroke-width="12"/>
<line x1="159" y1="693" x2="165" y2="714" stroke="#8a3ab0" stroke-width="12"/>
<line x1="304" y1="296" x2="283" y2="288" stroke="#8ae060" stroke-width="12"/>
<line x1="815" y1="301" x2="797" y2="322" stroke="#8a40b0" stroke-width="12"/>
<line x1="196" y1="98" x2="174" y2="80" stroke="#7ce066" stroke-width="12"/>
<line x1="416" y1="273" x2="406" y2="261" stroke="#48c0c8" stroke-width="9"/>
<line x1="775" y1="295" x2="787" y2="286" stroke="#c04040" stroke-width="8"/>
<line x1="578" y1="93" x2="581" y2="63" stroke="#3a50e8" stroke-width="12"/>
<line x1="460" y1="743" x2="480" y2="761" stroke="#c04040" stroke-width="7"/>
<line x1="591" y1="739" x2="612" y2="742" stroke="#70d060" stroke-width="12"/>
<line x1="508" y1="514" x2="479" y2="517" stroke="#60d8a0" stroke-width="10"/>
<line x1="317" y1="655" x2="321" y2="669" stroke="#c83a3a" stroke-width="11"/>
<line x1="412" y1="695" x2="404" y2="726" stroke="#3a58e8" stroke-width="9"/>
<line x1="845" y1="268" x2="871" y2="266" stroke="#3a50e8" stroke-width="7"/>
<line x1="422" y1="703" x2="439" y2="710" stroke="#7ce066" stroke-width="8"/>
<line x1="440" y1="609" x2="471" y2="615" stroke="#4a90e0" stroke-width="7"/>
<line x1="236" y1="534" x2="235" y2="553" stroke="#b83a3a" stroke-width="7"/>
<line x1="537" y1="393" x2="560" y2="389" stroke="#5ad07a" stroke-width="7"/>
<line x1="62" y1="498" x2="86" y2="521" stroke="#c03030" stroke-width="7"/>
<line x1="481" y1="314" x2="497" y2="330" stroke="#c04040" stroke-width="9"/>
<line x1="603" y1="130" x2="600" y2="101" stroke="#7ce066" stroke-width="9"/>
<line x1="656" y1="500" x2="673" y2="503" stroke="#3a58e8" stroke-width="11"/>
<line x1="390" y1="336" x2="417" y2="347" stroke="#8a40b0" stroke-width="12"/>
<line x1="568" y1="435" x2="602" y2="429" stroke="#3b5ff0" stroke-width="8"/>
<line x1="783" y1="177" x2="811" y2="163" stroke="#40c0d0" stroke-width="11"/>
<line x1="785" y1="427" x2="770" y2="433" stroke="#c04040" stroke-width="12"/>
<line x1="748" y1="504" x2="779" y2="508" stroke="#7ce066" stroke-width="12"/>
<line x1="763" y1="734" x2="791" y2="723" stroke="#8ee462" stroke-width="7"/>
<line x1="810" y1="472" x2="811" y2="490" stroke="#8a40b0" stroke-width="8"/>
<line x1="748" y1="69" x2="759" y2="52" stroke="#3a50e8" stroke-width="10"/>
<line x1="906" y1="97" x2="932" y2="85" stroke="#3a50e8" stroke-width="8"/>
<line x1="247" y1="106" x2="237" y2="97" stroke="#8a3ab0" stroke-width="11"/>
<line x1="531" y1="365" x2="551" y2="366" stroke="#3b5ff0" stroke-width="7"/>
<line x1="305" y1="398" x2="310" y2="422" stroke="#b83a3a" stroke-width="7"/>
<line x1="568" y1="337" x2="590" y2="335" stroke="#3b5ff0" stroke-width="8"/>
<line x1="83" y1="498" x2="75" y2="515" stroke="#7ce066" stroke-width="12"/>
<line x1="626" y1="494" x2="611" y2="514" stroke="#80ea6a" stroke-width="11"/>
<line x1="464" y1="423" x2="490" y2="420" stroke="#5ad07a" stroke-width="7"/>
<line x1="579" y1="448" x2="597" y2="448" stroke="#c84a4a" stroke-width="11"/>
<line x1="903" y1="236" x2="920" y2="233" stroke="#8a3ab0" stroke-width="12"/>
<line x1="411" y1="77" x2="400" y2="65" stroke="#40c0d0" stroke-width="9"/>
<line x1="472" y1="148" x2="475" y2="127" stroke="#c83838" stroke-width="12"/>
<line x1="485" y1="714" x2="515" y2="712" stroke="#a0d860" stroke-width="8"/>
<line x1="842" y1="474" x2="870" y2="487" stroke="#7ce066" stroke-width="10"/>
<line x1="170" y1="601" x2="176" y2="629" stroke="#4a60e0" stroke-width="8"/>
<line x1="910" y1="642" x2="930" y2="638" stroke="#8ee462" stroke-width="12"/>
<line x1="717" y1="599" x2="743" y2="595" stroke="#a0d860" stroke-width="12"/>
<line x1="415" y1="230" x2="415" y2="215" stroke="#7ce066" stroke-width="11"/>
<line x1="142" y1="261" x2="122" y2="237" stroke="#7ce066" stroke-width="7"/>
<line x1="110" y1="409" x2="80" y2="418" stroke="#7ce066" stroke-width="7"/>
<line x1="266" y1="392" x2="287" y2="395" stroke="#b83a3a" stroke-width="8"/>
<line x1="269" y1="583" x2="250" y2="586" stroke="#c04040" stroke-width="12"/>
<line x1="800" y1="320" x2="774" y2="323" stroke="#c83c3c" stroke-width="11"/>
<line x1="780" y1="416" x2="795" y2="436" stroke="#c04040" stroke-width="7"/>
<line x1="525" y1="389" x2="547" y2="391" stroke="#3050e8" stroke-width="8"/>
<line x1="791" y1="192" x2="806" y2="177" stroke="#3a50e8" stroke-width="9"/>
<line x1="120" y1="376" x2="95" y2="377" stroke="#7ce066" stroke-width="9"/>
<line x1="75" y1="248" x2="61" y2="233" stroke="#c03a48" stroke-width="11"/>
<line x1="74" y1="498" x2="86" y2="516" stroke="#7ce066" stroke-width="12"/>
<line x1="577" y1="114" x2="581" y2="92" stroke="#8a3ab0" stroke-width="9"/>
<line x1="581" y1="648" x2="599" y2="651" stroke="#8ee462" stroke-width="11"/>
<line x1="661" y1="540" x2="685" y2="555" stroke="#7ce066" stroke-width="11"/>
<line x1="795" y1="209" x2="812" y2="186" stroke="#7ce066" stroke-width="7"/>
<line x1="368" y1="723" x2="396" y2="735" stroke="#3a58e8" stroke-width="8"/>
<line x1="63" y1="297" x2="35" y2="297" stroke="#7ce066" stroke-width="8"/>
<line x1="704" y1="88" x2="720" y2="63" stroke="#3a50e8" stroke-width="11"/>
<line x1="108" y1="194" x2="90" y2="193" stroke="#7ce066" stroke-width="8"/>
<line x1="223" y1="289" x2="207" y2="276" stroke="#7ce066" stroke-width="12"/>
<line x1="355" y1="334" x2="358" y2="352" stroke="#c04040" stroke-width="12"/>
<line x1="110" y1="554" x2="126" y2="575" stroke="#50c8b0" stroke-width="7"/>
<line x1="581" y1="745" x2="597" y2="737" stroke="#8ee462" stroke-width="10"/>
<line x1="663" y1="343" x2="696" y2="343" stroke="#4a7cf0" stroke-width="7"/>
<line x1="585" y1="221" x2="610" y2="199" stroke="#40c0d0" stroke-width="10"/>
<line x1="854" y1="172" x2="864" y2="153" stroke="#40c0d0" stroke-width="12"/>
<line x1="214" y1="270" x2="194" y2="265" stroke="#8a3ab0" stroke-width="8"/>
<line x1="286" y1="309" x2="268" y2="324" stroke="#7ce066" stroke-width="7"/>
<line x1="370" y1="436" x2="350" y2="443" stroke="#60d8a0" stroke-width="7"/>
<line x1="148" y1="524" x2="133" y2="527" stroke="#50c8b0" stroke-width="11"/>
<line x1="723" y1="317" x2="741" y2="323" stroke="#c83c3c" stroke-width="7"/>
<line x1="846" y1="440" x2="851" y2="472" stroke="#7ce066" stroke-width="8"/>
<line x1="240" y1="93" x2="222" y2="76" stroke="#40c0d0" stroke-width="8"/>
<line x1="606" y1="69" x2="602" y2="46" stroke="#6ad86a" stroke-width="8"/>
<line x1="401" y1="496" x2="398" y2="511" stroke="#80ea6a" stroke-width="7"/>
<line x1="836" y1="178" x2="862" y2="163" stroke="#c83838" stroke-width="11"/>
<line x1="543" y1="103" x2="535" y2="75" stroke="#7ce066" stroke-width="10"/>
<line x1="602" y1="319" x2="614" y2="333" stroke="#7ce066" stroke-width="9"/>
<line x1="446" y1="432" x2="474" y2="431" stroke="#3b5ff0" stroke-width="7"/>
<line x1="819" y1="187" x2="834" y2="174" stroke="#3a50e8" stroke-width="9"/>
<line x1="96" y1="51" x2="84" y2="39" stroke="#7ce066" stroke-width="9"/>
<line x1="536" y1="665" x2="555" y2="660" stroke="#8ee462" stroke-width="12"/>
<line x1="728" y1="632" x2="756" y2="645" stroke="#8ee462" stroke-width="11"/>
<line x1="822" y1="88" x2="850" y2="69" stroke="#3a50e8" stroke-width="8"/>
<line x1="214" y1="124" x2="202" y2="112" stroke="#c03a48" stroke-width="12"/>
<line x1="571" y1="261" x2="575" y2="244" stroke="#3a50e8" stroke-width="12"/>
<line x1="723" y1="424" x2="724" y2="443" stroke="#7ce066" stroke-width="7"/>
<line x1="772" y1="103" x2="795" y2="83" stroke="#7ce066" stroke-width="11"/>
<line x1="333" y1="211" x2="320" y2="188" stroke="#c03a48" stroke-width="10"/>
<line x1="327" y1="620" x2="358" y2="625" stroke="#4a90e0" stroke-width="9"/>
<line x1="217" y1="701" x2="230" y2="725" stroke="#8a3ab0" stroke-width="12"/>
<line x1="159" y1="292" x2="130" y2="292" stroke="#7ce066" stroke-width="8"/>
<line x1="44" y1="216" x2="30" y2="201" stroke="#c03a48" stroke-width="11"/>
<line x1="150" y1="164" x2="128" y2="148" stroke="#b03040" stroke-width="11"/>
<line x1="808" y1="742" x2="828" y2="750" stroke="#b85a3a" stroke-width="11"/>
<line x1="133" y1="270" x2="105" y2="255" stroke="#b03040" stroke-width="7"/>
<line x1="612" y1="538" x2="622" y2="561" stroke="#6cd87a" stroke-width="9"/>
<line x1="307" y1="622" x2="302" y2="641" stroke="#80ea6a" stroke-width="8"/>
<line x1="273" y1="732" x2="245" y2="735" stroke="#c03030" stroke-width="7"/>
<line x1="381" y1="482" x2="360" y2="488" stroke="#60d8a0" stroke-width="7"/>
<line x1="55" y1="539" x2="34" y2="565" stroke="#7ce066" stroke-width="9"/>
<line x1="47" y1="526" x2="16" y2="531" stroke="#b83a3a" stroke-width="7"/>
<line x1="770" y1="615" x2="802" y2="615" stroke="#8ee462" stroke-width="8"/>
<line x1="814" y1="437" x2="828" y2="466" stroke="#48c0c8" stroke-width="10"/>
<line x1="234" y1="576" x2="227" y2="607" stroke="#50c8b0" stroke-width="9"/>
<line x1="330" y1="237" x2="303" y2="217" stroke="#6ad86a" stroke-width="10"/>
<line x1="654" y1="252" x2="661" y2="230" stroke="#40c0d0" stroke-width="8"/>
<line x1="695" y1="651" x2="709" y2="646" stroke="#a0d860" stroke-width="12"/>
<line x1="828" y1="530" x2="816" y2="543" stroke="#7ce066" stroke-width="8"/>
<line x1="577" y1="323" x2="607" y2="327" stroke="#3a58e8" stroke-width="9"/>
<line x1="232" y1="216" x2="209" y2="196" stroke="#3a50e8" stroke-width="11"/>
<line x1="453" y1="363" x2="471" y2="366" stroke="#3b5ff0" stroke-width="11"/>
<line x1="756" y1="553" x2="774" y2="554" stroke="#7ce066" stroke-width="10"/>
<line x1="307" y1="468" x2="281" y2="478" stroke="#80ea6a" stroke-width="9"/>
<line x1="391" y1="738" x2="380" y2="761" stroke="#3a58e8" stroke-width="7"/>
<line x1="446" y1="101" x2="434" y2="83" stroke="#3a50e8" stroke-width="8"/>
<line x1="657" y1="508" x2="673" y2="521" stroke="#3a58e8" stroke-width="11"/>
<line x1="518" y1="558" x2="505" y2="563" stroke="#6cd87a" stroke-width="9"/>
<line x1="334" y1="139" x2="322" y2="121" stroke="#b03040" stroke-width="9"/>
<line x1="234" y1="318" x2="245" y2="339" stroke="#c03030" stroke-width="11"/>
<line x1="48" y1="189" x2="29" y2="174" stroke="#8a3ab0" stroke-width="9"/>
<line x1="709" y1="212" x2="740" y2="200" stroke="#7ce066" stroke-width="10"/>
<line x1="77" y1="673" x2="94" y2="679" stroke="#c03030" stroke-width="11"/>
<line x1="695" y1="602" x2="726" y2="595" stroke="#7ad870" stroke-width="11"/>
<line x1="356" y1="607" x2="361" y2="625" stroke="#4a90e0" stroke-width="12"/>
<line x1="743" y1="587" x2="775" y2="597" stroke="#7ad870" stroke-width="7"/>
<line x1="865" y1="351" x2="877" y2="368" stroke="#7ce066" stroke-width="10"/>
<line x1="344" y1="132" x2="334" y2="115" stroke="#c83838" stroke-width="9"/>
<line x1="561" y1="126" x2="553" y2="94" stroke="#7ce066" stroke-width="12"/>
<line x1="439" y1="118" x2="434" y2="103" stroke="#c03a48" stroke-width="9"/>
<line x1="560" y1="573" x2="576" y2="578" stroke="#7ad870" stroke-width="12"/>
<line x1="539" y1="720" x2="564" y2="708" stroke="#a0d860" stroke-width="7"/>
<line x1="245" y1="351" x2="220" y2="354" stroke="#8a3ab0" stroke-width="9"/>
<line x1="382" y1="392" x2="403" y2="397" stroke="#48c0c8" stroke-width="8"/>
<line x1="699" y1="685" x2="725" y2="698" stroke="#b85a3a" stroke-width="11"/>
<line x1="281" y1="521" x2="265" y2="535" stroke="#c83a3a" stroke-width="8"/>
<line x1="218" y1="525" x2="244" y2="535" stroke="#7ce066" stroke-width="11"/>
<line x1="362" y1="575" x2="352" y2="594" stroke="#80ea6a" stroke-width="12"/>
<line x1="743" y1="449" x2="767" y2="468" stroke="#3a58e8" stroke-width="12"/>
<line x1="452" y1="248" x2="447" y2="219" stroke="#6ad86a" stroke-width="12"/>
<line x1="190" y1="113" x2="176" y2="97" stroke="#40c0d0" stroke-width="7"/>
<line x1="732" y1="96" x2="745" y2="89" stroke="#c03a48" stroke-width="10"/>
<line x1="580" y1="604" x2="600" y2="596" stroke="#a0d860" stroke-width="9"/>
<line x1="507" y1="367" x2="537" y2="364" stroke="#3b5ff0" stroke-width="8"/>
<line x1="606" y1="480" x2="624" y2="487" stroke="#4a90e0" stroke-width="10"/>
<line x1="838" y1="356" x2="815" y2="369" stroke="#8a40b0" stroke-width="7"/>
<line x1="613" y1="610" x2="636" y2="610" stroke="#7ad870" stroke-width="12"/>
<line x1="157" y1="483" x2="126" y2="488" stroke="#c83a3a" stroke-width="10"/>
<line x1="879" y1="513" x2="859" y2="519" stroke="#8a40b0" stroke-width="10"/>
<line x1="504" y1="77" x2="510" y2="52" stroke="#6ad86a" stroke-width="11"/>
<line x1="714" y1="641" x2="728" y2="636" stroke="#7ad870" stroke-width="12"/>
<line x1="206" y1="733" x2="190" y2="763" stroke="#4a60e0" stroke-width="10"/>
<line x1="352" y1="222" x2="346" y2="207" stroke="#3a50e8" stroke-width="10"/>
<line x1="774" y1="615" x2="798" y2="624" stroke="#8ee462" stroke-width="7"/>
<line x1="264" y1="619" x2="279" y2="629" stroke="#c04040" stroke-width="9"/>
<line x1="250" y1="198" x2="243" y2="181" stroke="#7ce066" stroke-width="11"/>
<line x1="855" y1="107" x2="867" y2="85" stroke="#8a3ab0" stroke-width="8"/>
<line x1="473" y1="697" x2="461" y2="713" stroke="#8a40b0" stroke-width="7"/>
<line x1="498" y1="368" x2="516" y2="375" stroke="#4a7cf0" stroke-width="9"/>
<line x1="852" y1="534" x2="852" y2="562" stroke="#3a58e8" stroke-width="11"/>
<line x1="216" y1="178" x2="192" y2="166" stroke="#40c0d0" stroke-width="7"/>
<line x1="844" y1="710" x2="869" y2="716" stroke="#8ee462" stroke-width="9"/>
<line x1="593" y1="577" x2="620" y2="591" stroke="#70d060" stroke-width="12"/>
<line x1="363" y1="618" x2="334" y2="631" stroke="#80ea6a" stroke-width="12"/>
<line x1="776" y1="709" x2="793" y2="713" stroke="#8ee462" stroke-width="7"/>
<line x1="553" y1="216" x2="550" y2="186" stroke="#7ce066" stroke-width="8"/>
<line x1="673" y1="530" x2="653" y2="538" stroke="#8a40b0" stroke-width="9"/>
<line x1="565" y1="65" x2="579" y2="46" stroke="#40c0d0" stroke-width="11"/>
<line x1="863" y1="144" x2="892" y2="131" stroke="#b03040" stroke-width="10"/>
<line x1="422" y1="88" x2="419" y2="58" stroke="#c83838" stroke-width="12"/>
<line x1="646" y1="614" x2="670" y2="610" stroke="#70d060" stroke-width="9"/>
<line x1="396" y1="324" x2="389" y2="336" stroke="#3a58e8" stroke-width="7"/>
<line x1="803" y1="167" x2="821" y2="155" stroke="#b03040" stroke-width="8"/>
<line x1="248" y1="496" x2="267" y2="499" stroke="#b83a3a" stroke-width="11"/>
<line x1="101" y1="669" x2="83" y2="672" stroke="#8a3ab0" stroke-width="9"/>
<line x1="401" y1="739" x2="374" y2="750" stroke="#7ce066" stroke-width="12"/>
<line x1="67" y1="599" x2="79" y2="630" stroke="#7ce066" stroke-width="8"/>
<line x1="153" y1="470" x2="154" y2="487" stroke="#c83a3a" stroke-width="9"/>
<line x1="386" y1="596" x2="380" y2="623" stroke="#80ea6a" stroke-width="11"/>
<line x1="743" y1="329" x2="740" y2="352" stroke="#c04040" stroke-width="9"/>
<line x1="852" y1="429" x2="864" y2="447" stroke="#7ce066" stroke-width="11"/>
<line x1="735" y1="621" x2="752" y2="616" stroke="#70d060" stroke-width="8"/>
<line x1="76" y1="323" x2="95" y2="332" stroke="#7ce066" stroke-width="8"/>
<line x1="726" y1="739" x2="758" y2="749" stroke="#8ee462" stroke-width="10"/>
<line x1="695" y1="311" x2="712" y2="340" stroke="#8a40b0" stroke-width="7"/>
<line x1="565" y1="498" x2="567" y2="519" stroke="#80ea6a" stroke-width="10"/>
<line x1="867" y1="231" x2="892" y2="218" stroke="#8a3ab0" stroke-width="11"/>
<line x1="148" y1="601" x2="130" y2="601" stroke="#4a60e0" stroke-width="8"/>
<line x1="198" y1="324" x2="194" y2="356" stroke="#7ce066" stroke-width="8"/>
<line x1="285" y1="681" x2="315" y2="694" stroke="#7ce066" stroke-width="8"/>
<line x1="513" y1="597" x2="532" y2="597" stroke="#8ee462" stroke-width="8"/>
<line x1="687" y1="516" x2="700" y2="525" stroke="#48c0c8" stroke-width="12"/>
<line x1="440" y1="687" x2="431" y2="699" stroke="#3a58e8" stroke-width="8"/>
<line x1="233" y1="91" x2="218" y2="62" stroke="#40c0d0" stroke-width="8"/>
<line x1="291" y1="129" x2="274" y2="116" stroke="#c03a48" stroke-width="7"/>
<line x1="544" y1="338" x2="571" y2="328" stroke="#3050e8" stroke-width="7"/>
<line x1="384" y1="659" x2="402" y2="683" stroke="#7ce066" stroke-width="8"/>
<line x1="865" y1="118" x2="897" y2="107" stroke="#40c0d0" stroke-width="12"/>
<line x1="537" y1="500" x2="519" y2="509" stroke="#80ea6a" stroke-width="8"/>
<line x1="410" y1="63" x2="408" y2="31" stroke="#b03040" stroke-width="7"/>
<line x1="393" y1="432" x2="366" y2="434" stroke="#60d8a0" stroke-width="10"/>
<line x1="57" y1="504" x2="30" y2="506" stroke="#7ce066" stroke-width="9"/>
<line x1="536" y1="732" x2="556" y2="731" stroke="#b85a3a" stroke-width="12"/>
<line x1="424" y1="174" x2="413" y2="145" stroke="#c83838" stroke-width="12"/>
<line x1="634" y1="737" x2="666" y2="731" stroke="#8ee462" stroke-width="7"/>
<line x1="737" y1="294" x2="752" y2="290" stroke="#c04040" stroke-width="9"/>
<line x1="347" y1="435" x2="359" y2="452" stroke="#80ea6a" stroke-width="7"/>
<line x1="817" y1="375" x2="839" y2="400" stroke="#3a58e8" stroke-width="7"/>
<line x1="656" y1="579" x2="682" y2="566" stroke="#8ee462" stroke-width="9"/>
<line x1="140" y1="136" x2="121" y2="127" stroke="#3a50e8" stroke-width="10"/>
<line x1="235" y1="228" x2="212" y2="215" stroke="#3a50e8" stroke-width="7"/>
<line x1="836" y1="558" x2="843" y2="591" stroke="#7ce066" stroke-width="8"/>
<line x1="590" y1="653" x2="620" y2="663" stroke="#8ee462" stroke-width="10"/>
<line x1="153" y1="530" x2="136" y2="534" stroke="#8ae060" stroke-width="10"/>
<line x1="688" y1="383" x2="720" y2="389" stroke="#3b5ff0" stroke-width="11"/>
<line x1="255" y1="184" x2="246" y2="163" stroke="#3a50e8" stroke-width="11"/>
<line x1="307" y1="701" x2="283" y2="724" stroke="#b83a3a" stroke-width="7"/>
<line x1="368" y1="445" x2="352" y2="460" stroke="#80ea6a" stroke-width="10"/>
<line x1="170" y1="433" x2="184" y2="450" stroke="#7ce066" stroke-width="11"/>
<line x1="95" y1="443" x2="94" y2="462" stroke="#7ce066" stroke-width="9"/>
<line x1="167" y1="591" x2="145" y2="597" stroke="#50c8b0" stroke-width="7"/>
<line x1="692" y1="540" x2="721" y2="545" stroke="#7ce066" stroke-width="9"/>
<line x1="187" y1="116" x2="167" y2="95" stroke="#3a50e8" stroke-width="9"/>
<line x1="476" y1="720" x2="476" y2="737" stroke="#7ce066" stroke-width="7"/>
<line x1="722" y1="334" x2="721" y2="353" stroke="#7ce066" stroke-width="11"/>
<line x1="682" y1="244" x2="693" y2="234" stroke="#c83838" stroke-width="7"/>
<line x1="465" y1="234" x2="451" y2="211" stroke="#7ce066" stroke-width="12"/>
<line x1="800" y1="551" x2="778" y2="553" stroke="#3a58e8" stroke-width="9"/>
<line x1="492" y1="284" x2="493" y2="260" stroke="#7ce066" stroke-width="9"/>
<line x1="236" y1="167" x2="216" y2="146" stroke="#3a50e8" stroke-width="10"/>
<line x1="516" y1="386" x2="536" y2="381" stroke="#3b5ff0" stroke-width="10"/>
<line x1="739" y1="439" x2="723" y2="442" stroke="#7ce066" stroke-width="11"/>
<line x1="732" y1="236" x2="750" y2="216" stroke="#c83838" stroke-width="11"/>
<line x1="822" y1="239" x2="837" y2="230" stroke="#8a3ab0" stroke-width="9"/>
<line x1="769" y1="400" x2="751" y2="408" stroke="#48c0c8" stroke-width="8"/>
<line x1="342" y1="465" x2="338" y2="485" stroke="#80ea6a" stroke-width="8"/>
<line x1="869" y1="701" x2="900" y2="702" stroke="#a0d860" stroke-width="9"/>
<line x1="311" y1="454" x2="334" y2="476" stroke="#4a90e0" stroke-width="7"/>
<line x1="680" y1="747" x2="699" y2="755" stroke="#8ee462" stroke-width="11"/>
<line x1="374" y1="155" x2="364" y2="138" stroke="#3a50e8" stroke-width="7"/>
<line x1="335" y1="343" x2="337" y2="367" stroke="#7ce066" stroke-width="7"/>
<line x1="341" y1="536" x2="348" y2="555" stroke="#60d8a0" stroke-width="10"/>
<line x1="858" y1="205" x2="873" y2="188" stroke="#40c0d0" stroke-width="9"/>
<line x1="690" y1="228" x2="705" y2="205" stroke="#3a50e8" stroke-width="11"/>
<line x1="886" y1="408" x2="873" y2="414" stroke="#3a58e8" stroke-width="12"/>
<line x1="278" y1="150" x2="268" y2="121" stroke="#7ce066" stroke-width="11"/>
<line x1="411" y1="626" x2="426" y2="638" stroke="#80ea6a" stroke-width="12"/>
<line x1="329" y1="664" x2="348" y2="669" stroke="#c04040" stroke-width="8"/>
<line x1="301" y1="510" x2="287" y2="530" stroke="#80ea6a" stroke-width="8"/>
<line x1="853" y1="644" x2="879" y2="652" stroke="#a0d860" stroke-width="11"/>
<line x1="701" y1="426" x2="673" y2="437" stroke="#c83c3c" stroke-width="12"/>
<line x1="520" y1="96" x2="512" y2="64" stroke="#40c0d0" stroke-width="10"/>
<line x1="633" y1="90" x2="648" y2="69" stroke="#c83838" stroke-width="9"/>
<line x1="508" y1="620" x2="527" y2="614" stroke="#7ad870" stroke-width="11"/>
<line x1="629" y1="360" x2="661" y2="354" stroke="#4a7cf0" stroke-width="10"/>
<line x1="880" y1="727" x2="908" y2="723" stroke="#7ad870" stroke-width="12"/>
<line x1="154" y1="429" x2="161" y2="444" stroke="#4a60e0" stroke-width="11"/>
<line x1="909" y1="360" x2="933" y2="367" stroke="#7ce066" stroke-width="10"/>
<line x1="414" y1="126" x2="410" y2="106" stroke="#6ad86a" stroke-width="11"/>
<line x1="227" y1="225" x2="207" y2="202" stroke="#8a3ab0" stroke-width="7"/>
<line x1="139" y1="444" x2="149" y2="458" stroke="#50c8b0" stroke-width="11"/>
<line x1="170" y1="715" x2="181" y2="745" stroke="#c83a3a" stroke-width="11"/>
<line x1="523" y1="140" x2="520" y2="114" stroke="#3a50e8" stroke-width="12"/>
<line x1="894" y1="380" x2="914" y2="395" stroke="#48c0c8" stroke-width="7"/>
<line x1="828" y1="414" x2="826" y2="435" stroke="#3a58e8" stroke-width="12"/>
<line x1="407" y1="488" x2="423" y2="499" stroke="#4a90e0" stroke-width="9"/>
<line x1="548" y1="482" x2="575" y2="495" stroke="#c84a4a" stroke-width="8"/>
<line x1="541" y1="707" x2="559" y2="715" stroke="#70d060" stroke-width="10"/>
<line x1="704" y1="658" x2="726" y2="654" stroke="#7ad870" stroke-width="7"/>
<line x1="710" y1="433" x2="718" y2="456" stroke="#c04040" stroke-width="11"/>
<line x1="87" y1="74" x2="67" y2="59" stroke="#7ce066" stroke-width="10"/>
<line x1="626" y1="112" x2="627" y2="92" stroke="#3a50e8" stroke-width="8"/>
<line x1="206" y1="506" x2="192" y2="518" stroke="#50c8b0" stroke-width="11"/>
<line x1="767" y1="705" x2="790" y2="697" stroke="#70d060" stroke-width="10"/>
<line x1="776" y1="644" x2="800" y2="639" stroke="#a0d860" stroke-width="10"/>
<line x1="342" y1="599" x2="359" y2="605" stroke="#80ea6a" stroke-width="7"/>
<line x1="480" y1="369" x2="500" y2="364" stroke="#3b5ff0" stroke-width="7"/>
<line x1="690" y1="430" x2="715" y2="433" stroke="#5ad07a" stroke-width="12"/>
<line x1="706" y1="444" x2="711" y2="466" stroke="#c04040" stroke-width="8"/>
<line x1="719" y1="355" x2="701" y2="375" stroke="#48c0c8" stroke-width="7"/>
<line x1="118" y1="228" x2="92" y2="219" stroke="#8a3ab0" stroke-width="10"/>
<line x1="864" y1="630" x2="883" y2="626" stroke="#70d060" stroke-width="11"/>
<line x1="696" y1="677" x2="730" y2="673" stroke="#7ad870" stroke-width="8"/>
<line x1="323" y1="571" x2="336" y2="600" stroke="#80ea6a" stroke-width="9"/>
<line x1="611" y1="453" x2="620" y2="477" stroke="#c84a4a" stroke-width="8"/>
<line x1="144" y1="748" x2="145" y2="765" stroke="#8ae060" stroke-width="10"/>
<line x1="221" y1="412" x2="193" y2="427" stroke="#8ae060" stroke-width="9"/>
<line x1="90" y1="265" x2="66" y2="243" stroke="#7ce066" stroke-width="7"/>
<line x1="455" y1="381" x2="488" y2="389" stroke="#3b5ff0" stroke-width="7"/>
<line x1="635" y1="619" x2="657" y2="626" stroke="#8ee462" stroke-width="12"/>
<line x1="879" y1="351" x2="865" y2="373" stroke="#c83c3c" stroke-width="12"/>
<line x1="74" y1="389" x2="49" y2="395" stroke="#50c8b0" stroke-width="9"/>
<line x1="187" y1="62" x2="173" y2="43" stroke="#c83838" stroke-width="11"/>
<line x1="242" y1="158" x2="227" y2="144" stroke="#b03040" stroke-width="10"/>
<line x1="492" y1="330" x2="509" y2="346" stroke="#48c0c8" stroke-width="11"/>
<line x1="571" y1="554" x2="589" y2="560" stroke="#4a90e0" stroke-width="10"/>
<line x1="542" y1="660" x2="556" y2="654" stroke="#b85a3a" stroke-width="10"/>
<line x1="342" y1="423" x2="361" y2="436" stroke="#3a58e8" stroke-width="11"/>
<line x1="855" y1="225" x2="870" y2="219" stroke="#8a3ab0" stroke-width="8"/>
<line x1="611" y1="546" x2="624" y2="549" stroke="#6cd87a" stroke-width="9"/>
<line x1="444" y1="168" x2="445" y2="153" stroke="#6ad86a" stroke-width="7"/>
<line x1="766" y1="273" x2="795" y2="256" stroke="#7ce066" stroke-width="12"/>
<line x1="644" y1="471" x2="675" y2="474" stroke="#3a58e8" stroke-width="12"/>
<line x1="490" y1="186" x2="501" y2="158" stroke="#3a50e8" stroke-width="10"/>
<line x1="418" y1="213" x2="409" y2="192" stroke="#3a50e8" stroke-width="8"/>
<line x1="327" y1="112" x2="300" y2="93" stroke="#6ad86a" stroke-width="10"/>
<line x1="492" y1="75" x2="490" y2="60" stroke="#7ce066" stroke-width="12"/>
<line x1="886" y1="631" x2="909" y2="641" stroke="#a0d860" stroke-width="10"/>
<line x1="292" y1="188" x2="271" y2="181" stroke="#c83838" stroke-width="7"/>
<line x1="335" y1="161" x2="311" y2="140" stroke="#c83838" stroke-width="7"/>
<line x1="215" y1="94" x2="207" y2="82" stroke="#b03040" stroke-width="9"/>
<line x1="133" y1="467" x2="136" y2="491" stroke="#50c8b0" stroke-width="9"/>
<line x1="319" y1="240" x2="298" y2="223" stroke="#3a50e8" stroke-width="10"/>
<line x1="549" y1="536" x2="535" y2="542" stroke="#80ea6a" stroke-width="7"/>
<line x1="57" y1="546" x2="29" y2="560" stroke="#c83a3a" stroke-width="10"/>
<line x1="564" y1="289" x2="573" y2="264" stroke="#8a40b0" stroke-width="12"/>
<line x1="134" y1="125" x2="121" y2="102" stroke="#6ad86a" stroke-width="10"/>
<line x1="544" y1="638" x2="566" y2="643" stroke="#7ad870" stroke-width="9"/>
<line x1="293" y1="262" x2="272" y2="245" stroke="#3a50e8" stroke-width="9"/>
<line x1="895" y1="616" x2="917" y2="618" stroke="#7ad870" stroke-width="7"/>
<line x1="53" y1="128" x2="38" y2="115" stroke="#8a3ab0" stroke-width="8"/>
<line x1="114" y1="592" x2="91" y2="603" stroke="#7ce066" stroke-width="12"/>
<line x1="678" y1="560" x2="686" y2="576" stroke="#7ce066" stroke-width="12"/>
<line x1="277" y1="162" x2="270" y2="134" stroke="#b03040" stroke-width="11"/>
<line x1="326" y1="131" x2="316" y2="113" stroke="#c03a48" stroke-width="10"/>
<line x1="761" y1="527" x2="750" y2="540" stroke="#48c0c8" stroke-width="9"/>
<line x1="636" y1="438" x2="655" y2="438" stroke="#3b5ff0" stroke-width="7"/>
<line x1="476" y1="82" x2="461" y2="57" stroke="#c83838" stroke-width="8"/>
<line x1="359" y1="621" x2="380" y2="623" stroke="#c84a4a" stroke-width="7"/>
<line x1="480" y1="573" x2="458" y2="577" stroke="#80ea6a" stroke-width="12"/>
<line x1="760" y1="420" x2="735" y2="430" stroke="#48c0c8" stroke-width="7"/>
<line x1="61" y1="457" x2="64" y2="477" stroke="#c03030" stroke-width="7"/>
<line x1="747" y1="94" x2="751" y2="73" stroke="#c03a48" stroke-width="10"/>
<line x1="825" y1="497" x2="805" y2="500" stroke="#7ce066" stroke-width="8"/>
<line x1="591" y1="101" x2="603" y2="88" stroke="#6ad86a" stroke-width="7"/>
<line x1="567" y1="733" x2="584" y2="737" stroke="#8ee462" stroke-width="10"/>
<line x1="346" y1="238" x2="325" y2="226" stroke="#3a50e8" stroke-width="11"/>
<line x1="704" y1="687" x2="718" y2="691" stroke="#8ee462" stroke-width="12"/>
<line x1="333" y1="217" x2="326" y2="186" stroke="#7ce066" stroke-width="8"/>
<line x1="248" y1="123" x2="232" y2="116" stroke="#6ad86a" stroke-width="10"/>
<line x1="784" y1="266" x2="807" y2="253" stroke="#c03a48" stroke-width="12"/>
<line x1="771" y1="430" x2="750" y2="440" stroke="#7ce066" stroke-width="9"/>
<line x1="703" y1="711" x2="734" y2="705" stroke="#b85a3a" stroke-width="8"/>
<line x1="136" y1="127" x2="110" y2="107" stroke="#3a50e8" stroke-width="8"/>
<line x1="245" y1="550" x2="269" y2="555" stroke="#b83a3a" stroke-width="8"/>
<line x1="331" y1="655" x2="310" y2="666" stroke="#3a58e8" stroke-width="10"/>
<line x1="730" y1="674" x2="760" y2="671" stroke="#8ee462" stroke-width="8"/>
<line x1="253" y1="313" x2="244" y2="339" stroke="#b83a3a" stroke-width="8"/>
<line x1="515" y1="172" x2="510" y2="156" stroke="#7ce066" stroke-width="11"/>
<line x1="522" y1="229" x2="535" y2="206" stroke="#3a50e8" stroke-width="11"/>
<line x1="325" y1="184" x2="310" y2="170" stroke="#b03040" stroke-width="10"/>
<line x1="858" y1="141" x2="871" y2="126" stroke="#3a50e8" stroke-width="11"/>
<line x1="886" y1="440" x2="915" y2="453" stroke="#7ce066" stroke-width="10"/>
<line x1="737" y1="412" x2="754" y2="433" stroke="#c83c3c" stroke-width="8"/>
<line x1="366" y1="350" x2="345" y2="363" stroke="#8a40b0" stroke-width="12"/>
<line x1="694" y1="445" x2="664" y2="456" stroke="#3a58e8" stroke-width="11"/>
<line x1="279" y1="624" x2="274" y2="638" stroke="#c83a3a" stroke-width="11"/>
<line x1="170" y1="743" x2="161" y2="769" stroke="#7ce066" stroke-width="10"/>
<line x1="868" y1="657" x2="886" y2="666" stroke="#a0d860" stroke-width="10"/>
<line x1="479" y1="620" x2="503" y2="636" stroke="#80ea6a" stroke-width="9"/>
<line x1="873" y1="482" x2="881" y2="504" stroke="#7ce066" stroke-width="10"/>
<line x1="583" y1="334" x2="607" y2="335" stroke="#3050e8" stroke-width="9"/>
<line x1="585" y1="180" x2="593" y2="153" stroke="#8a3ab0" stroke-width="12"/>
<line x1="646" y1="268" x2="653" y2="244" stroke="#3a50e8" stroke-width="7"/>
<line x1="862" y1="160" x2="882" y2="158" stroke="#3a50e8" stroke-width="8"/>
<line x1="603" y1="226" x2="622" y2="201" stroke="#8a3ab0" stroke-width="8"/>
<line x1="354" y1="398" x2="327" y2="401" stroke="#7ce066" stroke-width="7"/>
<line x1="486" y1="596" x2="513" y2="592" stroke="#8ee462" stroke-width="12"/>
<line x1="774" y1="585" x2="799" y2="580" stroke="#a0d860" stroke-width="7"/>
<line x1="135" y1="364" x2="145" y2="385" stroke="#8a3ab0" stroke-width="9"/>
<line x1="884" y1="81" x2="895" y2="62" stroke="#3a50e8" stroke-width="10"/>
<line x1="900" y1="308" x2="874" y2="314" stroke="#c83c3c" stroke-width="7"/>
<line x1="539" y1="725" x2="571" y2="736" stroke="#7ad870" stroke-width="11"/>
<line x1="565" y1="699" x2="584" y2="701" stroke="#7ad870" stroke-width="11"/>
<line x1="905" y1="463" x2="883" y2="488" stroke="#7ce066" stroke-width="10"/>
<line x1="531" y1="140" x2="534" y2="122" stroke="#7ce066" stroke-width="7"/>
<line x1="801" y1="231" x2="833" y2="223" stroke="#8a3ab0" stroke-width="12"/>
<line x1="352" y1="196" x2="339" y2="184" stroke="#c83838" stroke-width="12"/>
<line x1="813" y1="145" x2="829" y2="140" stroke="#8a3ab0" stroke-width="12"/>
<line x1="331" y1="155" x2="322" y2="132" stroke="#7ce066" stroke-width="7"/>
<line x1="712" y1="664" x2="738" y2="661" stroke="#a0d860" stroke-width="9"/>
<line x1="576" y1="324" x2="584" y2="352" stroke="#48c0c8" stroke-width="9"/>
<line x1="482" y1="211" x2="478" y2="194" stroke="#7ce066" stroke-width="9"/>
<line x1="384" y1="615" x2="365" y2="620" stroke="#6cd87a" stroke-width="7"/>
<line x1="477" y1="526" x2="510" y2="531" stroke="#80ea6a" stroke-width="9"/>
<line x1="141" y1="628" x2="134" y2="651" stroke="#c04040" stroke-width="8"/>
<line x1="370" y1="549" x2="377" y2="578" stroke="#80ea6a" stroke-width="8"/>
<line x1="528" y1="741" x2="561" y2="741" stroke="#8ee462" stroke-width="10"/>
<line x1="774" y1="609" x2="801" y2="620" stroke="#b85a3a" stroke-width="10"/>
<line x1="442" y1="271" x2="428" y2="241" stroke="#7ce066" stroke-width="9"/>
<line x1="135" y1="659" x2="139" y2="673" stroke="#50c8b0" stroke-width="9"/>
<line x1="762" y1="692" x2="781" y2="684" stroke="#8ee462" stroke-width="9"/>
<line x1="488" y1="721" x2="512" y2="724" stroke="#70d060" stroke-width="9"/>
<line x1="163" y1="615" x2="158" y2="628" stroke="#7ce066" stroke-width="12"/>
<line x1="507" y1="630" x2="539" y2="631" stroke="#8ee462" stroke-width="12"/>
<line x1="863" y1="741" x2="881" y2="751" stroke="#a0d860" stroke-width="7"/>
<line x1="890" y1="502" x2="882" y2="514" stroke="#48c0c8" stroke-width="8"/>
<line x1="345" y1="395" x2="347" y2="427" stroke="#3a58e8" stroke-width="11"/>
<line x1="467" y1="106" x2="470" y2="73" stroke="#6ad86a" stroke-width="10"/>
<line x1="877" y1="697" x2="898" y2="697" stroke="#b85a3a" stroke-width="10"/>
<line x1="597" y1="221" x2="618" y2="204" stroke="#7ce066" stroke-width="12"/>
<line x1="909" y1="213" x2="928" y2="203" stroke="#c03a48" stroke-width="7"/>
<line x1="98" y1="119" x2="75" y2="110" stroke="#8a3ab0" stroke-width="11"/>
<line x1="710" y1="361" x2="701" y2="390" stroke="#7ce066" stroke-width="8"/>
<line x1="88" y1="230" x2="67" y2="216" stroke="#3a50e8" stroke-width="7"/>
<line x1="193" y1="449" x2="207" y2="459" stroke="#c04040" stroke-width="12"/>
<line x1="674" y1="222" x2="685" y2="213" stroke="#b03040" stroke-width="8"/>
<line x1="111" y1="315" x2="131" y2="318" stroke="#7ce066" stroke-width="11"/>
<line x1="799" y1="447" x2="786" y2="461" stroke="#3a58e8" stroke-width="11"/>
<line x1="690" y1="659" x2="719" y2="659" stroke="#8ee462" stroke-width="10"/>
<line x1="586" y1="660" x2="618" y2="653" stroke="#8ee462" stroke-width="12"/>
<line x1="432" y1="668" x2="433" y2="689" stroke="#7ce066" stroke-width="12"/>
<line x1="89" y1="364" x2="69" y2="375" stroke="#8a3ab0" stroke-width="9"/>
<line x1="808" y1="522" x2="791" y2="547" stroke="#7ce066" stroke-width="9"/>
<line x1="619" y1="74" x2="619" y2="45" stroke="#b03040" stroke-width="11"/>
<line x1="206" y1="402" x2="221" y2="407" stroke="#8ae060" stroke-width="9"/>
<line x1="52" y1="67" x2="40" y2="51" stroke="#b03040" stroke-width="11"/>
<line x1="341" y1="243" x2="320" y2="218" stroke="#7ce066" stroke-width="7"/>
<line x1="615" y1="96" x2="624" y2="73" stroke="#8a3ab0" stroke-width="7"/>
<line x1="711" y1="740" x2="732" y2="737" stroke="#8ee462" stroke-width="9"/>
<line x1="904" y1="491" x2="923" y2="514" stroke="#8a40b0" stroke-width="12"/>
<line x1="201" y1="274" x2="184" y2="261" stroke="#c03030" stroke-width="7"/>
<line x1="362" y1="357" x2="353" y2="388" stroke="#8a40b0" stroke-width="9"/>
<line x1="203" y1="138" x2="187" y2="119" stroke="#b03040" stroke-width="12"/>
<line x1="80" y1="277" x2="61" y2="276" stroke="#7ce066" stroke-width="8"/>
<line x1="235" y1="743" x2="220" y2="767" stroke="#4a60e0" stroke-width="11"/>
<line x1="326" y1="645" x2="303" y2="650" stroke="#7ce066" stroke-width="10"/>
<line x1="866" y1="259" x2="882" y2="238" stroke="#c83838" stroke-width="7"/>
<line x1="146" y1="396" x2="132" y2="398" stroke="#c83a3a" stroke-width="11"/>
<line x1="815" y1="117" x2="828" y2="105" stroke="#7ce066" stroke-width="8"/>
<line x1="771" y1="280" x2="790" y2="270" stroke="#7ce066" stroke-width="10"/>
<line x1="235" y1="349" x2="220" y2="368" stroke="#c03030" stroke-width="12"/>
<line x1="245" y1="209" x2="224" y2="196" stroke="#8a3ab0" stroke-width="11"/>
<line x1="83" y1="653" x2="98" y2="676" stroke="#7ce066" stroke-width="12"/>
<line x1="117" y1="177" x2="84" y2="171" stroke="#c03a48" stroke-width="7"/>
<line x1="652" y1="298" x2="667" y2="291" stroke="#8a40b0" stroke-width="8"/>
<line x1="656" y1="593" x2="674" y2="597" stroke="#8ee462" stroke-width="8"/>
<line x1="616" y1="446" x2="643" y2="455" stroke="#4a90e0" stroke-width="8"/>
<line x1="382" y1="715" x2="402" y2="722" stroke="#7ce066" stroke-width="11"/>
<line x1="278" y1="552" x2="305" y2="563" stroke="#c83a3a" stroke-width="12"/>
<line x1="161" y1="553" x2="178" y2="567" stroke="#4a60e0" stroke-width="7"/>
<line x1="493" y1="398" x2="513" y2="396" stroke="#3b5ff0" stroke-width="12"/>
<line x1="509" y1="352" x2="526" y2="353" stroke="#3b5ff0" stroke-width="9"/>
<line x1="494" y1="563" x2="470" y2="585" stroke="#60d8a0" stroke-width="10"/>
<line x1="357" y1="387" x2="361" y2="413" stroke="#7ce066" stroke-width="10"/>
<line x1="354" y1="443" x2="342" y2="456" stroke="#80ea6a" stroke-width="12"/>
<line x1="519" y1="474" x2="534" y2="482" stroke="#80ea6a" stroke-width="8"/>
<line x1="502" y1="155" x2="509" y2="123" stroke="#3a50e8" stroke-width="7"/>
<line x1="809" y1="563" x2="832" y2="575" stroke="#7ce066" stroke-width="8"/>
<line x1="290" y1="292" x2="278" y2="273" stroke="#8a3ab0" stroke-width="7"/>
<line x1="159" y1="666" x2="169" y2="682" stroke="#4a60e0" stroke-width="7"/>
<line x1="779" y1="148" x2="796" y2="127" stroke="#6ad86a" stroke-width="11"/>
<line x1="611" y1="714" x2="641" y2="704" stroke="#b85a3a" stroke-width="10"/>
<line x1="811" y1="171" x2="826" y2="142" stroke="#8a3ab0" stroke-width="8"/>
<line x1="859" y1="625" x2="880" y2="625" stroke="#b85a3a" stroke-width="8"/>
<line x1="734" y1="204" x2="752" y2="190" stroke="#c03a48" stroke-width="11"/>
<line x1="328" y1="746" x2="350" y2="770" stroke="#c03030" stroke-width="9"/>
<line x1="323" y1="512" x2="312" y2="532" stroke="#6cd87a" stroke-width="8"/>
<line x1="623" y1="151" x2="630" y2="119" stroke="#40c0d0" stroke-width="12"/>
<line x1="503" y1="717" x2="517" y2="713" stroke="#8ee462" stroke-width="8"/>
<line x1="611" y1="589" x2="634" y2="601" stroke="#8ee462" stroke-width="10"/>
<line x1="673" y1="74" x2="686" y2="64" stroke="#8a3ab0" stroke-width="10"/>
<line x1="166" y1="628" x2="142" y2="632" stroke="#7ce066" stroke-width="7"/>
<line x1="877" y1="399" x2="880" y2="418" stroke="#48c0c8" stroke-width="11"/>
<line x1="863" y1="390" x2="861" y2="409" stroke="#3a58e8" stroke-width="8"/>
<line x1="351" y1="489" x2="332" y2="505" stroke="#80ea6a" stroke-width="12"/>
<line x1="423" y1="588" x2="439" y2="607" stroke="#80ea6a" stroke-width="11"/>
<line x1="136" y1="321" x2="142" y2="341" stroke="#b83a3a" stroke-width="12"/>
<line x1="377" y1="124" x2="369" y2="110" stroke="#7ce066" stroke-width="12"/>
<line x1="128" y1="234" x2="114" y2="228" stroke="#c03a48" stroke-width="7"/>
<line x1="385" y1="281" x2="371" y2="262" stroke="#7ce066" stroke-width="7"/>
<line x1="530" y1="108" x2="539" y2="93" stroke="#c03a48" stroke-width="8"/>
<line x1="877" y1="395" x2="894" y2="399" stroke="#7ce066" stroke-width="7"/>
<line x1="527" y1="222" x2="534" y2="191" stroke="#7ce066" stroke-width="9"/>
<line x1="515" y1="92" x2="512" y2="70" stroke="#c83838" stroke-width="12"/>
<line x1="614" y1="351" x2="644" y2="359" stroke="#3050e8" stroke-width="7"/>
<line x1="687" y1="676" x2="708" y2="678" stroke="#8ee462" stroke-width="7"/>
<line x1="639" y1="244" x2="645" y2="229" stroke="#c03a48" stroke-width="7"/>
<line x1="218" y1="235" x2="195" y2="224" stroke="#3a50e8" stroke-width="7"/>
<line x1="170" y1="559" x2="156" y2="562" stroke="#8a3ab0" stroke-width="9"/>
<line x1="601" y1="296" x2="613" y2="288" stroke="#48c0c8" stroke-width="12"/>
<line x1="822" y1="738" x2="855" y2="735" stroke="#7ad870" stroke-width="7"/>
<line x1="497" y1="89" x2="498" y2="57" stroke="#8a3ab0" stroke-width="11"/>
<line x1="423" y1="738" x2="456" y2="739" stroke="#7ce066" stroke-width="7"/>
<line x1="193" y1="535" x2="211" y2="550" stroke="#7ce066" stroke-width="11"/>
<line x1="822" y1="179" x2="842" y2="158" stroke="#3a50e8" stroke-width="7"/>
<line x1="775" y1="301" x2="759" y2="306" stroke="#3a58e8" stroke-width="12"/>
<line x1="460" y1="59" x2="456" y2="45" stroke="#40c0d0" stroke-width="11"/>
<line x1="300" y1="503" x2="283" y2="504" stroke="#80ea6a" stroke-width="12"/>
<line x1="837" y1="444" x2="825" y2="459" stroke="#48c0c8" stroke-width="9"/>
<line x1="50" y1="704" x2="27" y2="729" stroke="#c83a3a" stroke-width="10"/>
<line x1="498" y1="711" x2="525" y2="709" stroke="#8ee462" stroke-width="12"/>
<line x1="890" y1="117" x2="908" y2="96" stroke="#3a50e8" stroke-width="12"/>
<line x1="280" y1="584" x2="276" y2="610" stroke="#7ce066" stroke-width="9"/>
<line x1="106" y1="387" x2="109" y2="414" stroke="#c83a3a" stroke-width="10"/>
<line x1="380" y1="403" x2="395" y2="416" stroke="#7ce066" stroke-width="12"/>
<line x1="266" y1="307" x2="288" y2="329" stroke="#4a60e0" stroke-width="8"/>
<line x1="145" y1="465" x2="173" y2="475" stroke="#7ce066" stroke-width="10"/>
<line x1="370" y1="674" x2="344" y2="696" stroke="#c04040" stroke-width="7"/>
<line x1="322" y1="538" x2="344" y2="539" stroke="#4a90e0" stroke-width="12"/>
<line x1="703" y1="425" x2="685" y2="448" stroke="#8a40b0" stroke-width="8"/>
<line x1="77" y1="366" x2="88" y2="381" stroke="#c04040" stroke-width="7"/>
<line x1="821" y1="376" x2="812" y2="395" stroke="#3a58e8" stroke-width="12"/>
<line x1="677" y1="62" x2="696" y2="35" stroke="#c83838" stroke-width="11"/>
<line x1="235" y1="150" x2="222" y2="139" stroke="#b03040" stroke-width="9"/>
<line x1="471" y1="683" x2="481" y2="710" stroke="#7ce066" stroke-width="8"/>
<line x1="194" y1="664" x2="224" y2="674" stroke="#c04040" stroke-width="12"/>
<line x1="736" y1="64" x2="749" y2="44" stroke="#7ce066" stroke-width="9"/>
<line x1="665" y1="628" x2="695" y2="638" stroke="#8ee462" stroke-width="9"/>
<line x1="738" y1="333" x2="752" y2="356" stroke="#8a40b0" stroke-width="11"/>
<line x1="732" y1="483" x2="720" y2="491" stroke="#3a58e8" stroke-width="12"/>
<line x1="692" y1="543" x2="696" y2="561" stroke="#7ce066" stroke-width="8"/>
<line x1="477" y1="509" x2="492" y2="515" stroke="#6cd87a" stroke-width="12"/>
<line x1="806" y1="195" x2="834" y2="190" stroke="#8a3ab0" stroke-width="12"/>
<line x1="905" y1="313" x2="877" y2="322" stroke="#7ce066" stroke-width="10"/>
<line x1="860" y1="63" x2="885" y2="52" stroke="#3a50e8" stroke-width="10"/>
<line x1="428" y1="327" x2="431" y2="343" stroke="#3a58e8" stroke-width="7"/>
<line x1="349" y1="333" x2="324" y2="353" stroke="#c83c3c" stroke-width="10"/>
<line x1="408" y1="104" x2="411" y2="87" stroke="#8a3ab0" stroke-width="11"/>
<line x1="305" y1="138" x2="294" y2="113" stroke="#c03a48" stroke-width="11"/>
<line x1="237" y1="206" x2="208" y2="192" stroke="#7ce066" stroke-width="12"/>
<line x1="881" y1="449" x2="908" y2="469" stroke="#c04040" stroke-width="11"/>
<line x1="545" y1="622" x2="563" y2="616" stroke="#b85a3a" stroke-width="8"/>
<line x1="107" y1="597" x2="93" y2="624" stroke="#7ce066" stroke-width="10"/>
</g></g>
<g filter="url(#dtiblur)" stroke-linecap="round" opacity="0.8">
<line x1="395" y1="84" x2="393" y2="69" stroke="#3a50e8" stroke-width="9"/>
<line x1="631" y1="705" x2="644" y2="718" stroke="#70d060" stroke-width="7"/>
<line x1="513" y1="652" x2="519" y2="669" stroke="#70d060" stroke-width="6"/>
<line x1="71" y1="339" x2="59" y2="335" stroke="#50c8b0" stroke-width="5"/>
<line x1="282" y1="130" x2="270" y2="118" stroke="#c83838" stroke-width="9"/>
<line x1="162" y1="226" x2="147" y2="221" stroke="#3a50e8" stroke-width="7"/>
<line x1="72" y1="338" x2="56" y2="336" stroke="#c83a3a" stroke-width="9"/>
<line x1="73" y1="470" x2="60" y2="477" stroke="#7ce066" stroke-width="6"/>
<line x1="781" y1="720" x2="790" y2="735" stroke="#8ee462" stroke-width="6"/>
<line x1="285" y1="586" x2="277" y2="597" stroke="#4a60e0" stroke-width="8"/>
<line x1="299" y1="121" x2="285" y2="110" stroke="#3a50e8" stroke-width="9"/>
<line x1="185" y1="510" x2="169" y2="516" stroke="#7ce066" stroke-width="6"/>
<line x1="602" y1="695" x2="603" y2="713" stroke="#70d060" stroke-width="8"/>
<line x1="245" y1="152" x2="238" y2="139" stroke="#3a50e8" stroke-width="6"/>
<line x1="66" y1="468" x2="47" y2="472" stroke="#b83a3a" stroke-width="6"/>
<line x1="756" y1="164" x2="770" y2="159" stroke="#7ce066" stroke-width="6"/>
<line x1="644" y1="100" x2="651" y2="89" stroke="#6ad86a" stroke-width="7"/>
<line x1="452" y1="606" x2="455" y2="622" stroke="#60d8a0" stroke-width="8"/>
<line x1="891" y1="432" x2="907" y2="437" stroke="#48c0c8" stroke-width="8"/>
<line x1="110" y1="488" x2="91" y2="490" stroke="#c03030" stroke-width="6"/>
<line x1="876" y1="475" x2="890" y2="480" stroke="#3a58e8" stroke-width="7"/>
<line x1="95" y1="480" x2="81" y2="485" stroke="#8a3ab0" stroke-width="5"/>
<line x1="783" y1="720" x2="795" y2="735" stroke="#7ad870" stroke-width="9"/>
<line x1="235" y1="547" x2="225" y2="554" stroke="#50c8b0" stroke-width="8"/>
<line x1="897" y1="394" x2="909" y2="398" stroke="#7ce066" stroke-width="9"/>
<line x1="838" y1="616" x2="850" y2="627" stroke="#70d060" stroke-width="6"/>
<line x1="63" y1="453" x2="48" y2="461" stroke="#4a60e0" stroke-width="5"/>
<line x1="891" y1="362" x2="904" y2="362" stroke="#c83c3c" stroke-width="6"/>
<line x1="867" y1="492" x2="882" y2="497" stroke="#c04040" stroke-width="8"/>
<line x1="533" y1="668" x2="542" y2="684" stroke="#8ee462" stroke-width="6"/>
<line x1="836" y1="619" x2="851" y2="621" stroke="#8ee462" stroke-width="8"/>
<line x1="119" y1="490" x2="107" y2="495" stroke="#c04040" stroke-width="8"/>
<line x1="398" y1="624" x2="393" y2="640" stroke="#6cd87a" stroke-width="9"/>
<line x1="200" y1="516" x2="187" y2="526" stroke="#7ce066" stroke-width="7"/>
<line x1="872" y1="482" x2="889" y2="487" stroke="#48c0c8" stroke-width="8"/>
<line x1="891" y1="360" x2="905" y2="352" stroke="#48c0c8" stroke-width="5"/>
<line x1="280" y1="584" x2="263" y2="590" stroke="#7ce066" stroke-width="5"/>
<line x1="859" y1="511" x2="875" y2="510" stroke="#48c0c8" stroke-width="9"/>
<line x1="197" y1="514" x2="182" y2="520" stroke="#7ce066" stroke-width="6"/>
<line x1="56" y1="398" x2="42" y2="403" stroke="#7ce066" stroke-width="6"/>
<line x1="498" y1="640" x2="498" y2="659" stroke="#8ee462" stroke-width="5"/>
<line x1="75" y1="325" x2="61" y2="321" stroke="#b83a3a" stroke-width="8"/>
<line x1="545" y1="674" x2="549" y2="690" stroke="#8ee462" stroke-width="6"/>
<line x1="761" y1="726" x2="773" y2="740" stroke="#70d060" stroke-width="9"/>
<line x1="808" y1="216" x2="822" y2="202" stroke="#b03040" stroke-width="5"/>
<line x1="732" y1="150" x2="742" y2="142" stroke="#6ad86a" stroke-width="8"/>
<line x1="64" y1="459" x2="47" y2="468" stroke="#7ce066" stroke-width="7"/>
<line x1="67" y1="357" x2="50" y2="357" stroke="#7ce066" stroke-width="9"/>
<line x1="351" y1="620" x2="345" y2="633" stroke="#6cd87a" stroke-width="6"/>
<line x1="445" y1="606" x2="443" y2="623" stroke="#80ea6a" stroke-width="6"/>
<line x1="414" y1="619" x2="409" y2="635" stroke="#4a90e0" stroke-width="8"/>
<line x1="66" y1="468" x2="48" y2="471" stroke="#7ce066" stroke-width="8"/>
<line x1="233" y1="163" x2="223" y2="153" stroke="#6ad86a" stroke-width="6"/>
<line x1="506" y1="66" x2="510" y2="48" stroke="#b03040" stroke-width="8"/>
<line x1="64" y1="462" x2="47" y2="457" stroke="#50c8b0" stroke-width="9"/>
<line x1="486" y1="630" x2="481" y2="648" stroke="#7ad870" stroke-width="8"/>
<line x1="337" y1="103" x2="327" y2="87" stroke="#3a50e8" stroke-width="5"/>
<line x1="696" y1="128" x2="710" y2="117" stroke="#b03040" stroke-width="7"/>
<line x1="119" y1="267" x2="101" y2="266" stroke="#c03a48" stroke-width="5"/>
<line x1="487" y1="633" x2="491" y2="650" stroke="#7ad870" stroke-width="5"/>
<line x1="57" y1="392" x2="39" y2="399" stroke="#7ce066" stroke-width="5"/>
<line x1="889" y1="348" x2="900" y2="343" stroke="#3a58e8" stroke-width="7"/>
<line x1="569" y1="69" x2="568" y2="54" stroke="#40c0d0" stroke-width="8"/>
<line x1="230" y1="543" x2="214" y2="546" stroke="#8a3ab0" stroke-width="9"/>
<line x1="174" y1="506" x2="163" y2="512" stroke="#c83a3a" stroke-width="5"/>
<line x1="539" y1="669" x2="539" y2="682" stroke="#8ee462" stroke-width="5"/>
<line x1="380" y1="623" x2="368" y2="638" stroke="#80ea6a" stroke-width="6"/>
<line x1="59" y1="387" x2="47" y2="389" stroke="#c04040" stroke-width="5"/>
<line x1="736" y1="152" x2="748" y2="146" stroke="#7ce066" stroke-width="9"/>
<line x1="258" y1="143" x2="246" y2="131" stroke="#b03040" stroke-width="8"/>
</g></g><g id="coilbrain1">
<path d="M100.0,420.0 C106.7,385.0 113.3,358.3 130.0,330.0 C146.7,301.7 171.7,276.7 200.0,250.0 C228.3,223.3 263.3,193.3 300.0,170.0 C336.7,146.7 380.0,124.2 420.0,110.0 C460.0,95.8 501.7,87.5 540.0,85.0 C578.3,82.5 613.3,84.2 650.0,95.0 C686.7,105.8 726.7,127.5 760.0,150.0 C793.3,172.5 825.0,201.7 850.0,230.0 C875.0,258.3 900.0,291.7 910.0,320.0 C920.0,348.3 916.7,378.3 910.0,400.0 C903.3,421.7 888.3,436.7 870.0,450.0 C851.7,463.3 818.3,468.3 800.0,480.0 C781.7,491.7 758.3,506.7 760.0,520.0 C761.7,533.3 801.7,543.3 810.0,560.0 C818.3,576.7 818.3,603.3 810.0,620.0 C801.7,636.7 781.7,650.0 760.0,660.0 C738.3,670.0 706.7,673.3 680.0,680.0 C653.3,686.7 630.0,695.0 600.0,700.0 C570.0,705.0 533.3,706.7 500.0,710.0 C466.7,713.3 430.0,720.0 400.0,720.0 C370.0,720.0 345.0,718.3 320.0,710.0 C295.0,701.7 270.0,685.0 250.0,670.0 C230.0,655.0 220.0,631.7 200.0,620.0 C180.0,608.3 148.3,613.3 130.0,600.0 C111.7,586.7 95.0,570.0 90.0,540.0 C85.0,510.0 93.3,455.0 100.0,420.0 Z" fill="url(#cbg1)"/>
<g clip-path="url(#cb1)">
<g filter="url(#cbf21)" opacity="0.85" fill="none" stroke-linecap="round"><path d="M460,440 Q486,425 512,410 T540,399" stroke="#98988f" stroke-width="19"/><path d="M509,484 Q496,458 474,437 T444,436" stroke="#a8a8a2" stroke-width="17"/><path d="M895,697 Q883,669 858,654 T829,663" stroke="#3a3a3a" stroke-width="13"/><path d="M138,205 Q162,224 186,241 T213,256" stroke="#98988f" stroke-width="17"/><path d="M281,271 Q304,252 331,239 T355,222" stroke="#3a3a3a" stroke-width="19"/><path d="M158,246 Q160,216 139,194 T121,171" stroke="#a8a8a2" stroke-width="16"/><path d="M178,269 Q205,256 235,253 T259,235" stroke="#a8a8a2" stroke-width="16"/><path d="M397,535 Q370,546 352,570 T327,587" stroke="#a4a49e" stroke-width="13"/><path d="M345,94 Q315,88 288,102 T259,104" stroke="#a8a8a2" stroke-width="13"/><path d="M471,394 Q446,377 421,360 T418,330" stroke="#98988f" stroke-width="16"/><path d="M617,158 Q602,184 597,214 T572,230" stroke="#3a3a3a" stroke-width="15"/><path d="M908,97 Q893,123 875,147 T853,167" stroke="#a8a8a2" stroke-width="14"/><path d="M264,249 Q259,219 244,193 T215,185" stroke="#a8a8a2" stroke-width="14"/><path d="M567,239 Q540,227 511,218 T499,190" stroke="#333333" stroke-width="19"/><path d="M561,635 Q587,650 596,678 T588,707" stroke="#98988f" stroke-width="18"/><path d="M245,554 Q263,530 293,527 T318,543" stroke="#3a3a3a" stroke-width="13"/><path d="M435,150 Q449,177 474,194 T491,219" stroke="#a4a49e" stroke-width="16"/><path d="M765,463 Q774,492 772,522 T791,545" stroke="#98988f" stroke-width="16"/><path d="M548,626 Q520,616 505,590 T480,574" stroke="#a8a8a2" stroke-width="13"/><path d="M310,368 Q340,361 367,349 T395,340" stroke="#98988f" stroke-width="13"/><path d="M386,650 Q416,655 442,670 T466,688" stroke="#98988f" stroke-width="17"/><path d="M118,96 Q148,90 172,108 T201,101" stroke="#a8a8a2" stroke-width="16"/><path d="M145,282 Q175,285 205,285 T234,278" stroke="#a8a8a2" stroke-width="18"/><path d="M694,167 Q720,152 729,123 T737,94" stroke="#a8a8a2" stroke-width="19"/><path d="M792,684 Q822,690 845,671 T873,659" stroke="#333333" stroke-width="17"/><path d="M100,130 Q129,127 155,111 T178,91" stroke="#a4a49e" stroke-width="16"/><path d="M856,525 Q827,535 798,543 T769,549" stroke="#3a3a3a" stroke-width="13"/><path d="M344,140 Q361,165 390,173 T411,194" stroke="#333333" stroke-width="15"/><path d="M825,318 Q838,345 851,372 T850,402" stroke="#a4a49e" stroke-width="18"/><path d="M852,401 Q859,430 878,454 T890,481" stroke="#98988f" stroke-width="14"/><path d="M405,455 Q412,484 419,513 T408,541" stroke="#a8a8a2" stroke-width="18"/><path d="M142,707 Q135,678 126,649 T140,622" stroke="#333333" stroke-width="16"/><path d="M603,398 Q577,414 549,404 T519,397" stroke="#a8a8a2" stroke-width="19"/><path d="M115,639 Q139,657 161,677 T189,690" stroke="#3a3a3a" stroke-width="13"/><path d="M615,342 Q612,372 621,400 T616,430" stroke="#a8a8a2" stroke-width="18"/><path d="M184,154 Q157,140 128,133 T102,148" stroke="#98988f" stroke-width="14"/><path d="M765,247 Q772,218 781,189 T765,163" stroke="#98988f" stroke-width="15"/><path d="M728,427 Q756,417 782,433 T812,432" stroke="#98988f" stroke-width="13"/><path d="M426,651 Q405,673 398,702 T374,720" stroke="#a8a8a2" stroke-width="16"/><path d="M541,499 Q516,482 487,473 T457,473" stroke="#98988f" stroke-width="13"/><path d="M681,604 Q673,575 651,555 T649,525" stroke="#a8a8a2" stroke-width="15"/><path d="M530,587 Q502,598 473,591 T443,591" stroke="#a8a8a2" stroke-width="13"/><path d="M451,434 Q454,404 433,382 T427,353" stroke="#a8a8a2" stroke-width="16"/><path d="M745,194 Q719,209 708,237 T714,266" stroke="#3a3a3a" stroke-width="18"/><path d="M514,515 Q486,506 459,493 T438,471" stroke="#98988f" stroke-width="16"/><path d="M521,269 Q525,239 530,209 T551,188" stroke="#3a3a3a" stroke-width="15"/><path d="M345,327 Q374,319 396,298 T425,294" stroke="#3a3a3a" stroke-width="17"/><path d="M313,401 Q304,429 320,454 T342,475" stroke="#3a3a3a" stroke-width="13"/><path d="M513,339 Q525,312 537,284 T558,263" stroke="#a8a8a2" stroke-width="17"/><path d="M466,669 Q470,640 461,611 T451,583" stroke="#a4a49e" stroke-width="16"/><path d="M828,679 Q855,665 867,638 T875,609" stroke="#a8a8a2" stroke-width="15"/><path d="M196,579 Q223,567 242,544 T267,528" stroke="#a4a49e" stroke-width="18"/><path d="M381,478 Q395,504 423,516 T450,528" stroke="#a4a49e" stroke-width="18"/><path d="M252,421 Q227,439 206,460 T183,480" stroke="#98988f" stroke-width="17"/><path d="M257,485 Q239,461 238,431 T244,402" stroke="#98988f" stroke-width="14"/><path d="M840,483 Q838,513 832,542 T808,560" stroke="#98988f" stroke-width="14"/><path d="M728,208 Q735,237 759,255 T789,252" stroke="#333333" stroke-width="13"/><path d="M446,682 Q422,664 392,661 T364,651" stroke="#a8a8a2" stroke-width="13"/><path d="M254,518 Q283,526 311,514 T338,503" stroke="#a4a49e" stroke-width="17"/><path d="M908,613 Q917,585 901,559 T899,529" stroke="#3a3a3a" stroke-width="17"/><path d="M832,390 Q858,404 888,402 T911,382" stroke="#a4a49e" stroke-width="18"/><path d="M168,124 Q196,113 225,116 T255,110" stroke="#333333" stroke-width="16"/><path d="M512,358 Q483,365 453,361 T431,341" stroke="#98988f" stroke-width="16"/><path d="M462,554 Q449,581 455,611 T459,640" stroke="#a8a8a2" stroke-width="15"/><path d="M822,594 Q833,566 849,541 T862,513" stroke="#3a3a3a" stroke-width="14"/><path d="M503,709 Q500,679 518,655 T545,641" stroke="#98988f" stroke-width="19"/><path d="M855,169 Q839,194 829,223 T823,252" stroke="#98988f" stroke-width="16"/><path d="M259,202 Q257,172 236,151 T234,121" stroke="#3a3a3a" stroke-width="13"/><path d="M280,684 Q258,664 243,638 T231,610" stroke="#3a3a3a" stroke-width="13"/><path d="M409,719 Q400,691 404,661 T430,646" stroke="#a8a8a2" stroke-width="13"/><path d="M594,554 Q598,583 622,601 T652,603" stroke="#333333" stroke-width="13"/><path d="M170,244 Q197,229 223,215 T251,226" stroke="#3a3a3a" stroke-width="19"/><path d="M905,490 Q894,462 888,433 T895,404" stroke="#a8a8a2" stroke-width="16"/><path d="M852,186 Q831,207 809,228 T784,245" stroke="#a8a8a2" stroke-width="16"/><path d="M865,352 Q836,342 807,338 T778,347" stroke="#a4a49e" stroke-width="17"/><path d="M852,506 Q829,486 818,459 T811,429" stroke="#98988f" stroke-width="16"/><path d="M708,332 Q738,326 754,301 T784,297" stroke="#a4a49e" stroke-width="13"/><path d="M744,227 Q726,203 720,173 T695,157" stroke="#a8a8a2" stroke-width="19"/><path d="M682,382 Q709,395 734,412 T764,410" stroke="#3a3a3a" stroke-width="16"/><path d="M463,214 Q491,225 520,216 T547,204" stroke="#333333" stroke-width="16"/><path d="M582,491 Q564,467 557,438 T567,410" stroke="#98988f" stroke-width="15"/><path d="M692,236 Q696,266 685,294 T669,319" stroke="#a4a49e" stroke-width="15"/><path d="M312,519 Q287,503 266,481 T257,453" stroke="#98988f" stroke-width="14"/><path d="M501,499 Q502,529 495,558 T513,582" stroke="#a4a49e" stroke-width="16"/><path d="M112,109 Q128,134 131,164 T113,188" stroke="#98988f" stroke-width="17"/><path d="M282,708 Q254,718 230,737 T207,755" stroke="#98988f" stroke-width="19"/><path d="M803,594 Q774,587 754,564 T747,535" stroke="#333333" stroke-width="16"/><path d="M702,332 Q731,342 749,366 T762,393" stroke="#a4a49e" stroke-width="17"/><path d="M712,609 Q716,639 716,669 T718,699" stroke="#a4a49e" stroke-width="13"/><path d="M535,359 Q519,334 501,310 T499,280" stroke="#a8a8a2" stroke-width="13"/><path d="M344,663 Q328,637 311,612 T308,583" stroke="#a4a49e" stroke-width="15"/><path d="M813,223 Q789,205 784,175 T770,148" stroke="#333333" stroke-width="17"/><path d="M577,658 Q556,636 536,614 T540,585" stroke="#333333" stroke-width="15"/><path d="M271,699 Q268,669 246,649 T238,620" stroke="#a8a8a2" stroke-width="15"/><path d="M645,456 Q664,433 678,407 T687,378" stroke="#98988f" stroke-width="19"/><path d="M574,197 Q601,211 614,238 T611,268" stroke="#98988f" stroke-width="17"/><path d="M137,185 Q153,210 152,240 T155,270" stroke="#3a3a3a" stroke-width="17"/><path d="M340,431 Q336,461 353,486 T377,504" stroke="#a8a8a2" stroke-width="18"/><path d="M625,146 Q634,118 652,94 T670,70" stroke="#3a3a3a" stroke-width="15"/><path d="M717,335 Q687,340 657,336 T628,333" stroke="#3a3a3a" stroke-width="19"/><path d="M681,534 Q704,515 734,512 T763,517" stroke="#a8a8a2" stroke-width="19"/><path d="M399,141 Q370,146 354,171 T344,199" stroke="#a8a8a2" stroke-width="19"/><path d="M180,671 Q196,646 195,616 T202,587" stroke="#98988f" stroke-width="15"/><path d="M257,354 Q230,368 221,396 T222,426" stroke="#a8a8a2" stroke-width="15"/><path d="M621,577 Q649,587 678,595 T706,607" stroke="#a8a8a2" stroke-width="15"/><path d="M179,202 Q198,225 206,254 T210,284" stroke="#98988f" stroke-width="16"/><path d="M241,263 Q242,293 253,321 T261,350" stroke="#3a3a3a" stroke-width="16"/><path d="M789,392 Q760,386 734,372 T717,347" stroke="#a8a8a2" stroke-width="16"/><path d="M797,338 Q820,358 829,386 T814,412" stroke="#3a3a3a" stroke-width="19"/><path d="M315,713 Q289,698 261,709 T233,721" stroke="#a4a49e" stroke-width="16"/><path d="M743,537 Q713,536 688,552 T669,575" stroke="#a4a49e" stroke-width="19"/><path d="M754,168 Q759,138 764,109 T747,84" stroke="#3a3a3a" stroke-width="19"/><path d="M236,214 Q248,187 240,158 T225,132" stroke="#3a3a3a" stroke-width="18"/><path d="M522,649 Q496,636 477,612 T461,587" stroke="#3a3a3a" stroke-width="15"/><path d="M105,204 Q106,234 92,260 T81,288" stroke="#a8a8a2" stroke-width="17"/><path d="M428,398 Q455,413 484,418 T514,418" stroke="#3a3a3a" stroke-width="15"/><path d="M907,508 Q935,498 952,473 T975,454" stroke="#333333" stroke-width="18"/><path d="M882,611 Q852,609 823,613 T794,605" stroke="#98988f" stroke-width="15"/><path d="M552,375 Q570,400 572,430 T589,454" stroke="#3a3a3a" stroke-width="14"/><path d="M328,323 Q298,327 270,338 T245,355" stroke="#a8a8a2" stroke-width="15"/><path d="M244,324 Q272,334 302,332 T332,328" stroke="#a4a49e" stroke-width="16"/><path d="M768,143 Q797,148 824,161 T844,184" stroke="#98988f" stroke-width="14"/><path d="M419,616 Q390,621 366,639 T357,667" stroke="#a8a8a2" stroke-width="16"/><path d="M423,131 Q447,113 472,96 T500,86" stroke="#98988f" stroke-width="19"/><path d="M656,391 Q685,383 715,387 T743,397" stroke="#a4a49e" stroke-width="19"/><path d="M737,504 Q708,509 681,523 T660,544" stroke="#333333" stroke-width="13"/><path d="M546,215 Q542,244 558,270 T564,299" stroke="#a4a49e" stroke-width="19"/><path d="M531,274 Q528,304 525,334 T517,363" stroke="#98988f" stroke-width="17"/><path d="M908,533 Q937,525 950,498 T970,475" stroke="#a8a8a2" stroke-width="14"/><path d="M290,451 Q272,427 276,397 T273,367" stroke="#333333" stroke-width="13"/><path d="M460,548 Q459,578 455,608 T473,631" stroke="#a4a49e" stroke-width="14"/><path d="M835,715 Q852,690 850,660 T865,634" stroke="#a4a49e" stroke-width="18"/><path d="M825,237 Q810,211 784,197 T759,181" stroke="#a8a8a2" stroke-width="16"/><path d="M116,199 Q139,218 155,244 T179,262" stroke="#333333" stroke-width="17"/><path d="M575,595 Q602,582 628,568 T641,541" stroke="#333333" stroke-width="13"/><path d="M557,195 Q528,204 498,209 T472,223" stroke="#a8a8a2" stroke-width="18"/><path d="M640,176 Q670,174 699,170 T728,162" stroke="#3a3a3a" stroke-width="18"/><path d="M553,343 Q529,362 507,382 T477,382" stroke="#333333" stroke-width="19"/><path d="M445,444 Q471,428 497,414 T522,396" stroke="#a8a8a2" stroke-width="15"/><path d="M833,272 Q809,255 781,244 T751,242" stroke="#a4a49e" stroke-width="17"/><path d="M809,240 Q813,210 834,189 T864,191" stroke="#333333" stroke-width="18"/><path d="M176,662 Q151,646 144,617 T158,590" stroke="#a4a49e" stroke-width="19"/><path d="M537,443 Q545,472 557,499 T584,513" stroke="#a8a8a2" stroke-width="13"/><path d="M516,167 Q540,150 563,131 T578,105" stroke="#a4a49e" stroke-width="13"/><path d="M356,124 Q386,122 415,113 T440,98" stroke="#3a3a3a" stroke-width="14"/><path d="M127,104 Q144,79 160,54 T190,48" stroke="#333333" stroke-width="14"/><path d="M256,630 Q228,618 198,615 T176,595" stroke="#333333" stroke-width="13"/><path d="M230,643 Q256,627 284,617 T303,594" stroke="#a8a8a2" stroke-width="18"/><path d="M177,545 Q150,559 120,552 T95,535" stroke="#98988f" stroke-width="15"/><path d="M660,680 Q647,707 648,737 T659,765" stroke="#98988f" stroke-width="15"/><path d="M238,234 Q238,204 230,175 T232,145" stroke="#a8a8a2" stroke-width="17"/><path d="M513,705 Q523,677 518,647 T496,626" stroke="#a8a8a2" stroke-width="16"/><path d="M896,364 Q866,357 841,374 T814,386" stroke="#a4a49e" stroke-width="17"/><path d="M295,595 Q325,599 349,617 T379,622" stroke="#a4a49e" stroke-width="18"/><path d="M539,203 Q568,210 593,193 T616,174" stroke="#3a3a3a" stroke-width="16"/><path d="M92,651 Q119,639 149,642 T169,664" stroke="#a4a49e" stroke-width="18"/><path d="M486,105 Q463,125 437,138 T409,127" stroke="#3a3a3a" stroke-width="14"/><path d="M576,574 Q601,591 620,614 T637,639" stroke="#a4a49e" stroke-width="19"/><path d="M677,543 Q673,572 652,594 T627,611" stroke="#a4a49e" stroke-width="13"/><path d="M256,701 Q285,708 303,732 T327,749" stroke="#3a3a3a" stroke-width="13"/><path d="M589,596 Q561,584 547,558 T517,551" stroke="#a8a8a2" stroke-width="14"/><path d="M556,429 Q550,400 527,380 T499,369" stroke="#a8a8a2" stroke-width="18"/><path d="M347,479 Q318,487 288,490 T269,512" stroke="#3a3a3a" stroke-width="14"/><path d="M400,242 Q371,234 344,221 T316,211" stroke="#a4a49e" stroke-width="16"/><path d="M472,528 Q488,502 483,473 T493,444" stroke="#3a3a3a" stroke-width="14"/><path d="M208,374 Q185,354 156,347 T139,323" stroke="#98988f" stroke-width="13"/><path d="M412,274 Q402,302 416,328 T405,356" stroke="#3a3a3a" stroke-width="14"/><path d="M332,160 Q347,134 340,105 T320,82" stroke="#a4a49e" stroke-width="15"/><path d="M866,671 Q887,691 906,715 T899,744" stroke="#a4a49e" stroke-width="17"/><path d="M659,633 Q650,605 639,577 T623,552" stroke="#98988f" stroke-width="16"/><path d="M400,116 Q383,140 356,153 T326,150" stroke="#333333" stroke-width="14"/><path d="M418,462 Q418,432 418,402 T424,372" stroke="#98988f" stroke-width="19"/><path d="M489,428 Q482,457 486,486 T468,510" stroke="#3a3a3a" stroke-width="13"/><path d="M515,555 Q486,550 459,536 T429,537" stroke="#a8a8a2" stroke-width="15"/><path d="M136,547 Q122,520 98,503 T88,475" stroke="#a8a8a2" stroke-width="13"/><path d="M908,617 Q879,608 850,604 T821,614" stroke="#3a3a3a" stroke-width="18"/><path d="M135,335 Q158,353 188,355 T217,361" stroke="#a8a8a2" stroke-width="14"/><path d="M346,354 Q318,365 288,365 T261,378" stroke="#333333" stroke-width="18"/><path d="M399,643 Q415,619 430,592 T425,563" stroke="#3a3a3a" stroke-width="19"/><path d="M381,150 Q357,167 347,196 T323,213" stroke="#333333" stroke-width="17"/><path d="M99,568 Q106,539 91,513 T94,483" stroke="#3a3a3a" stroke-width="18"/><path d="M379,162 Q377,132 390,105 T390,75" stroke="#333333" stroke-width="13"/><path d="M411,123 Q396,149 381,175 T377,204" stroke="#98988f" stroke-width="16"/><path d="M255,572 Q230,588 204,603 T174,606" stroke="#333333" stroke-width="19"/><path d="M213,454 Q207,425 211,395 T192,373" stroke="#333333" stroke-width="13"/><path d="M388,124 Q383,154 378,184 T369,212" stroke="#333333" stroke-width="18"/><path d="M356,245 Q386,242 411,258 T434,277" stroke="#a4a49e" stroke-width="19"/><path d="M637,203 Q607,202 587,180 T562,163" stroke="#3a3a3a" stroke-width="18"/><path d="M862,574 Q846,549 827,526 T804,507" stroke="#a4a49e" stroke-width="13"/><path d="M770,643 Q740,643 720,666 T717,695" stroke="#3a3a3a" stroke-width="15"/><path d="M343,313 Q364,292 371,263 T364,234" stroke="#98988f" stroke-width="14"/><path d="M516,673 Q532,647 550,623 T578,614" stroke="#3a3a3a" stroke-width="13"/><path d="M601,441 Q631,434 657,419 T678,398" stroke="#a8a8a2" stroke-width="15"/><path d="M750,217 Q741,245 749,274 T772,294" stroke="#a4a49e" stroke-width="17"/><path d="M655,596 Q651,625 655,655 T649,685" stroke="#333333" stroke-width="14"/><path d="M619,315 Q633,288 657,269 T687,270" stroke="#a8a8a2" stroke-width="19"/><path d="M173,532 Q198,549 211,576 T225,603" stroke="#98988f" stroke-width="17"/><path d="M800,637 Q830,634 860,631 T887,644" stroke="#333333" stroke-width="15"/><path d="M677,244 Q661,218 639,198 T629,170" stroke="#3a3a3a" stroke-width="19"/><path d="M196,709 Q166,703 142,685 T113,678" stroke="#98988f" stroke-width="14"/><path d="M254,479 Q239,505 209,510 T180,517" stroke="#98988f" stroke-width="15"/><path d="M653,351 Q629,333 625,303 T645,281" stroke="#a8a8a2" stroke-width="14"/><path d="M674,160 Q704,156 733,165 T744,193" stroke="#a8a8a2" stroke-width="16"/><path d="M360,101 Q331,94 301,94 T273,104" stroke="#a4a49e" stroke-width="14"/><path d="M411,477 Q435,460 456,438 T483,425" stroke="#3a3a3a" stroke-width="15"/><path d="M746,178 Q773,189 785,217 T807,237" stroke="#333333" stroke-width="16"/><path d="M188,290 Q217,297 245,285 T274,280" stroke="#a4a49e" stroke-width="15"/><path d="M276,391 Q267,419 282,446 T311,454" stroke="#a4a49e" stroke-width="18"/><path d="M154,200 Q133,179 104,171 T85,148" stroke="#333333" stroke-width="13"/><path d="M429,597 Q426,627 420,656 T405,682" stroke="#3a3a3a" stroke-width="15"/><path d="M317,681 Q347,682 377,680 T402,695" stroke="#a8a8a2" stroke-width="14"/><path d="M792,684 Q767,668 737,664 T715,684" stroke="#3a3a3a" stroke-width="15"/><path d="M141,380 Q143,350 138,321 T147,292" stroke="#a4a49e" stroke-width="19"/><path d="M290,672 Q263,683 234,692 T204,693" stroke="#a8a8a2" stroke-width="16"/><path d="M419,532 Q399,554 403,584 T402,614" stroke="#98988f" stroke-width="15"/><path d="M408,319 Q407,289 399,260 T399,230" stroke="#a4a49e" stroke-width="15"/><path d="M318,659 Q327,688 343,713 T347,743" stroke="#98988f" stroke-width="13"/><path d="M699,431 Q673,416 644,420 T623,442" stroke="#a4a49e" stroke-width="14"/><path d="M443,90 Q413,95 386,109 T359,121" stroke="#98988f" stroke-width="13"/><path d="M811,288 Q793,265 799,236 T801,206" stroke="#98988f" stroke-width="16"/><path d="M424,533 Q447,552 462,578 T455,607" stroke="#a4a49e" stroke-width="14"/><path d="M727,418 Q754,432 775,453 T777,483" stroke="#a8a8a2" stroke-width="14"/><path d="M595,303 Q565,303 535,307 T513,287" stroke="#a8a8a2" stroke-width="13"/><path d="M776,523 Q746,522 717,527 T688,537" stroke="#98988f" stroke-width="16"/><path d="M582,448 Q560,469 534,483 T509,501" stroke="#3a3a3a" stroke-width="13"/><path d="M577,676 Q596,700 589,729 T571,753" stroke="#a4a49e" stroke-width="14"/><path d="M694,713 Q664,711 639,729 T610,721" stroke="#333333" stroke-width="13"/><path d="M281,618 Q286,588 306,566 T335,558" stroke="#3a3a3a" stroke-width="15"/><path d="M904,126 Q932,113 951,90 T979,80" stroke="#333333" stroke-width="14"/><path d="M529,634 Q549,656 563,683 T592,693" stroke="#3a3a3a" stroke-width="16"/><path d="M735,396 Q721,423 694,435 T664,434" stroke="#3a3a3a" stroke-width="13"/><path d="M743,181 Q743,211 765,231 T791,245" stroke="#98988f" stroke-width="19"/><path d="M326,349 Q296,352 267,346 T237,342" stroke="#333333" stroke-width="13"/><path d="M162,497 Q132,500 109,481 T108,451" stroke="#3a3a3a" stroke-width="18"/><path d="M905,325 Q926,303 956,298 T980,316" stroke="#3a3a3a" stroke-width="14"/><path d="M659,199 Q671,227 685,253 T713,266" stroke="#a8a8a2" stroke-width="15"/><path d="M861,472 Q857,502 832,517 T802,523" stroke="#a4a49e" stroke-width="19"/><path d="M344,344 Q356,371 372,397 T371,427" stroke="#333333" stroke-width="15"/><path d="M464,406 Q488,388 517,380 T539,359" stroke="#3a3a3a" stroke-width="13"/><path d="M323,639 Q300,658 272,669 T246,683" stroke="#333333" stroke-width="16"/><path d="M252,347 Q250,377 256,407 T269,434" stroke="#3a3a3a" stroke-width="16"/><path d="M629,254 Q600,250 571,240 T546,256" stroke="#a4a49e" stroke-width="14"/><path d="M576,635 Q562,661 570,690 T557,718" stroke="#3a3a3a" stroke-width="13"/><path d="M537,148 Q543,118 541,88 T532,59" stroke="#3a3a3a" stroke-width="18"/><path d="M661,713 Q688,699 717,694 T738,672" stroke="#a8a8a2" stroke-width="15"/><path d="M229,406 Q200,401 176,419 T163,447" stroke="#a8a8a2" stroke-width="19"/><path d="M414,611 Q406,582 423,558 T419,528" stroke="#333333" stroke-width="18"/><path d="M419,501 Q400,524 395,554 T397,584" stroke="#98988f" stroke-width="17"/><path d="M413,556 Q443,553 472,559 T500,571" stroke="#a4a49e" stroke-width="18"/><path d="M755,549 Q740,523 723,497 T694,494" stroke="#a4a49e" stroke-width="19"/><path d="M824,100 Q805,123 784,145 T782,174" stroke="#a8a8a2" stroke-width="15"/><path d="M909,443 Q939,441 968,449 T997,456" stroke="#a4a49e" stroke-width="15"/><path d="M379,241 Q353,226 347,196 T347,166" stroke="#98988f" stroke-width="17"/><path d="M175,172 Q205,170 235,167 T258,148" stroke="#3a3a3a" stroke-width="17"/><path d="M232,477 Q262,482 287,466 T317,468" stroke="#98988f" stroke-width="14"/><path d="M743,154 Q734,125 716,102 T702,75" stroke="#333333" stroke-width="13"/><path d="M494,664 Q472,643 462,615 T447,589" stroke="#a4a49e" stroke-width="13"/><path d="M266,425 Q246,403 245,373 T229,347" stroke="#3a3a3a" stroke-width="14"/><path d="M555,403 Q576,381 588,354 T611,334" stroke="#a4a49e" stroke-width="14"/><path d="M391,357 Q364,369 338,384 T313,401" stroke="#a8a8a2" stroke-width="15"/></g>
<path d="M100.0,420.0 C106.7,385.0 113.3,358.3 130.0,330.0 C146.7,301.7 171.7,276.7 200.0,250.0 C228.3,223.3 263.3,193.3 300.0,170.0 C336.7,146.7 380.0,124.2 420.0,110.0 C460.0,95.8 501.7,87.5 540.0,85.0 C578.3,82.5 613.3,84.2 650.0,95.0 C686.7,105.8 726.7,127.5 760.0,150.0 C793.3,172.5 825.0,201.7 850.0,230.0 C875.0,258.3 900.0,291.7 910.0,320.0 C920.0,348.3 916.7,378.3 910.0,400.0 C903.3,421.7 888.3,436.7 870.0,450.0 C851.7,463.3 818.3,468.3 800.0,480.0 C781.7,491.7 758.3,506.7 760.0,520.0 C761.7,533.3 801.7,543.3 810.0,560.0 C818.3,576.7 818.3,603.3 810.0,620.0 C801.7,636.7 781.7,650.0 760.0,660.0 C738.3,670.0 706.7,673.3 680.0,680.0 C653.3,686.7 630.0,695.0 600.0,700.0 C570.0,705.0 533.3,706.7 500.0,710.0 C466.7,713.3 430.0,720.0 400.0,720.0 C370.0,720.0 345.0,718.3 320.0,710.0 C295.0,701.7 270.0,685.0 250.0,670.0 C230.0,655.0 220.0,631.7 200.0,620.0 C180.0,608.3 148.3,613.3 130.0,600.0 C111.7,586.7 95.0,570.0 90.0,540.0 C85.0,510.0 93.3,455.0 100.0,420.0 Z" fill="none" stroke="#222" stroke-width="40" opacity="0.35" filter="url(#cbf1)"/>
<path d="M540.0,90.0 C543.3,83.7 581.7,79.2 600.0,80.0 C618.3,80.8 643.3,88.7 650.0,95.0 C656.7,101.3 651.7,114.2 640.0,118.0 C628.3,121.8 596.7,122.7 580.0,118.0 C563.3,113.3 536.7,96.3 540.0,90.0 Z" fill="#b31515" filter="url(#cbf21)"/>
<path d="M440.0,420.0 C451.7,401.7 493.3,385.0 520.0,390.0 C546.7,395.0 580.0,428.3 600.0,450.0 C620.0,471.7 636.7,500.0 640.0,520.0 C643.3,540.0 636.7,563.3 620.0,570.0 C603.3,576.7 568.3,571.7 540.0,560.0 C511.7,548.3 466.7,523.3 450.0,500.0 C433.3,476.7 428.3,438.3 440.0,420.0 Z" fill="#b31515" filter="url(#cbf21)"/>
<path d="M650.0,590.0 C658.3,574.2 715.0,560.0 740.0,555.0 C765.0,550.0 787.5,549.2 800.0,560.0 C812.5,570.8 821.7,600.8 815.0,620.0 C808.3,639.2 780.8,670.0 760.0,675.0 C739.2,680.0 708.3,664.2 690.0,650.0 C671.7,635.8 641.7,605.8 650.0,590.0 Z" fill="#b31515" filter="url(#cbf21)"/>
<path d="M880.0,340.0 C884.5,328.3 906.3,338.3 912.0,350.0 C917.7,361.7 918.5,398.3 914.0,410.0 C909.5,421.7 890.7,431.7 885.0,420.0 C879.3,408.3 875.5,351.7 880.0,340.0 Z" fill="#b31515" filter="url(#cbf21)"/>
<path d="M105.0,340.0 C110.0,328.3 133.3,321.7 140.0,330.0 C146.7,338.3 150.0,378.3 145.0,390.0 C140.0,401.7 116.7,408.3 110.0,400.0 C103.3,391.7 100.0,351.7 105.0,340.0 Z" fill="#b31515" filter="url(#cbf21)"/>
</g>
<g>
<path d="M95,575 L300,300" stroke="#8e8e8e" stroke-width="78" stroke-linecap="round"/>
<path d="M95,575 L300,300" stroke="#c2c2c2" stroke-width="62" stroke-linecap="round"/>
<ellipse cx="395" cy="245" rx="128" ry="160" transform="rotate(15 395 245)" fill="#c4c4c4" stroke="#9a9a9a" stroke-width="8"/>
<circle cx="330" cy="300" r="62" fill="#bcbcbc" stroke="#a8a8a8" stroke-width="8"/>
<rect x="325" y="170" width="40" height="70" rx="10" transform="rotate(35 345 205)" fill="#8a8a8a"/>
<rect x="415" y="270" width="36" height="70" rx="10" transform="rotate(40 433 305)" fill="#b02020"/>
<path d="M460,400 L520,390 L600,500 L560,490Z" fill="#111"/>
</g>
</g><g id="coilbrain2">
<path d="M180.0,560.0 C180.0,533.3 181.7,496.7 190.0,470.0 C198.3,443.3 213.3,423.3 230.0,400.0 C246.7,376.7 265.0,350.0 290.0,330.0 C315.0,310.0 348.3,296.7 380.0,280.0 C411.7,263.3 446.7,240.8 480.0,230.0 C513.3,219.2 546.7,215.0 580.0,215.0 C613.3,215.0 648.3,217.5 680.0,230.0 C711.7,242.5 745.0,266.7 770.0,290.0 C795.0,313.3 816.7,343.3 830.0,370.0 C843.3,396.7 851.7,426.7 850.0,450.0 C848.3,473.3 833.3,491.7 820.0,510.0 C806.7,528.3 778.3,540.0 770.0,560.0 C761.7,580.0 776.7,608.3 770.0,630.0 C763.3,651.7 751.7,675.0 730.0,690.0 C708.3,705.0 671.7,715.0 640.0,720.0 C608.3,725.0 573.3,718.3 540.0,720.0 C506.7,721.7 470.0,730.0 440.0,730.0 C410.0,730.0 385.0,726.7 360.0,720.0 C335.0,713.3 311.7,700.0 290.0,690.0 C268.3,680.0 246.7,670.0 230.0,660.0 C213.3,650.0 198.3,646.7 190.0,630.0 C181.7,613.3 180.0,586.7 180.0,560.0 Z" fill="url(#cbg2)"/>
<g clip-path="url(#cb2)">
<g filter="url(#cbf22)" opacity="0.85" fill="none" stroke-linecap="round"><path d="M799,703 Q804,673 813,645 T818,615" stroke="#3a3a3a" stroke-width="15"/><path d="M267,313 Q247,336 229,360 T236,389" stroke="#a8a8a2" stroke-width="18"/><path d="M513,225 Q490,206 478,178 T454,160" stroke="#a8a8a2" stroke-width="17"/><path d="M427,303 Q421,332 411,361 T386,378" stroke="#3a3a3a" stroke-width="15"/><path d="M622,376 Q648,391 668,414 T683,440" stroke="#333333" stroke-width="18"/><path d="M610,308 Q631,330 637,359 T657,381" stroke="#a8a8a2" stroke-width="13"/><path d="M246,235 Q237,263 214,283 T198,308" stroke="#a4a49e" stroke-width="15"/><path d="M543,675 Q522,697 517,726 T507,754" stroke="#a8a8a2" stroke-width="18"/><path d="M712,468 Q717,498 708,527 T721,554" stroke="#333333" stroke-width="14"/><path d="M481,232 Q456,214 426,214 T400,227" stroke="#a8a8a2" stroke-width="14"/><path d="M719,703 Q706,676 706,646 T698,617" stroke="#333333" stroke-width="16"/><path d="M309,254 Q287,274 257,274 T237,251" stroke="#98988f" stroke-width="13"/><path d="M249,487 Q261,514 257,544 T266,573" stroke="#333333" stroke-width="14"/><path d="M783,444 Q754,452 725,443 T709,418" stroke="#333333" stroke-width="13"/><path d="M644,642 Q616,630 586,629 T557,633" stroke="#3a3a3a" stroke-width="17"/><path d="M548,640 Q566,664 591,681 T613,701" stroke="#333333" stroke-width="14"/><path d="M290,555 Q267,574 261,603 T238,622" stroke="#333333" stroke-width="19"/><path d="M481,584 Q510,579 539,588 T567,578" stroke="#333333" stroke-width="14"/><path d="M711,230 Q707,200 725,177 T740,151" stroke="#a4a49e" stroke-width="16"/><path d="M580,725 Q559,704 539,681 T512,668" stroke="#a8a8a2" stroke-width="14"/><path d="M767,659 Q740,645 719,624 T703,599" stroke="#a4a49e" stroke-width="18"/><path d="M394,394 Q366,407 343,426 T325,449" stroke="#333333" stroke-width="19"/><path d="M627,604 Q651,585 679,576 T705,561" stroke="#a4a49e" stroke-width="19"/><path d="M278,406 Q280,376 270,347 T274,318" stroke="#a8a8a2" stroke-width="19"/><path d="M204,618 Q216,645 224,674 T234,702" stroke="#333333" stroke-width="19"/><path d="M233,318 Q209,300 196,273 T170,257" stroke="#3a3a3a" stroke-width="16"/><path d="M589,400 Q618,405 645,419 T668,438" stroke="#a8a8a2" stroke-width="13"/><path d="M790,309 Q819,318 847,308 T877,311" stroke="#333333" stroke-width="18"/><path d="M377,624 Q403,609 433,607 T455,586" stroke="#a8a8a2" stroke-width="14"/><path d="M414,297 Q397,321 367,323 T339,312" stroke="#98988f" stroke-width="17"/><path d="M573,698 Q559,671 534,655 T510,636" stroke="#a4a49e" stroke-width="16"/><path d="M773,720 Q795,699 811,674 T837,659" stroke="#a8a8a2" stroke-width="16"/><path d="M444,587 Q448,558 436,530 T420,505" stroke="#a8a8a2" stroke-width="13"/><path d="M391,435 Q408,410 422,383 T422,353" stroke="#a4a49e" stroke-width="13"/><path d="M629,444 Q626,474 619,503 T593,517" stroke="#3a3a3a" stroke-width="17"/><path d="M602,634 Q618,659 644,673 T661,698" stroke="#a8a8a2" stroke-width="16"/><path d="M742,416 Q741,446 763,467 T788,483" stroke="#a4a49e" stroke-width="18"/><path d="M292,525 Q318,541 343,557 T367,576" stroke="#a8a8a2" stroke-width="13"/><path d="M463,568 Q491,580 520,572 T532,544" stroke="#3a3a3a" stroke-width="17"/><path d="M319,547 Q347,535 368,514 T396,503" stroke="#333333" stroke-width="16"/><path d="M791,697 Q761,698 733,686 T703,690" stroke="#3a3a3a" stroke-width="19"/><path d="M783,293 Q796,266 815,243 T816,214" stroke="#a4a49e" stroke-width="15"/><path d="M254,641 Q283,633 312,641 T335,660" stroke="#a8a8a2" stroke-width="17"/><path d="M357,495 Q328,502 315,530 T287,541" stroke="#a8a8a2" stroke-width="18"/><path d="M729,305 Q754,322 774,344 T803,351" stroke="#a8a8a2" stroke-width="17"/><path d="M722,605 Q697,589 683,563 T676,533" stroke="#98988f" stroke-width="14"/><path d="M713,397 Q688,381 679,352 T666,325" stroke="#333333" stroke-width="13"/><path d="M485,362 Q460,347 430,349 T402,361" stroke="#a8a8a2" stroke-width="14"/><path d="M285,637 Q257,626 240,601 T236,572" stroke="#98988f" stroke-width="19"/><path d="M294,563 Q281,536 288,507 T279,478" stroke="#a8a8a2" stroke-width="15"/><path d="M620,265 Q606,239 609,209 T625,184" stroke="#a8a8a2" stroke-width="17"/><path d="M468,248 Q449,224 424,207 T412,180" stroke="#98988f" stroke-width="14"/><path d="M427,670 Q408,693 386,714 T376,743" stroke="#a8a8a2" stroke-width="17"/><path d="M577,725 Q593,700 592,670 T594,640" stroke="#a8a8a2" stroke-width="19"/><path d="M203,635 Q199,665 202,695 T220,719" stroke="#a4a49e" stroke-width="15"/><path d="M241,435 Q214,423 185,416 T159,401" stroke="#333333" stroke-width="18"/><path d="M670,304 Q700,306 721,284 T751,279" stroke="#a4a49e" stroke-width="18"/><path d="M278,653 Q271,624 282,596 T285,566" stroke="#333333" stroke-width="18"/><path d="M815,575 Q805,603 807,633 T807,663" stroke="#3a3a3a" stroke-width="18"/><path d="M723,508 Q704,485 692,458 T667,441" stroke="#a4a49e" stroke-width="16"/><path d="M665,589 Q692,576 722,578 T752,582" stroke="#333333" stroke-width="16"/><path d="M415,691 Q429,665 456,652 T475,629" stroke="#a8a8a2" stroke-width="13"/><path d="M588,332 Q617,325 644,338 T674,339" stroke="#a8a8a2" stroke-width="19"/><path d="M600,571 Q578,592 548,590 T521,577" stroke="#3a3a3a" stroke-width="14"/><path d="M509,380 Q508,350 500,321 T479,299" stroke="#333333" stroke-width="19"/><path d="M678,599 Q705,586 735,584 T755,562" stroke="#98988f" stroke-width="13"/><path d="M303,661 Q316,688 342,703 T352,732" stroke="#a4a49e" stroke-width="15"/><path d="M377,661 Q404,649 431,662 T461,660" stroke="#3a3a3a" stroke-width="19"/><path d="M445,523 Q443,493 420,474 T403,450" stroke="#98988f" stroke-width="18"/><path d="M609,234 Q582,247 552,253 T533,275" stroke="#a8a8a2" stroke-width="18"/><path d="M422,617 Q416,588 413,558 T392,536" stroke="#98988f" stroke-width="18"/><path d="M205,667 Q175,673 152,655 T131,633" stroke="#a8a8a2" stroke-width="19"/><path d="M360,464 Q334,450 328,420 T319,392" stroke="#98988f" stroke-width="13"/><path d="M655,697 Q681,711 711,706 T740,713" stroke="#a4a49e" stroke-width="14"/><path d="M358,635 Q385,649 405,670 T425,693" stroke="#333333" stroke-width="13"/><path d="M825,426 Q810,453 784,467 T755,461" stroke="#a8a8a2" stroke-width="18"/><path d="M193,308 Q221,319 248,331 T270,351" stroke="#3a3a3a" stroke-width="16"/><path d="M766,609 Q777,581 765,553 T774,525" stroke="#a8a8a2" stroke-width="13"/><path d="M220,270 Q241,292 245,321 T239,351" stroke="#333333" stroke-width="17"/><path d="M358,466 Q368,438 393,421 T420,408" stroke="#98988f" stroke-width="13"/><path d="M394,638 Q367,626 341,610 T312,608" stroke="#3a3a3a" stroke-width="17"/><path d="M623,385 Q651,374 680,380 T697,405" stroke="#3a3a3a" stroke-width="19"/><path d="M804,306 Q798,336 804,365 T788,390" stroke="#a4a49e" stroke-width="18"/><path d="M833,535 Q809,554 797,581 T799,611" stroke="#a8a8a2" stroke-width="13"/><path d="M229,383 Q204,366 177,354 T167,325" stroke="#3a3a3a" stroke-width="13"/><path d="M781,297 Q780,327 776,356 T775,386" stroke="#a8a8a2" stroke-width="16"/><path d="M358,414 Q370,442 362,470 T377,496" stroke="#98988f" stroke-width="17"/><path d="M668,246 Q689,224 698,195 T690,167" stroke="#a4a49e" stroke-width="14"/><path d="M756,616 Q751,646 735,671 T706,677" stroke="#333333" stroke-width="14"/><path d="M703,416 Q719,441 739,464 T755,489" stroke="#a4a49e" stroke-width="14"/><path d="M487,687 Q463,670 447,645 T420,632" stroke="#3a3a3a" stroke-width="19"/><path d="M800,608 Q785,633 777,662 T755,683" stroke="#3a3a3a" stroke-width="16"/><path d="M407,604 Q437,602 466,609 T496,608" stroke="#98988f" stroke-width="13"/><path d="M416,560 Q392,578 379,605 T387,634" stroke="#3a3a3a" stroke-width="13"/><path d="M825,241 Q841,216 836,186 T812,168" stroke="#333333" stroke-width="17"/><path d="M253,334 Q223,335 194,343 T177,367" stroke="#98988f" stroke-width="16"/><path d="M280,372 Q286,402 292,431 T281,459" stroke="#98988f" stroke-width="17"/><path d="M661,437 Q634,424 610,406 T580,404" stroke="#3a3a3a" stroke-width="18"/><path d="M449,618 Q422,606 414,577 T392,557" stroke="#a8a8a2" stroke-width="16"/><path d="M262,570 Q278,595 307,603 T337,600" stroke="#3a3a3a" stroke-width="14"/><path d="M193,437 Q221,449 250,455 T268,480" stroke="#3a3a3a" stroke-width="19"/><path d="M723,392 Q695,403 665,400 T638,388" stroke="#98988f" stroke-width="18"/><path d="M462,378 Q483,399 494,427 T519,443" stroke="#a4a49e" stroke-width="13"/><path d="M437,426 Q420,402 413,372 T422,344" stroke="#98988f" stroke-width="18"/><path d="M848,450 Q872,467 902,467 T932,472" stroke="#a4a49e" stroke-width="15"/><path d="M256,508 Q229,494 203,480 T188,454" stroke="#333333" stroke-width="16"/><path d="M493,217 Q505,244 518,271 T546,282" stroke="#98988f" stroke-width="16"/><path d="M642,288 Q667,304 696,296 T726,300" stroke="#a8a8a2" stroke-width="15"/><path d="M816,579 Q841,596 871,593 T901,597" stroke="#98988f" stroke-width="17"/><path d="M416,456 Q402,430 407,400 T392,374" stroke="#98988f" stroke-width="19"/><path d="M643,645 Q672,637 684,610 T713,600" stroke="#3a3a3a" stroke-width="14"/><path d="M287,549 Q258,544 228,543 T205,523" stroke="#98988f" stroke-width="17"/><path d="M733,642 Q716,667 688,677 T664,696" stroke="#3a3a3a" stroke-width="13"/><path d="M616,491 Q638,512 667,520 T694,508" stroke="#98988f" stroke-width="16"/><path d="M249,474 Q224,491 194,492 T173,513" stroke="#333333" stroke-width="15"/><path d="M779,540 Q749,540 720,530 T702,507" stroke="#a8a8a2" stroke-width="18"/><path d="M310,622 Q280,621 258,641 T228,639" stroke="#3a3a3a" stroke-width="16"/><path d="M455,642 Q425,637 398,649 T368,647" stroke="#98988f" stroke-width="18"/><path d="M381,260 Q410,252 424,225 T436,198" stroke="#a4a49e" stroke-width="13"/><path d="M672,216 Q663,188 669,158 T652,133" stroke="#a8a8a2" stroke-width="14"/><path d="M338,554 Q308,552 279,547 T250,555" stroke="#a4a49e" stroke-width="18"/><path d="M483,238 Q463,260 435,270 T411,288" stroke="#a4a49e" stroke-width="15"/><path d="M340,254 Q313,267 304,296 T282,316" stroke="#333333" stroke-width="17"/><path d="M410,617 Q412,587 410,557 T391,534" stroke="#a8a8a2" stroke-width="19"/><path d="M267,252 Q261,282 237,300 T209,311" stroke="#a8a8a2" stroke-width="15"/><path d="M816,488 Q811,518 820,546 T813,575" stroke="#a8a8a2" stroke-width="17"/><path d="M762,468 Q758,498 749,527 T726,547" stroke="#a8a8a2" stroke-width="14"/><path d="M643,300 Q664,322 676,349 T692,374" stroke="#333333" stroke-width="15"/><path d="M519,511 Q489,513 459,517 T432,529" stroke="#a4a49e" stroke-width="17"/><path d="M445,716 Q463,741 489,756 T510,777" stroke="#a8a8a2" stroke-width="18"/><path d="M391,683 Q389,653 399,625 T399,595" stroke="#3a3a3a" stroke-width="15"/><path d="M579,498 Q581,468 567,442 T568,412" stroke="#333333" stroke-width="19"/><path d="M280,377 Q306,393 314,422 T322,451" stroke="#333333" stroke-width="16"/><path d="M664,326 Q691,312 718,300 T735,275" stroke="#98988f" stroke-width="19"/><path d="M681,238 Q707,254 737,252 T766,249" stroke="#a8a8a2" stroke-width="17"/><path d="M447,307 Q419,317 390,308 T375,282" stroke="#a8a8a2" stroke-width="16"/><path d="M190,597 Q165,580 143,560 T134,531" stroke="#a4a49e" stroke-width="19"/><path d="M565,243 Q562,273 549,300 T520,309" stroke="#3a3a3a" stroke-width="13"/><path d="M756,274 Q737,297 735,327 T743,356" stroke="#a4a49e" stroke-width="17"/><path d="M789,366 Q787,396 795,424 T820,442" stroke="#333333" stroke-width="13"/><path d="M500,271 Q504,301 510,330 T495,356" stroke="#333333" stroke-width="18"/><path d="M430,557 Q407,576 390,600 T364,616" stroke="#98988f" stroke-width="17"/><path d="M321,616 Q307,642 309,672 T330,694" stroke="#333333" stroke-width="17"/><path d="M576,334 Q598,314 615,289 T611,259" stroke="#98988f" stroke-width="15"/><path d="M388,566 Q364,547 338,533 T309,525" stroke="#3a3a3a" stroke-width="13"/><path d="M729,290 Q699,290 674,307 T663,335" stroke="#3a3a3a" stroke-width="14"/><path d="M498,451 Q522,469 552,475 T581,479" stroke="#333333" stroke-width="16"/><path d="M345,680 Q356,708 353,738 T335,761" stroke="#a8a8a2" stroke-width="13"/><path d="M657,609 Q645,582 646,552 T652,522" stroke="#a4a49e" stroke-width="15"/><path d="M724,530 Q735,558 735,588 T723,616" stroke="#a8a8a2" stroke-width="13"/><path d="M535,228 Q515,206 499,180 T489,152" stroke="#98988f" stroke-width="14"/><path d="M618,307 Q632,333 632,363 T651,386" stroke="#a8a8a2" stroke-width="14"/><path d="M314,510 Q330,536 360,540 T385,557" stroke="#333333" stroke-width="19"/><path d="M787,625 Q809,604 835,590 T865,587" stroke="#a4a49e" stroke-width="15"/><path d="M323,291 Q320,261 305,235 T292,208" stroke="#333333" stroke-width="13"/><path d="M409,325 Q435,310 464,320 T481,345" stroke="#3a3a3a" stroke-width="17"/><path d="M508,363 Q479,372 449,373 T420,372" stroke="#a4a49e" stroke-width="17"/><path d="M572,657 Q594,637 613,613 T621,584" stroke="#333333" stroke-width="16"/><path d="M792,338 Q792,368 783,397 T795,424" stroke="#a8a8a2" stroke-width="18"/><path d="M804,222 Q801,192 820,169 T850,163" stroke="#333333" stroke-width="15"/><path d="M546,573 Q567,594 565,624 T560,654" stroke="#3a3a3a" stroke-width="14"/><path d="M230,267 Q210,290 181,297 T157,315" stroke="#333333" stroke-width="13"/><path d="M828,475 Q815,502 818,531 T818,561" stroke="#a8a8a2" stroke-width="17"/><path d="M528,272 Q551,291 574,311 T603,314" stroke="#333333" stroke-width="17"/><path d="M421,355 Q396,339 375,317 T353,297" stroke="#a4a49e" stroke-width="19"/><path d="M806,355 Q812,384 803,412 T781,433" stroke="#a8a8a2" stroke-width="19"/><path d="M809,305 Q785,286 769,261 T748,239" stroke="#a4a49e" stroke-width="17"/><path d="M508,368 Q503,339 485,315 T460,299" stroke="#3a3a3a" stroke-width="16"/><path d="M643,393 Q613,390 592,369 T563,359" stroke="#a4a49e" stroke-width="15"/><path d="M786,223 Q758,233 731,247 T702,254" stroke="#3a3a3a" stroke-width="17"/><path d="M693,515 Q701,486 703,456 T703,426" stroke="#3a3a3a" stroke-width="19"/><path d="M658,520 Q640,543 621,567 T607,593" stroke="#a4a49e" stroke-width="15"/><path d="M223,249 Q252,256 282,256 T302,278" stroke="#333333" stroke-width="13"/><path d="M641,694 Q647,664 667,643 T667,613" stroke="#a8a8a2" stroke-width="18"/><path d="M824,390 Q830,361 857,347 T884,334" stroke="#a4a49e" stroke-width="16"/><path d="M575,573 Q588,601 617,608 T647,609" stroke="#a4a49e" stroke-width="17"/><path d="M757,660 Q730,672 703,685 T675,698" stroke="#98988f" stroke-width="14"/><path d="M428,461 Q457,469 483,453 T510,441" stroke="#a8a8a2" stroke-width="15"/><path d="M303,450 Q328,433 357,428 T385,441" stroke="#333333" stroke-width="15"/><path d="M526,496 Q554,509 581,496 T611,493" stroke="#333333" stroke-width="19"/><path d="M457,336 Q448,364 427,386 T398,393" stroke="#a4a49e" stroke-width="13"/><path d="M691,223 Q663,233 640,253 T611,247" stroke="#a8a8a2" stroke-width="17"/><path d="M627,726 Q597,722 568,716 T540,705" stroke="#a4a49e" stroke-width="15"/><path d="M585,305 Q610,322 639,315 T665,329" stroke="#98988f" stroke-width="15"/><path d="M790,373 Q775,347 771,317 T751,295" stroke="#98988f" stroke-width="16"/><path d="M358,720 Q379,698 409,699 T430,720" stroke="#98988f" stroke-width="18"/><path d="M594,324 Q587,353 594,382 T597,412" stroke="#98988f" stroke-width="17"/><path d="M402,287 Q385,312 378,341 T352,356" stroke="#a8a8a2" stroke-width="18"/><path d="M198,343 Q169,350 142,363 T112,362" stroke="#98988f" stroke-width="14"/><path d="M769,400 Q739,394 715,376 T695,355" stroke="#333333" stroke-width="16"/><path d="M295,254 Q276,277 246,280 T217,288" stroke="#a8a8a2" stroke-width="17"/><path d="M313,696 Q337,714 366,711 T396,707" stroke="#a4a49e" stroke-width="18"/><path d="M838,474 Q861,454 882,432 T911,424" stroke="#a8a8a2" stroke-width="14"/><path d="M292,639 Q265,627 241,609 T231,581" stroke="#a4a49e" stroke-width="14"/><path d="M298,363 Q318,341 347,331 T376,335" stroke="#a4a49e" stroke-width="17"/><path d="M673,620 Q644,617 614,615 T584,616" stroke="#98988f" stroke-width="19"/><path d="M564,656 Q567,685 578,714 T597,736" stroke="#a8a8a2" stroke-width="13"/><path d="M526,394 Q525,424 519,454 T520,484" stroke="#333333" stroke-width="13"/><path d="M624,452 Q634,480 657,499 T669,527" stroke="#3a3a3a" stroke-width="15"/><path d="M241,563 Q235,534 223,507 T200,488" stroke="#3a3a3a" stroke-width="13"/><path d="M272,309 Q302,304 320,280 T314,251" stroke="#3a3a3a" stroke-width="14"/><path d="M379,449 Q406,436 435,446 T462,457" stroke="#3a3a3a" stroke-width="17"/><path d="M427,712 Q405,732 389,758 T393,788" stroke="#a4a49e" stroke-width="14"/><path d="M286,287 Q275,260 252,241 T228,223" stroke="#a4a49e" stroke-width="15"/><path d="M453,479 Q437,504 410,516 T383,504" stroke="#a4a49e" stroke-width="16"/><path d="M371,358 Q357,332 345,304 T338,275" stroke="#a4a49e" stroke-width="16"/><path d="M528,489 Q513,463 523,434 T513,406" stroke="#3a3a3a" stroke-width="19"/><path d="M577,297 Q568,326 557,354 T537,376" stroke="#a4a49e" stroke-width="18"/><path d="M489,321 Q461,312 445,286 T423,266" stroke="#a4a49e" stroke-width="16"/><path d="M301,669 Q310,640 316,611 T316,581" stroke="#98988f" stroke-width="17"/><path d="M625,640 Q595,639 566,632 T537,639" stroke="#98988f" stroke-width="16"/><path d="M456,513 Q483,526 512,533 T531,556" stroke="#98988f" stroke-width="16"/><path d="M496,529 Q514,553 513,583 T497,608" stroke="#3a3a3a" stroke-width="18"/><path d="M599,218 Q609,246 637,258 T665,268" stroke="#3a3a3a" stroke-width="17"/><path d="M625,528 Q602,509 573,503 T543,507" stroke="#98988f" stroke-width="13"/><path d="M378,662 Q351,648 324,636 T295,628" stroke="#3a3a3a" stroke-width="18"/><path d="M203,461 Q185,486 173,513 T152,535" stroke="#a8a8a2" stroke-width="17"/><path d="M530,428 Q524,458 503,480 T498,509" stroke="#a4a49e" stroke-width="17"/><path d="M399,685 Q377,705 368,734 T369,764" stroke="#333333" stroke-width="13"/><path d="M199,576 Q216,551 241,535 T271,531" stroke="#3a3a3a" stroke-width="14"/><path d="M770,714 Q754,689 747,659 T758,631" stroke="#333333" stroke-width="13"/><path d="M614,428 Q643,419 667,401 T693,386" stroke="#98988f" stroke-width="13"/><path d="M501,256 Q483,279 480,309 T471,338" stroke="#a8a8a2" stroke-width="17"/><path d="M465,244 Q436,250 407,243 T388,220" stroke="#a8a8a2" stroke-width="13"/><path d="M470,590 Q451,613 421,613 T392,622" stroke="#3a3a3a" stroke-width="13"/><path d="M293,715 Q266,728 254,756 T244,784" stroke="#3a3a3a" stroke-width="16"/><path d="M220,426 Q236,452 232,481 T213,504" stroke="#3a3a3a" stroke-width="14"/><path d="M467,249 Q451,274 452,304 T432,327" stroke="#3a3a3a" stroke-width="15"/><path d="M632,394 Q662,392 692,391 T722,396" stroke="#3a3a3a" stroke-width="15"/><path d="M573,425 Q544,434 526,458 T497,466" stroke="#3a3a3a" stroke-width="18"/><path d="M621,438 Q599,459 569,465 T543,450" stroke="#a4a49e" stroke-width="16"/><path d="M485,441 Q503,418 533,416 T562,423" stroke="#3a3a3a" stroke-width="14"/><path d="M255,245 Q283,256 309,270 T338,260" stroke="#98988f" stroke-width="18"/><path d="M761,282 Q741,259 716,243 T700,217" stroke="#a4a49e" stroke-width="18"/><path d="M838,532 Q835,562 811,580 T781,581" stroke="#a8a8a2" stroke-width="13"/><path d="M784,303 Q757,315 728,321 T706,342" stroke="#a8a8a2" stroke-width="13"/><path d="M361,590 Q370,561 390,539 T400,511" stroke="#3a3a3a" stroke-width="19"/><path d="M729,227 Q754,243 784,240 T810,225" stroke="#333333" stroke-width="13"/><path d="M745,517 Q752,547 747,576 T735,603" stroke="#a4a49e" stroke-width="14"/><path d="M512,637 Q539,622 549,594 T549,564" stroke="#98988f" stroke-width="13"/><path d="M761,605 Q744,630 736,659 T721,685" stroke="#98988f" stroke-width="14"/><path d="M544,316 Q560,342 589,351 T618,342" stroke="#a4a49e" stroke-width="17"/><path d="M438,286 Q455,261 472,236 T490,212" stroke="#a4a49e" stroke-width="19"/><path d="M391,442 Q397,472 395,501 T383,529" stroke="#333333" stroke-width="15"/><path d="M424,610 Q419,581 425,551 T449,535" stroke="#a8a8a2" stroke-width="16"/><path d="M443,450 Q428,476 400,486 T376,505" stroke="#3a3a3a" stroke-width="17"/><path d="M640,666 Q619,687 605,713 T592,741" stroke="#3a3a3a" stroke-width="18"/><path d="M844,487 Q854,515 870,541 T888,564" stroke="#98988f" stroke-width="14"/><path d="M801,515 Q783,490 778,461 T795,436" stroke="#a4a49e" stroke-width="18"/><path d="M653,672 Q658,642 671,615 T699,605" stroke="#333333" stroke-width="19"/><path d="M198,524 Q190,553 209,577 T221,605" stroke="#3a3a3a" stroke-width="17"/><path d="M696,578 Q705,607 706,637 T693,664" stroke="#333333" stroke-width="15"/><path d="M563,450 Q568,421 586,397 T616,391" stroke="#a8a8a2" stroke-width="13"/><path d="M219,235 Q197,256 174,275 T168,304" stroke="#3a3a3a" stroke-width="19"/><path d="M256,665 Q275,642 304,637 T330,622" stroke="#3a3a3a" stroke-width="15"/><path d="M511,488 Q484,501 454,496 T424,494" stroke="#a4a49e" stroke-width="13"/><path d="M484,551 Q455,548 425,550 T395,553" stroke="#333333" stroke-width="13"/><path d="M615,659 Q590,676 566,694 T556,722" stroke="#98988f" stroke-width="15"/><path d="M586,586 Q556,586 537,609 T509,621" stroke="#333333" stroke-width="14"/><path d="M249,300 Q254,329 260,359 T280,382" stroke="#a4a49e" stroke-width="13"/></g>
<path d="M180.0,560.0 C180.0,533.3 181.7,496.7 190.0,470.0 C198.3,443.3 213.3,423.3 230.0,400.0 C246.7,376.7 265.0,350.0 290.0,330.0 C315.0,310.0 348.3,296.7 380.0,280.0 C411.7,263.3 446.7,240.8 480.0,230.0 C513.3,219.2 546.7,215.0 580.0,215.0 C613.3,215.0 648.3,217.5 680.0,230.0 C711.7,242.5 745.0,266.7 770.0,290.0 C795.0,313.3 816.7,343.3 830.0,370.0 C843.3,396.7 851.7,426.7 850.0,450.0 C848.3,473.3 833.3,491.7 820.0,510.0 C806.7,528.3 778.3,540.0 770.0,560.0 C761.7,580.0 776.7,608.3 770.0,630.0 C763.3,651.7 751.7,675.0 730.0,690.0 C708.3,705.0 671.7,715.0 640.0,720.0 C608.3,725.0 573.3,718.3 540.0,720.0 C506.7,721.7 470.0,730.0 440.0,730.0 C410.0,730.0 385.0,726.7 360.0,720.0 C335.0,713.3 311.7,700.0 290.0,690.0 C268.3,680.0 246.7,670.0 230.0,660.0 C213.3,650.0 198.3,646.7 190.0,630.0 C181.7,613.3 180.0,586.7 180.0,560.0 Z" fill="none" stroke="#222" stroke-width="40" opacity="0.35" filter="url(#cbf2)"/>
<path d="M200.0,455.0 C201.7,442.5 220.0,412.5 235.0,395.0 C250.0,377.5 269.2,361.2 290.0,350.0 C310.8,338.8 336.7,332.0 360.0,328.0 C383.3,324.0 406.7,323.2 430.0,326.0 C453.3,328.8 478.3,335.2 500.0,345.0 C521.7,354.8 536.7,375.0 560.0,385.0 C583.3,395.0 616.7,398.3 640.0,405.0 C663.3,411.7 690.0,417.5 700.0,425.0 C710.0,432.5 713.3,445.5 700.0,450.0 C686.7,454.5 646.7,455.0 620.0,452.0 C593.3,449.0 565.0,436.5 540.0,432.0 C515.0,427.5 486.7,421.2 470.0,425.0 C453.3,428.8 447.5,439.2 440.0,455.0 C432.5,470.8 424.2,497.5 425.0,520.0 C425.8,542.5 430.8,571.7 445.0,590.0 C459.2,608.3 489.2,616.7 510.0,630.0 C530.8,643.3 551.7,654.7 570.0,670.0 C588.3,685.3 623.3,712.7 620.0,722.0 C616.7,731.3 571.7,731.3 550.0,726.0 C528.3,720.7 510.8,702.7 490.0,690.0 C469.2,677.3 440.8,666.7 425.0,650.0 C409.2,633.3 402.5,613.3 395.0,590.0 C387.5,566.7 388.3,535.0 380.0,510.0 C371.7,485.0 361.7,455.0 345.0,440.0 C328.3,425.0 300.0,415.0 280.0,420.0 C260.0,425.0 238.3,464.2 225.0,470.0 C211.7,475.8 198.3,467.5 200.0,455.0 Z" fill="#2c7f1c" filter="url(#cbf22)"/>
<path d="M610.0,250.0 C620.8,246.2 665.0,253.7 680.0,262.0 C695.0,270.3 705.0,291.7 700.0,300.0 C695.0,308.3 664.2,314.5 650.0,312.0 C635.8,309.5 621.7,295.3 615.0,285.0 C608.3,274.7 599.2,253.8 610.0,250.0 Z" fill="#2c7f1c" filter="url(#cbf22)"/>
<path d="M740.0,330.0 C746.7,326.7 786.7,366.7 795.0,385.0 C803.3,403.3 796.7,436.7 790.0,440.0 C783.3,443.3 763.3,423.3 755.0,405.0 C746.7,386.7 733.3,333.3 740.0,330.0 Z" fill="#2c7f1c" filter="url(#cbf22)"/>
</g>
<g>
<path d="M75,480 L280,232" stroke="#8e8e8e" stroke-width="64" stroke-linecap="round"/>
<path d="M75,480 L280,232" stroke="#c0c0c0" stroke-width="50" stroke-linecap="round"/>
<circle cx="310" cy="148" r="95" fill="#c2c2c2" stroke="#9a9a9a" stroke-width="7"/>
<ellipse cx="305" cy="165" rx="24" ry="36" transform="rotate(25 305 165)" fill="#e6e6e6" stroke="#8a8a8a" stroke-width="10"/>
<ellipse cx="392" cy="230" rx="80" ry="100" transform="rotate(-10 392 230)" fill="#c4c4c4" stroke="#9a9a9a" stroke-width="7"/>
<circle cx="280" cy="240" r="38" fill="none" stroke="#d6d6d6" stroke-width="10"/>
<rect x="360" y="190" width="30" height="65" rx="10" transform="rotate(45 375 222)" fill="#3a8a2a"/>
<path d="M400,300 L460,310 L520,400 L470,390Z" fill="#111"/>
</g>
</g></defs>
<use href="#fmri" transform="translate(0,620) scale(0.15135)"/>
<defs><filter id="sblur" x="-5%" y="-5%" width="110%" height="110%"><feGaussianBlur stdDeviation="0.55"/></filter></defs>
<g filter="url(#sblur)"><use href="#fmri" transform="translate(898.84,318.57) scale(0.08733)"/></g>
<g filter="url(#sblur)"><use href="#fmri" transform="translate(900.94,724.07) scale(0.08733)"/></g>
<use href="#dti" transform="translate(625,605) scale(0.18285)"/>
<g filter="url(#sblur)" opacity="0.8"><use href="#dti" transform="translate(894.25,57.55) scale(0.09002)"/></g>
<g filter="url(#sblur)" opacity="0.8"><use href="#dti" transform="translate(900.06,448.52) scale(0.08685)"/></g>
<use href="#coilbrain1" transform="translate(1100,30) scale(0.12610)"/>
<use href="#coilbrain2" transform="translate(1090,425) scale(0.14510)"/>
</svg>
</body></html>
